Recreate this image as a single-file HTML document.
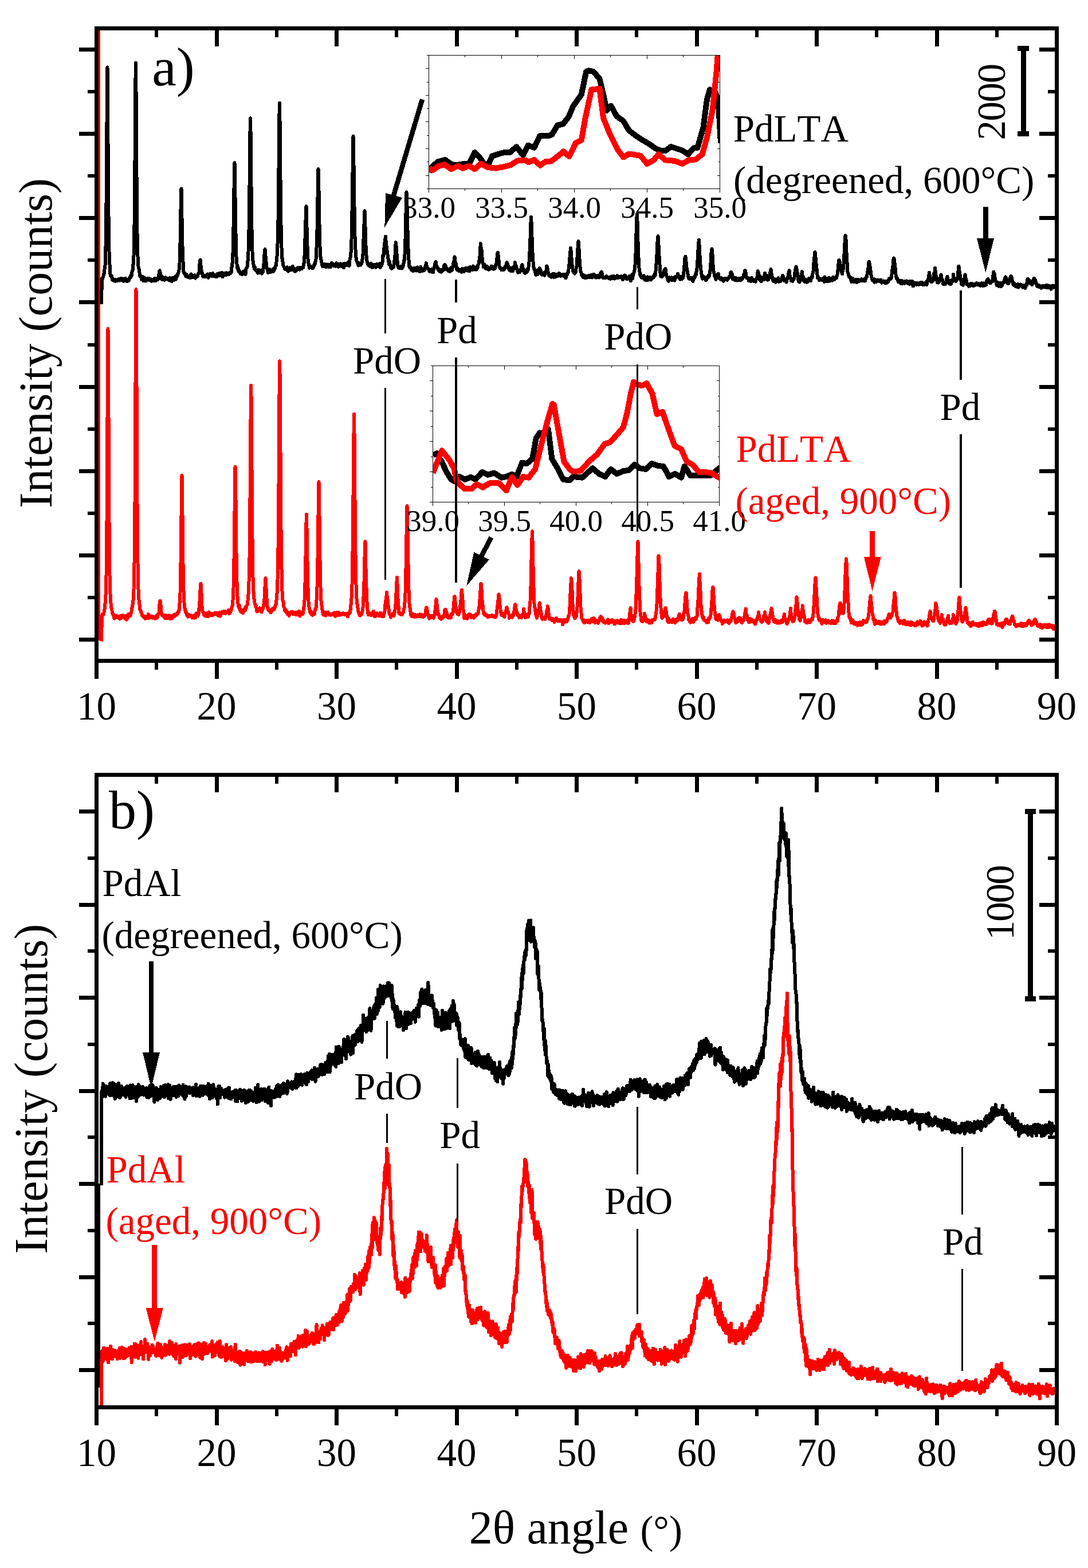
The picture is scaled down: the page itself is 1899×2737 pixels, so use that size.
<!DOCTYPE html>
<html><head><meta charset="utf-8"><title>XRD patterns</title><style>html,body{margin:0;padding:0;background:#fff}svg{display:block}</style></head><body>
<svg width="1899" height="2737" viewBox="0 0 1899 2737" shape-rendering="crispEdges">
<rect width="100%" height="100%" fill="#fff"/>
<defs><clipPath id="ca"><rect x="172" y="53" width="1669" height="1097"/></clipPath><clipPath id="cb"><rect x="172" y="1355" width="1669" height="1098"/></clipPath><clipPath id="ci1"><rect x="749" y="97" width="507" height="232"/></clipPath><clipPath id="ci2"><rect x="756" y="639" width="499" height="237"/></clipPath></defs>
<g clip-path="url(#ca)">
<rect x="172" y="53" width="3" height="1065" fill="#f00"/>
<polyline points="177,527.9 178,486.3 178.5,487.1 179,486.9 179.5,484.1 180,483.8 180.5,481.8 181,478.4 181.5,477.8 182,477 182.5,470.1 183,467.4 183.5,463.7 184,448.7 184.5,430.7 185,402 185.5,356.1 186,294.3 186.5,215.4 187,145.4 187.5,117.5 188,174 188.5,249.1 189,321.8 189.5,376 190,412.7 190.5,439.3 191,452.7 191.5,461.5 192,471.5 192.5,479.2 193,481.5 193.5,482 194,482 194.5,481.2 195,482.1 195.5,485.4 196,488.9 196.5,488.3 197,486.6 197.5,487.7 198,489.6 198.5,489.2 199,490.3 199.5,490.4 200,488.8 200.5,487.6 201,487.8 201.5,490.8 202,490.7 202.5,489.2 203,489.6 203.5,489.9 204,490 204.5,490.3 205,490.4 205.5,488.8 206,488.4 206.5,487.4 207,487.4 207.5,487.8 208,487.4 208.5,489.5 209,489.1 209.5,488.6 210,487.1 210.5,486 211,488.8 211.5,488.4 212,488.4 212.5,488.1 213,486.2 213.5,486.6 214,487.7 214.5,489.7 215,488.4 215.5,487.5 216,490.7 216.5,490.6 217,487.6 217.5,488.5 218,489.2 218.5,487.9 219,486 219.5,487.8 220,489.3 220.5,488.3 221,487.7 221.5,489.3 222,491.3 222.5,490.7 223,489.5 223.5,488.6 224,489.6 224.5,489.9 225,488.9 225.5,487.2 226,486 226.5,484.7 227,483.4 227.5,484 228,484.1 228.5,480.4 229,479.4 229.5,481.7 230,480 230.5,474.5 231,472.3 231.5,472.3 232,468.7 232.5,461.7 233,455.8 233.5,446.4 234,424.7 234.5,392.7 235,346.7 235.5,282.1 236,205.7 236.5,136.9 237,109.6 237.5,157.5 238,232.9 238.5,307.5 239,367.3 239.5,407.4 240,431.7 240.5,447.7 241,457.8 241.5,464.9 242,468.3 242.5,468.9 243,472.5 243.5,475.8 244,480 244.5,482.7 245,481.6 245.5,481 246,482.5 246.5,484.3 247,485.9 247.5,488.2 248,486.4 248.5,486.3 249,484.3 249.5,483.3 250,488.4 250.5,490.4 251,489.3 251.5,488.6 252,486.6 252.5,485 253,487 253.5,490.7 254,487.8 254.5,486.4 255,489.8 255.5,490.1 256,488.4 256.5,486.6 257,487.6 257.5,487 258,485.5 258.5,485.6 259,487 259.5,488.5 260,488.6 260.5,488.2 261,487.4 261.5,486.4 262,488.6 262.5,489.4 263,487.9 263.5,489.1 264,490.6 264.5,491 265,490 265.5,488.4 266,488.3 266.5,488.5 267,489.8 267.5,490 268,489 268.5,488.6 269,489.5 269.5,487 270,485.8 270.5,489.2 271,487.3 271.5,488.9 272,490 272.5,487.2 273,486 273.5,487.1 274,488.5 274.5,486.5 275,486.2 275.5,487.2 276,487.7 276.5,486 277,481.6 277.5,478.2 278,473.6 278.5,473 279,472.5 279.5,475.6 280,477.5 280.5,479.5 281,483.9 281.5,486.4 282,486.7 282.5,487.6 283,486.1 283.5,487.8 284,487.3 284.5,484.1 285,485.2 285.5,485.9 286,485.8 286.5,486 287,487.8 287.5,488.6 288,487.8 288.5,485.8 289,484.4 289.5,487.6 290,487.1 290.5,487.2 291,487.4 291.5,486.4 292,486.6 292.5,486.4 293,486.4 293.5,485.8 294,488.9 294.5,488.7 295,489.1 295.5,489 296,485.1 296.5,485.8 297,486.7 297.5,488.7 298,490.2 298.5,489.5 299,489.2 299.5,490.7 300,490.9 300.5,488.5 301,486.6 301.5,484.8 302,485.9 302.5,488 303,489 303.5,486.5 304,485.6 304.5,486.8 305,484.6 305.5,484.7 306,483.1 306.5,482.5 307,487.8 307.5,485.9 308,482.5 308.5,480.9 309,479.3 309.5,481.8 310,480.5 310.5,478.5 311,477.9 311.5,475.6 312,473.8 312.5,471.2 313,467 313.5,458.8 314,443.3 314.5,424.3 315,400.1 315.5,365.5 316,338 316.5,329.5 317,350.4 317.5,380.1 318,407 318.5,429.7 319,445.7 319.5,457 320,469 320.5,474.5 321,476.1 321.5,476.8 322,476.1 322.5,476.6 323,478.9 323.5,480 324,479.7 324.5,482.5 325,481.7 325.5,479.1 326,480.7 326.5,482.4 327,483.1 327.5,481.7 328,482.2 328.5,483.8 329,484.1 329.5,483.1 330,483 330.5,484.6 331,483.6 331.5,483.1 332,483.2 332.5,485 333,481.9 333.5,478.5 334,480.1 334.5,481.4 335,482.6 335.5,482.5 336,484.1 336.5,482.6 337,480.7 337.5,482.3 338,481.9 338.5,482.5 339,484.3 339.5,482.9 340,480.3 340.5,483 341,485.6 341.5,484.1 342,483.5 342.5,482.8 343,483.5 343.5,483.3 344,481.2 344.5,481.7 345,482.1 345.5,479.6 346,477.5 346.5,478.2 347,477.7 347.5,475.2 348,469.1 348.5,460.2 349,456 349.5,453.4 350,458.7 350.5,462.8 351,469.9 351.5,473.1 352,472.8 352.5,475.1 353,477.6 353.5,479.9 354,482.1 354.5,482.6 355,483.4 355.5,482.2 356,482.8 356.5,482.9 357,482.1 357.5,482 358,481.1 358.5,482.2 359,482.4 359.5,483.2 360,482.2 360.5,481.2 361,481.7 361.5,480.2 362,479 362.5,478.5 363,479.4 363.5,484 364,484.8 364.5,481 365,479.3 365.5,481.4 366,481.7 366.5,478.5 367,477.8 367.5,478.4 368,478.4 368.5,480.4 369,481.7 369.5,479 370,478.3 370.5,478.6 371,477.8 371.5,477.3 372,480.8 372.5,482.2 373,480.8 373.5,482.1 374,480.9 374.5,480.5 375,481.5 375.5,481.1 376,483 376.5,483.1 377,480.1 377.5,480.5 378,482.9 378.5,483.3 379,480.5 379.5,478.2 380,477.6 380.5,477.8 381,479.4 381.5,481.1 382,477.9 382.5,476.8 383,478.2 383.5,479 384,481.4 384.5,479.6 385,477.9 385.5,477.6 386,478.6 386.5,477.7 387,475.9 387.5,476.9 388,479.7 388.5,483.4 389,481.9 389.5,477.5 390,477.5 390.5,477.9 391,478.3 391.5,478 392,476.9 392.5,478.2 393,479.2 393.5,479.1 394,480 394.5,480.2 395,476.4 395.5,477.3 396,479.1 396.5,477.2 397,479.3 397.5,478.8 398,477.1 398.5,477.4 399,478.9 399.5,479.2 400,477.8 400.5,476.3 401,477.2 401.5,476.9 402,475.4 402.5,477 403,476.2 403.5,475.6 404,470.8 404.5,466.6 405,464.8 405.5,459.9 406,453.5 406.5,441.6 407,421.9 407.5,396.9 408,367.3 408.5,329.1 409,296.3 409.5,284 410,308.3 410.5,342.6 411,376.6 411.5,407.8 412,429.9 412.5,447.6 413,458.9 413.5,461 414,465.9 414.5,468.5 415,465.7 415.5,466.9 416,470.7 416.5,474.1 417,472 417.5,472.5 418,475.3 418.5,476 419,476.2 419.5,476.7 420,478 420.5,475.6 421,476.8 421.5,478.5 422,477.7 422.5,478.9 423,476.8 423.5,475.1 424,475.1 424.5,473.9 425,475 425.5,476.3 426,477.2 426.5,478.1 427,476 427.5,472.8 428,476.1 428.5,478.9 429,474 429.5,469.3 430,467.6 430.5,467.5 431,467.4 431.5,465.7 432,461.6 432.5,455.7 433,448.8 433.5,439 434,423.9 434.5,401.5 435,369.6 435.5,324.4 436,273.1 436.5,229.3 437,206.4 437.5,228.4 438,274.2 438.5,323.8 439,367.7 439.5,400.6 440,422.8 440.5,439.4 441,450.1 441.5,455.6 442,460.1 442.5,462.1 443,463.2 443.5,467 444,469.2 444.5,467.3 445,466.1 445.5,469.3 446,471.8 446.5,472 447,472.8 447.5,472.8 448,473.6 448.5,472.9 449,473.2 449.5,475.9 450,476.7 450.5,473.4 451,470.9 451.5,471.4 452,472.6 452.5,475.2 453,475.9 453.5,472.7 454,472.4 454.5,475.4 455,474.8 455.5,476 456,475.5 456.5,474.4 457,477.7 457.5,474.2 458,470.4 458.5,471.6 459,474.4 459.5,469.4 460,462.9 460.5,460.6 461,453.3 461.5,444.7 462,438.1 462.5,435 463,437.7 463.5,446.5 464,453.8 464.5,457.6 465,462.7 465.5,466 466,469.1 466.5,470 467,470.5 467.5,474.1 468,476.1 468.5,473.9 469,473.9 469.5,473.5 470,472.8 470.5,472 471,470.4 471.5,471 472,473.8 472.5,475 473,474.1 473.5,473.9 474,473.5 474.5,473.6 475,473.8 475.5,473.2 476,470.9 476.5,469.4 477,471.5 477.5,473.7 478,472.3 478.5,468 479,468.5 479.5,469.9 480,466.9 480.5,465.3 481,463.4 481.5,463.6 482,463.7 482.5,457.3 483,451.1 483.5,447.2 484,440.9 484.5,425.5 485,406.7 485.5,384.4 486,345.1 486.5,294.5 487,242.5 487.5,198.6 488,180 488.5,208.7 489,259.8 489.5,312.4 490,358 490.5,392.5 491,415.9 491.5,432.9 492,445.3 492.5,451.5 493,451.9 493.5,456.8 494,461.6 494.5,463.4 495,464.7 495.5,465.1 496,466.6 496.5,467.1 497,469.6 497.5,469.6 498,468.8 498.5,470.4 499,470.1 499.5,467.6 500,468.8 500.5,468.3 501,466.3 501.5,469.3 502,471.7 502.5,473.2 503,473.6 503.5,473.3 504,471.8 504.5,472.5 505,472.5 505.5,472.3 506,469.9 506.5,467.3 507,469.2 507.5,470.2 508,467.6 508.5,468.1 509,471.5 509.5,470.5 510,467.7 510.5,467.5 511,465 511.5,466.8 512,468.2 512.5,468.1 513,468.9 513.5,469.5 514,471.5 514.5,473.3 515,473.7 515.5,473 516,472 516.5,471.4 517,472.6 517.5,471.5 518,468.6 518.5,469.1 519,467.8 519.5,467.4 520,469.3 520.5,468.3 521,467.6 521.5,469.6 522,470 522.5,469.2 523,470.6 523.5,469.7 524,467 524.5,467.7 525,469.5 525.5,467.3 526,467.5 526.5,469.3 527,467.9 527.5,466.9 528,466.4 528.5,467.6 529,467.2 529.5,465.3 530,461.9 530.5,459.4 531,456.2 531.5,446.6 532,430.9 532.5,416.1 533,404.1 533.5,384.6 534,365.8 534.5,360 535,378.9 535.5,396.2 536,416.6 536.5,429.8 537,440.6 537.5,451.9 538,456.7 538.5,459.6 539,462.3 539.5,464.3 540,467.7 540.5,466 541,464 541.5,466.3 542,466.2 542.5,464.9 543,465.4 543.5,466.1 544,465.7 544.5,466.4 545,468 545.5,468.3 546,467.9 546.5,468 547,465.1 547.5,463 548,464.2 548.5,464.1 549,460.9 549.5,461.2 550,460.4 550.5,456.3 551,455.3 551.5,452 552,443.9 552.5,432.3 553,419.5 553.5,401.1 554,375.9 554.5,345 555,314.6 555.5,295 556,307.6 556.5,332.2 557,361.4 557.5,391.2 558,413.4 558.5,430.5 559,442.3 559.5,448.6 560,452.4 560.5,453.5 561,455.5 561.5,458.6 562,459.8 562.5,463.5 563,464.7 563.5,465.3 564,465.5 564.5,464.9 565,464.6 565.5,461 566,460.6 566.5,463.3 567,464.4 567.5,464.6 568,464.3 568.5,465.4 569,466.2 569.5,464.6 570,464.8 570.5,462.9 571,461.5 571.5,463.6 572,465.5 572.5,465 573,461.6 573.5,462.5 574,466.2 574.5,465.7 575,463.4 575.5,463.2 576,463.1 576.5,464.4 577,466.1 577.5,464.3 578,461 578.5,461.8 579,458.6 579.5,459.9 580,460.1 580.5,460.5 581,462 581.5,462.6 582,463.3 582.5,464 583,464.1 583.5,463.5 584,462.5 584.5,463.3 585,463.5 585.5,463.3 586,464.6 586.5,463.2 587,459.4 587.5,461.5 588,463.5 588.5,464.2 589,464.4 589.5,461.3 590,464 590.5,465.9 591,462.7 591.5,461.2 592,462.4 592.5,462.5 593,462.2 593.5,464.4 594,462.2 594.5,460.3 595,462.6 595.5,464.9 596,465.4 596.5,462.9 597,463.5 597.5,463.5 598,461.6 598.5,462.4 599,461.2 599.5,464.4 600,467.2 600.5,463.7 601,461.6 601.5,459.9 602,461.1 602.5,463.3 603,462.4 603.5,461.3 604,462.5 604.5,462.6 605,459.7 605.5,460.6 606,463.1 606.5,463.2 607,462 607.5,458.6 608,457.9 608.5,460 609,463 609.5,464.2 610,460.6 610.5,454.2 611,451.1 611.5,450.4 612,447.1 612.5,440.7 613,432.9 613.5,418.6 614,395.3 614.5,369.1 615,336.5 615.5,301.5 616,266.6 616.5,237.8 617,252.6 617.5,286.6 618,324.9 618.5,360.2 619,390.6 619.5,412.7 620,425.9 620.5,436.3 621,445.2 621.5,449.6 622,452.9 622.5,455.7 623,456.2 623.5,456.8 624,459 624.5,459.5 625,460.9 625.5,463.6 626,460.3 626.5,459.1 627,460.8 627.5,460.3 628,461.4 628.5,461.9 629,462.2 629.5,462.5 630,461.8 630.5,459.9 631,458.1 631.5,459.5 632,455 632.5,452.5 633,450.5 633.5,443.5 634,431.9 634.5,417.8 635,406.9 635.5,391.4 636,378.8 636.5,368 637,380.1 637.5,395.4 638,412.8 638.5,428.3 639,438.7 639.5,445.8 640,451.3 640.5,455.5 641,457.4 641.5,459.1 642,461.4 642.5,461.4 643,461 643.5,463.4 644,463.4 644.5,462.2 645,464.6 645.5,465.1 646,463.5 646.5,463.9 647,462.2 647.5,459.6 648,460.8 648.5,462.1 649,462.5 649.5,465.1 650,467.3 650.5,465 651,463.4 651.5,462.4 652,462.5 652.5,462 653,463.4 653.5,464.4 654,463.4 654.5,462.6 655,463.6 655.5,466 656,466.7 656.5,466.1 657,461.8 657.5,460.9 658,461.3 658.5,464.2 659,465 659.5,462.3 660,463.8 660.5,465.1 661,465 661.5,464.1 662,461.2 662.5,460.2 663,460 663.5,463.3 664,467 664.5,464.9 665,463.9 665.5,464.3 666,463.2 666.5,461.8 667,460.4 667.5,457.9 668,451.7 668.5,445.4 669,446.1 669.5,446.3 670,437.3 670.5,432.1 671,429.2 671.5,423.7 672,417.7 672.5,416.7 673,412.6 673.5,419.8 674,423.9 674.5,428.5 675,433.9 675.5,437.6 676,440.6 676.5,443.9 677,448.3 677.5,452.2 678,453.1 678.5,457.3 679,461.7 679.5,458.7 680,456.9 680.5,460.9 681,462.4 681.5,464.8 682,467.2 682.5,466.8 683,468 683.5,469.1 684,467.7 684.5,466.8 685,467.4 685.5,467.3 686,467.2 686.5,467.2 687,466 687.5,461.9 688,458.6 688.5,453.8 689,448.7 689.5,445.2 690,436.7 690.5,426.6 691,423 691.5,428.8 692,435.3 692.5,442.7 693,449.7 693.5,454.7 694,460.6 694.5,464.5 695,465.2 695.5,467.7 696,467.8 696.5,468.1 697,468 697.5,467 698,467 698.5,468.2 699,467 699.5,465.3 700,465.7 700.5,466 701,468.1 701.5,468.4 702,466.1 702.5,465.7 703,466.6 703.5,464.6 704,463.2 704.5,459.6 705,454.8 705.5,455.9 706,453.7 706.5,444.5 707,431.3 707.5,417.2 708,398.2 708.5,377.1 709,357.8 709.5,335.5 710,343 710.5,358.8 711,381.4 711.5,401.7 712,419.9 712.5,434.2 713,445.6 713.5,453.9 714,459.3 714.5,465.8 715,466.8 715.5,465.9 716,466.9 716.5,466.3 717,466.7 717.5,469.1 718,471.4 718.5,470.1 719,469.7 719.5,470.7 720,470.3 720.5,469.7 721,473.4 721.5,472.8 722,469 722.5,468 723,469.8 723.5,471.1 724,469.3 724.5,468.2 725,469.2 725.5,469.1 726,471.6 726.5,472.6 727,469.9 727.5,470.1 728,468.1 728.5,466.5 729,468.3 729.5,470.1 730,469.1 730.5,471.2 731,473.3 731.5,472.8 732,473.7 732.5,471.9 733,473.5 733.5,474 734,468.8 734.5,465.9 735,468.2 735.5,472.1 736,472.2 736.5,473.3 737,472.9 737.5,471.4 738,472.6 738.5,470.6 739,469.9 739.5,471.3 740,471.8 740.5,472.2 741,471.1 741.5,467.5 742,465.5 742.5,465.7 743,462.9 743.5,461.1 744,459 744.5,463.7 745,464.8 745.5,466.1 746,468 746.5,469 747,469.1 747.5,469.4 748,469.3 748.5,469.8 749,472.3 749.5,473.4 750,473.7 750.5,472.9 751,473.7 751.5,473.3 752,472.5 752.5,473.5 753,471.7 753.5,470.2 754,471.9 754.5,472.7 755,471.9 755.5,475.3 756,475.3 756.5,471.2 757,470.6 757.5,468.6 758,465.9 758.5,465.1 759,462 759.5,459 760,458.1 760.5,457 761,457.6 761.5,461.9 762,466.3 762.5,467 763,467.5 763.5,466.5 764,468.6 764.5,470.4 765,471.5 765.5,471.1 766,469.3 766.5,470.9 767,473.1 767.5,473.8 768,472.9 768.5,472.1 769,471.2 769.5,472.4 770,474.7 770.5,474.5 771,471.1 771.5,470.7 772,471.6 772.5,470.8 773,471.8 773.5,472.1 774,470.6 774.5,467.6 775,465.2 775.5,462.6 776,463 776.5,461.8 777,462.7 777.5,464.3 778,464.4 778.5,467.5 779,470.5 779.5,469.2 780,468.7 780.5,470.4 781,471.7 781.5,471.1 782,469.9 782.5,470.7 783,472.1 783.5,473.4 784,471.9 784.5,472.9 785,474 785.5,470.9 786,468.4 786.5,468.6 787,467.5 787.5,468.1 788,471.4 788.5,472.3 789,471.8 789.5,467.5 790,465.5 790.5,467 791,462.7 791.5,458.2 792,458.2 792.5,455.6 793,449.2 793.5,448.6 794,450 794.5,455.9 795,458.9 795.5,458.8 796,462.6 796.5,466.4 797,468.4 797.5,470.9 798,471 798.5,468.2 799,468.7 799.5,470.7 800,472 800.5,473.1 801,471.2 801.5,471 802,473.1 802.5,471.9 803,471.8 803.5,472.2 804,471.2 804.5,470.8 805,471.5 805.5,475.1 806,474.4 806.5,469.5 807,468.9 807.5,469.6 808,470.2 808.5,470.7 809,473.3 809.5,474.3 810,473.5 810.5,471.7 811,469.2 811.5,472.4 812,470.6 812.5,468.3 813,468.4 813.5,470 814,470.2 814.5,467.9 815,469.4 815.5,467.6 816,470.8 816.5,472.6 817,471.5 817.5,470.9 818,467.1 818.5,468.1 819,470.1 819.5,473.3 820,471.8 820.5,466.3 821,466.7 821.5,468.9 822,470.4 822.5,469.1 823,468 823.5,469.5 824,471.2 824.5,469.7 825,468.5 825.5,465.9 826,464.5 826.5,468.3 827,469.4 827.5,468.7 828,470.5 828.5,470.2 829,466.8 829.5,467.3 830,468.7 830.5,466.9 831,467.6 831.5,470.8 832,468.5 832.5,465.1 833,465.3 833.5,467.3 834,466 834.5,462.7 835,461.3 835.5,460.5 836,458.8 836.5,454.6 837,450.8 837.5,447.7 838,438.7 838.5,430.8 839,425 839.5,430.7 840,433.8 840.5,436.3 841,444.2 841.5,448.7 842,452.9 842.5,458.9 843,459.9 843.5,460.9 844,465.9 844.5,465.8 845,463.2 845.5,461.3 846,462.6 846.5,463.9 847,464.9 847.5,469 848,469.1 848.5,466.3 849,466.5 849.5,466.9 850,464.8 850.5,464.9 851,466.7 851.5,466.9 852,467.4 852.5,470.5 853,470.7 853.5,469.1 854,467.6 854.5,468.3 855,469.6 855.5,469.3 856,468 856.5,467.1 857,465.2 857.5,464.6 858,466.4 858.5,465.7 859,468.8 859.5,468.3 860,466 860.5,467.8 861,468.6 861.5,470.1 862,467.5 862.5,465.4 863,466.2 863.5,467.4 864,468.8 864.5,466.7 865,463.8 865.5,461.5 866,460.4 866.5,460.6 867,456.9 867.5,449.8 868,444.1 868.5,441.5 869,441 869.5,445.5 870,451.6 870.5,453.6 871,460.1 871.5,464 872,465.6 872.5,467.4 873,468.2 873.5,468.9 874,467.7 874.5,468.6 875,470.3 875.5,471.3 876,470.9 876.5,469.5 877,468.9 877.5,469.7 878,469.6 878.5,468.8 879,470 879.5,471.1 880,470.8 880.5,468.9 881,466.1 881.5,466.6 882,467.5 882.5,465.3 883,463.8 883.5,463.4 884,461.1 884.5,458 885,458.8 885.5,459.4 886,461.5 886.5,462 887,465.2 887.5,464.9 888,465.4 888.5,470.5 889,471.6 889.5,469.1 890,469.2 890.5,469.1 891,467.8 891.5,471.8 892,473.1 892.5,472.9 893,471.4 893.5,467.5 894,468 894.5,471.7 895,473.2 895.5,472.2 896,469.8 896.5,467 897,465.1 897.5,466.6 898,464.9 898.5,462.1 899,458 899.5,462.5 900,463.4 900.5,463.4 901,467.1 901.5,468.6 902,468.9 902.5,470.3 903,470.8 903.5,473.3 904,475.6 904.5,472.3 905,473.1 905.5,474.8 906,472.8 906.5,472.7 907,473.8 907.5,475 908,473.2 908.5,471.6 909,469.5 909.5,470.2 910,469.1 910.5,464.1 911,462.9 911.5,462 912,466.4 912.5,467.4 913,468.3 913.5,469.9 914,472.8 914.5,474.5 915,471.6 915.5,473.6 916,476.3 916.5,477 917,475.9 917.5,472.9 918,473.3 918.5,471.9 919,471.4 919.5,474.2 920,474.9 920.5,469.8 921,469.6 921.5,471.6 922,469.3 922.5,466.5 923,462.2 923.5,457.2 924,450 924.5,439.2 925,428.4 925.5,415.7 926,400.2 926.5,388.3 927,379 927.5,387.1 928,398 928.5,413.3 929,429.6 929.5,441.1 930,448.3 930.5,457.3 931,464.4 931.5,466.4 932,468.9 932.5,470 933,471.3 933.5,471.7 934,472.4 934.5,476.9 935,479.5 935.5,479.9 936,478.1 936.5,473.6 937,472.8 937.5,471.9 938,474.7 938.5,479 939,477.2 939.5,475.3 940,474.5 940.5,472.6 941,471.8 941.5,468 942,468.9 942.5,471 943,471 943.5,471.5 944,475.5 944.5,478.2 945,475.5 945.5,476.3 946,479.7 946.5,479.6 947,479.2 947.5,479.1 948,477.6 948.5,476.7 949,476.9 949.5,476.3 950,478.7 950.5,480.8 951,478.6 951.5,475 952,474.4 952.5,473.7 953,472.9 953.5,471.1 954,465.1 954.5,464.6 955,467.6 955.5,468.7 956,471.6 956.5,474.8 957,475.9 957.5,479.1 958,481 958.5,480.4 959,480.6 959.5,481.7 960,480.2 960.5,480.2 961,481.3 961.5,481.6 962,483.6 962.5,482.5 963,480.2 963.5,480 964,481 964.5,478.9 965,478.1 965.5,479 966,481 966.5,483.9 967,481.4 967.5,478.8 968,478.1 968.5,479 969,481.6 969.5,483.5 970,480.9 970.5,479.9 971,481.3 971.5,479.3 972,479.1 972.5,479.1 973,480 973.5,481 974,481.9 974.5,481.2 975,477.6 975.5,477 976,479.7 976.5,479.1 977,477.8 977.5,480.3 978,479.5 978.5,479.9 979,482 979.5,480.3 980,479.8 980.5,479.9 981,479.5 981.5,479.7 982,480.2 982.5,480.5 983,479.6 983.5,478.6 984,482 984.5,481.8 985,479.2 985.5,481.9 986,483.3 986.5,481 987,482.3 987.5,485.3 988,482.5 988.5,478.6 989,479.4 989.5,480.2 990,478.5 990.5,477.1 991,475.7 991.5,475.5 992,475.4 992.5,470 993,462.4 993.5,461.2 994,457 994.5,449.6 995,443.5 995.5,438.3 996,432.6 996.5,437.3 997,441.7 997.5,449.5 998,457.5 998.5,462.3 999,464.3 999.5,468.7 1000,472.9 1000.5,474.3 1001,474.3 1001.5,475.9 1002,475.4 1002.5,474.2 1003,477.7 1003.5,476.6 1004,474.9 1004.5,475.8 1005,474.2 1005.5,469.3 1006,466.6 1006.5,464 1007,457.2 1007.5,449.7 1008,440.3 1008.5,432.7 1009,427.9 1009.5,421 1010,423.9 1010.5,433.8 1011,441.3 1011.5,452 1012,461 1012.5,465.8 1013,471.4 1013.5,473.6 1014,474.5 1014.5,476 1015,478.5 1015.5,480.8 1016,481.2 1016.5,480.3 1017,480.8 1017.5,483.2 1018,484.2 1018.5,482 1019,480.2 1019.5,480.5 1020,481 1020.5,481 1021,483.8 1021.5,485.2 1022,483.8 1022.5,483.5 1023,485.4 1023.5,483.5 1024,482.1 1024.5,483.2 1025,482.9 1025.5,483.3 1026,482.7 1026.5,483.3 1027,481.2 1027.5,480.9 1028,484.3 1028.5,482.9 1029,480.9 1029.5,484.4 1030,484.5 1030.5,481.8 1031,481.9 1031.5,481.6 1032,481.6 1032.5,479.7 1033,483.1 1033.5,484.5 1034,481.6 1034.5,481.8 1035,482.3 1035.5,482.5 1036,481.7 1036.5,478.7 1037,481.8 1037.5,481 1038,481.8 1038.5,480.7 1039,481.3 1039.5,484.6 1040,484.3 1040.5,482.2 1041,483.6 1041.5,484.5 1042,483.7 1042.5,482.3 1043,481.3 1043.5,482.7 1044,481.8 1044.5,481.6 1045,484.3 1045.5,484.5 1046,482.1 1046.5,483.8 1047,480.7 1047.5,478.7 1048,478.9 1048.5,476.4 1049,475.9 1049.5,476.4 1050,474.5 1050.5,476.5 1051,478.8 1051.5,482 1052,484.8 1052.5,484 1053,483.6 1053.5,484.9 1054,484.4 1054.5,484.3 1055,483.9 1055.5,484.3 1056,484.8 1056.5,484.2 1057,484.7 1057.5,484.9 1058,483.7 1058.5,482 1059,482.7 1059.5,483.7 1060,483.1 1060.5,483.7 1061,483.5 1061.5,484.2 1062,485.5 1062.5,483.9 1063,483.9 1063.5,483.8 1064,484.2 1064.5,486.1 1065,485.3 1065.5,485.6 1066,486.9 1066.5,486.3 1067,482.9 1067.5,482.6 1068,485 1068.5,485.8 1069,484.4 1069.5,484.3 1070,485.9 1070.5,485.5 1071,483.6 1071.5,481.9 1072,484.7 1072.5,486.5 1073,484.9 1073.5,484.9 1074,485.1 1074.5,483.5 1075,483 1075.5,483.5 1076,484.6 1076.5,483.9 1077,482.1 1077.5,481.4 1078,484.1 1078.5,484.6 1079,483.5 1079.5,482.5 1080,483.7 1080.5,484.6 1081,484 1081.5,484.1 1082,483.7 1082.5,483.7 1083,483.7 1083.5,484.2 1084,483.3 1084.5,481.9 1085,483.6 1085.5,484.7 1086,484.9 1086.5,487.5 1087,488.2 1087.5,487.2 1088,486.8 1088.5,485.3 1089,483.9 1089.5,481.8 1090,481.1 1090.5,480.5 1091,480.9 1091.5,481.8 1092,482 1092.5,483.9 1093,484.6 1093.5,485.7 1094,487.2 1094.5,487.4 1095,487.4 1095.5,486.5 1096,484.9 1096.5,485.1 1097,485.5 1097.5,484.7 1098,485.5 1098.5,484.4 1099,481.9 1099.5,483.5 1100,487.4 1100.5,488.1 1101,490.3 1101.5,487 1102,481.5 1102.5,480.1 1103,479.5 1103.5,484.1 1104,486.5 1104.5,482.4 1105,479.3 1105.5,478.6 1106,476.2 1106.5,475.3 1107,474.4 1107.5,471.7 1108,468 1108.5,462.3 1109,454.7 1109.5,441.8 1110,424.6 1110.5,407.1 1111,390.4 1111.5,378.2 1112,374 1112.5,385.1 1113,404 1113.5,421.3 1114,437.3 1114.5,449.5 1115,458.8 1115.5,468 1116,471.8 1116.5,474.4 1117,476.7 1117.5,480.5 1118,481.5 1118.5,479.7 1119,481.4 1119.5,484.3 1120,484.8 1120.5,483.8 1121,485 1121.5,484.6 1122,482.8 1122.5,482.4 1123,485 1123.5,484.1 1124,481.3 1124.5,484.3 1125,486.5 1125.5,488.4 1126,488.5 1126.5,485.9 1127,487.2 1127.5,489.1 1128,488.9 1128.5,488.9 1129,488.2 1129.5,485.2 1130,483.4 1130.5,487.4 1131,488.8 1131.5,484.2 1132,484.3 1132.5,487.6 1133,488 1133.5,486.9 1134,483.7 1134.5,483.8 1135,486.4 1135.5,488.3 1136,488.5 1136.5,486.5 1137,485.9 1137.5,485.7 1138,486.3 1138.5,485.7 1139,484 1139.5,482.9 1140,483.7 1140.5,484.4 1141,483.4 1141.5,481.4 1142,480 1142.5,478.6 1143,479.3 1143.5,481.2 1144,478 1144.5,473 1145,468.4 1145.5,460.5 1146,450.4 1146.5,444 1147,433.8 1147.5,422 1148,415 1148.5,412 1149,414.6 1149.5,427.4 1150,440.4 1150.5,446.6 1151,452.1 1151.5,461.6 1152,470.2 1152.5,476.4 1153,480 1153.5,482.6 1154,481.7 1154.5,479.5 1155,481.7 1155.5,482.9 1156,481.9 1156.5,481.6 1157,480.5 1157.5,481.1 1158,479 1158.5,474.1 1159,472.4 1159.5,472.4 1160,471 1160.5,470 1161,470.5 1161.5,469.3 1162,475.3 1162.5,478.6 1163,478.7 1163.5,482.1 1164,483.7 1164.5,484.4 1165,486.1 1165.5,486.3 1166,487.7 1166.5,490.3 1167,490.8 1167.5,487.1 1168,484.2 1168.5,484.8 1169,485.9 1169.5,487.1 1170,487.4 1170.5,486.8 1171,484.7 1171.5,484.4 1172,487 1172.5,489.1 1173,489.4 1173.5,487.5 1174,485.1 1174.5,485 1175,486.4 1175.5,486.2 1176,486.4 1176.5,487.2 1177,487.5 1177.5,489.5 1178,487.8 1178.5,483.3 1179,484.9 1179.5,484.9 1180,483.4 1180.5,483.9 1181,482.1 1181.5,481.9 1182,482.4 1182.5,480.6 1183,477.7 1183.5,481.3 1184,481.1 1184.5,481.9 1185,483.5 1185.5,483.7 1186,483.8 1186.5,486.4 1187,487.7 1187.5,484.2 1188,484.4 1188.5,483 1189,482.6 1189.5,486.4 1190,487.4 1190.5,486.3 1191,483 1191.5,484.2 1192,485 1192.5,482.4 1193,478.4 1193.5,474.4 1194,468.5 1194.5,463.4 1195,457.7 1195.5,450.7 1196,448.2 1196.5,447.7 1197,454.4 1197.5,456.7 1198,462.4 1198.5,468.4 1199,469.1 1199.5,472.3 1200,475.5 1200.5,478.2 1201,482.3 1201.5,482.4 1202,483.8 1202.5,486.6 1203,485 1203.5,484.7 1204,485.9 1204.5,485.1 1205,487.4 1205.5,487 1206,484.7 1206.5,485.5 1207,486.6 1207.5,487.6 1208,485.8 1208.5,486.6 1209,489.9 1209.5,490.7 1210,488.7 1210.5,485.5 1211,483.8 1211.5,484.5 1212,485.3 1212.5,484.4 1213,483.1 1213.5,479.8 1214,479.2 1214.5,480.3 1215,478.4 1215.5,474.4 1216,471 1216.5,467.9 1217,460.9 1217.5,454.3 1218,446.8 1218.5,436.8 1219,428.6 1219.5,422.5 1220,418.5 1220.5,427.1 1221,436.4 1221.5,446.3 1222,454.2 1222.5,461.8 1223,469.7 1223.5,472 1224,473.9 1224.5,478.2 1225,480.7 1225.5,484.3 1226,486.8 1226.5,485.2 1227,484.3 1227.5,483.3 1228,482.6 1228.5,486.2 1229,485.6 1229.5,484.9 1230,486.3 1230.5,485.3 1231,486.1 1231.5,488.7 1232,489.2 1232.5,487.6 1233,488.4 1233.5,485 1234,485.8 1234.5,486.3 1235,482.8 1235.5,485.3 1236,484.2 1236.5,480.5 1237,482.5 1237.5,482.9 1238,480.8 1238.5,479.2 1239,474.5 1239.5,471.5 1240,465.9 1240.5,459.7 1241,451.7 1241.5,441.2 1242,436.5 1242.5,434.5 1243,439.1 1243.5,443.9 1244,454.2 1244.5,462.4 1245,468.2 1245.5,473.6 1246,475.5 1246.5,477.1 1247,480.2 1247.5,482.8 1248,483 1248.5,483 1249,485.8 1249.5,487.9 1250,486.4 1250.5,484.4 1251,483 1251.5,485 1252,483.7 1252.5,483 1253,482 1253.5,477.7 1254,480.3 1254.5,482.9 1255,483.6 1255.5,485.7 1256,484.9 1256.5,486.6 1257,487.5 1257.5,487.5 1258,487.7 1258.5,485.1 1259,485.7 1259.5,487.2 1260,486.6 1260.5,487.7 1261,486.2 1261.5,486.4 1262,488.8 1262.5,490.4 1263,490.7 1263.5,488.9 1264,487.1 1264.5,486.7 1265,485.8 1265.5,486.3 1266,487.8 1266.5,486.8 1267,487.1 1267.5,488 1268,488.3 1268.5,486.3 1269,487.5 1269.5,488.8 1270,487.5 1270.5,487.3 1271,485.5 1271.5,485.4 1272,485.6 1272.5,483.6 1273,483.3 1273.5,484 1274,483.1 1274.5,480.8 1275,477.6 1275.5,475.5 1276,475 1276.5,475.5 1277,476.2 1277.5,479.6 1278,478.9 1278.5,482.2 1279,487.5 1279.5,485.3 1280,483.7 1280.5,484.9 1281,486.5 1281.5,486.3 1282,486.2 1282.5,488.5 1283,489.4 1283.5,486.8 1284,484.7 1284.5,486.7 1285,488.8 1285.5,489.1 1286,488.9 1286.5,489.4 1287,487.4 1287.5,486.7 1288,487.3 1288.5,487.1 1289,486.5 1289.5,487.8 1290,489.3 1290.5,486.1 1291,486.6 1291.5,488.2 1292,485.6 1292.5,487.7 1293,489.3 1293.5,488.2 1294,487.9 1294.5,487.2 1295,485 1295.5,485.6 1296,486.3 1296.5,484.8 1297,484.7 1297.5,482.3 1298,479.4 1298.5,478.5 1299,479.4 1299.5,476.6 1300,472.5 1300.5,472 1301,472.5 1301.5,475.2 1302,478.4 1302.5,482.1 1303,483.9 1303.5,485.4 1304,485.9 1304.5,484.7 1305,485 1305.5,484.9 1306,486.3 1306.5,487.8 1307,490.1 1307.5,489.2 1308,486 1308.5,486.5 1309,488.1 1309.5,487.6 1310,488.9 1310.5,490.9 1311,489.1 1311.5,486.9 1312,484.7 1312.5,484.8 1313,488.9 1313.5,488.5 1314,488.6 1314.5,490.6 1315,490.2 1315.5,490.2 1316,489.4 1316.5,489.9 1317,491.3 1317.5,490.5 1318,489.2 1318.5,490.3 1319,491.7 1319.5,488.5 1320,486.5 1320.5,485.9 1321,485.9 1321.5,483.4 1322,477.7 1322.5,475.1 1323,473 1323.5,475.8 1324,476.7 1324.5,479.3 1325,482.2 1325.5,486.7 1326,488.2 1326.5,485.3 1327,483.3 1327.5,483.1 1328,488.5 1328.5,491.4 1329,487.9 1329.5,488.7 1330,489.7 1330.5,489 1331,487.9 1331.5,487.6 1332,485 1332.5,486 1333,488.2 1333.5,484.4 1334,480.6 1334.5,481.6 1335,476.8 1335.5,482.4 1336,481.4 1336.5,482.4 1337,483.6 1337.5,482.5 1338,480.5 1338.5,484.9 1339,488 1339.5,488.2 1340,488.6 1340.5,488.6 1341,488.4 1341.5,486.6 1342,485.7 1342.5,483.6 1343,482.8 1343.5,480.1 1344,475.4 1344.5,475.3 1345,473.6 1345.5,469.8 1346,476.6 1346.5,478.5 1347,478.8 1347.5,482.7 1348,486.1 1348.5,484.6 1349,488 1349.5,490.6 1350,489.8 1350.5,491.3 1351,490 1351.5,490 1352,489.1 1352.5,486.9 1353,487.9 1353.5,491.7 1354,492.9 1354.5,491.7 1355,490.5 1355.5,489.7 1356,487.7 1356.5,486.8 1357,489.9 1357.5,489.5 1358,486.6 1358.5,485.3 1359,488.5 1359.5,492.1 1360,490.9 1360.5,491.2 1361,490.1 1361.5,488.9 1362,490.8 1362.5,491.3 1363,488.4 1363.5,487.5 1364,488.3 1364.5,484.9 1365,483 1365.5,482.9 1366,480.6 1366.5,482.9 1367,482.3 1367.5,484.5 1368,486.6 1368.5,488.1 1369,490.1 1369.5,487.8 1370,487 1370.5,489.8 1371,490.1 1371.5,488.5 1372,489.3 1372.5,492.6 1373,491.4 1373.5,487.4 1374,487.3 1374.5,486.7 1375,484 1375.5,482 1376,479 1376.5,476.6 1377,474.9 1377.5,472 1378,475.6 1378.5,480.3 1379,481.2 1379.5,484.7 1380,486.5 1380.5,487.8 1381,490.2 1381.5,489.4 1382,487.5 1382.5,488.7 1383,490.6 1383.5,491.2 1384,488.8 1384.5,487 1385,488.4 1385.5,487.9 1386,486.2 1386.5,484.2 1387,478.9 1387.5,475.2 1388,474 1388.5,469.5 1389,468.1 1389.5,465.5 1390,467.9 1390.5,469 1391,473.9 1391.5,475.6 1392,478 1392.5,482.1 1393,484.2 1393.5,489.3 1394,491.4 1394.5,489.6 1395,490.4 1395.5,492.6 1396,491.6 1396.5,490.8 1397,488.8 1397.5,485.9 1398,483.8 1398.5,480.6 1399,478.8 1399.5,476.9 1400,474 1400.5,480.5 1401,483 1401.5,482.2 1402,485.5 1402.5,489.4 1403,487.7 1403.5,486.4 1404,490.8 1404.5,492.1 1405,490.2 1405.5,489.4 1406,487.8 1406.5,489.9 1407,490.2 1407.5,489.4 1408,492.7 1408.5,492.6 1409,490.1 1409.5,490.2 1410,491.1 1410.5,489.7 1411,489.3 1411.5,488.2 1412,485.7 1412.5,486.3 1413,486.1 1413.5,485.8 1414,487.5 1414.5,488.2 1415,490.2 1415.5,488.3 1416,484.9 1416.5,484.6 1417,482.9 1417.5,484.4 1418,482.8 1418.5,477.4 1419,474.7 1419.5,473.7 1420,468.3 1420.5,458.3 1421,453.8 1421.5,448 1422,440.5 1422.5,440 1423,446.9 1423.5,448.8 1424,452.4 1424.5,460.5 1425,466.5 1425.5,469.5 1426,473.1 1426.5,480.2 1427,485.3 1427.5,483.5 1428,483.2 1428.5,485.6 1429,486.1 1429.5,486.5 1430,489.4 1430.5,489.1 1431,486.2 1431.5,487.2 1432,487.5 1432.5,487.2 1433,487.5 1433.5,486.8 1434,488.8 1434.5,489.2 1435,489.3 1435.5,489 1436,486.3 1436.5,487.6 1437,488.4 1437.5,489.1 1438,490.2 1438.5,492 1439,487.5 1439.5,483.4 1440,486.9 1440.5,487.9 1441,487.9 1441.5,491.3 1442,488.6 1442.5,486.2 1443,488.7 1443.5,487.8 1444,489.4 1444.5,489.3 1445,489 1445.5,490.6 1446,491.1 1446.5,487.2 1447,484.9 1447.5,485.5 1448,485.3 1448.5,486.7 1449,490.2 1449.5,489.6 1450,486.7 1450.5,487.3 1451,489.5 1451.5,489 1452,487.7 1452.5,489.5 1453,489.6 1453.5,486.1 1454,483.8 1454.5,487.1 1455,486.5 1455.5,485.4 1456,485.7 1456.5,486.5 1457,488 1457.5,485.2 1458,484.5 1458.5,484.6 1459,483.5 1459.5,485.4 1460,485.2 1460.5,482.5 1461,481.9 1461.5,478.9 1462,475.2 1462.5,471.6 1463,465.8 1463.5,460.3 1464,455.1 1464.5,454 1465,454.5 1465.5,456 1466,461.3 1466.5,463.7 1467,468.5 1467.5,472 1468,472.6 1468.5,473.4 1469,473.9 1469.5,477 1470,478.1 1470.5,474.9 1471,473.7 1471.5,471.2 1472,465.2 1472.5,460.7 1473,453.8 1473.5,443.3 1474,431.7 1474.5,424.2 1475,414.9 1475.5,411 1476,411.5 1476.5,418 1477,430.5 1477.5,440.9 1478,448.8 1478.5,457.4 1479,467.2 1479.5,474.4 1480,476.5 1480.5,477.3 1481,478.9 1481.5,481.9 1482,483.5 1482.5,484 1483,483.9 1483.5,483.1 1484,483.6 1484.5,486 1485,486.6 1485.5,489.8 1486,491.9 1486.5,489.9 1487,490.5 1487.5,488.5 1488,485.9 1488.5,486.9 1489,489 1489.5,490 1490,491.3 1490.5,492.4 1491,491.7 1491.5,491.4 1492,490.5 1492.5,490.2 1493,489.5 1493.5,488 1494,489.5 1494.5,488.1 1495,488.6 1495.5,492.9 1496,490.7 1496.5,489.3 1497,490.2 1497.5,488.1 1498,488.4 1498.5,490.2 1499,491 1499.5,490 1500,488.9 1500.5,488.6 1501,489.7 1501.5,490.3 1502,490.2 1502.5,489.5 1503,488.6 1503.5,488.3 1504,487.2 1504.5,489.6 1505,490.3 1505.5,488.8 1506,489.8 1506.5,488.9 1507,490.3 1507.5,490.2 1508,487.2 1508.5,490.7 1509,488.9 1509.5,488.1 1510,490.4 1510.5,488.5 1511,486.2 1511.5,485.1 1512,483.9 1512.5,483.6 1513,483.2 1513.5,479 1514,475.9 1514.5,473.2 1515,471.1 1515.5,467.6 1516,461.6 1516.5,457.5 1517,457 1517.5,458.9 1518,463.7 1518.5,465.4 1519,467 1519.5,472.2 1520,476.8 1520.5,480.3 1521,483.1 1521.5,484.7 1522,487.1 1522.5,488.9 1523,488.4 1523.5,488.6 1524,488.6 1524.5,486.7 1525,487.9 1525.5,491.1 1526,492.7 1526.5,491.4 1527,487.7 1527.5,488.4 1528,490.3 1528.5,490.8 1529,492.4 1529.5,491.3 1530,489.1 1530.5,489.2 1531,489.3 1531.5,488.6 1532,489.7 1532.5,490 1533,489.4 1533.5,489.9 1534,489.5 1534.5,490.7 1535,490.9 1535.5,490.1 1536,491.6 1536.5,491.6 1537,488.9 1537.5,488.5 1538,489.7 1538.5,491.1 1539,493.7 1539.5,493.2 1540,491 1540.5,492.6 1541,491.9 1541.5,490.5 1542,492 1542.5,491.6 1543,490.8 1543.5,491.1 1544,493.2 1544.5,493.7 1545,491.1 1545.5,490.8 1546,492.6 1546.5,494.3 1547,494.1 1547.5,492.2 1548,492.8 1548.5,493.5 1549,492 1549.5,490 1550,489.8 1550.5,491.6 1551,490.1 1551.5,486.8 1552,488.4 1552.5,488.2 1553,485.7 1553.5,486.8 1554,487.4 1554.5,486.9 1555,486.3 1555.5,485.4 1556,483.1 1556.5,479 1557,472.5 1557.5,471 1558,470.7 1558.5,464.9 1559,458.8 1559.5,452.7 1560,450.5 1560.5,452.3 1561,452.9 1561.5,458.8 1562,464 1562.5,467.3 1563,475.7 1563.5,479.1 1564,480.3 1564.5,485 1565,486.7 1565.5,485.2 1566,485.7 1566.5,488.2 1567,487.6 1567.5,489.9 1568,492.5 1568.5,492 1569,492.2 1569.5,492.1 1570,491.6 1570.5,489.6 1571,491 1571.5,492.9 1572,494.2 1572.5,492.9 1573,491.3 1573.5,495.4 1574,493.7 1574.5,489.8 1575,491.7 1575.5,495.2 1576,493.6 1576.5,491.6 1577,492.9 1577.5,492.2 1578,492.1 1578.5,494.3 1579,494.8 1579.5,491.8 1580,490.9 1580.5,492.6 1581,491.7 1581.5,490.8 1582,492.1 1582.5,490.4 1583,493.1 1583.5,493.8 1584,491.6 1584.5,493.4 1585,492.6 1585.5,494.3 1586,495.2 1586.5,492.8 1587,494.1 1587.5,495.8 1588,493.2 1588.5,490.8 1589,493.1 1589.5,494.8 1590,492 1590.5,492.9 1591,493 1591.5,491.5 1592,492.3 1592.5,490.8 1593,492.6 1593.5,499.2 1594,499.2 1594.5,495.6 1595,494.5 1595.5,494 1596,494.7 1596.5,495.5 1597,494.6 1597.5,494 1598,494.4 1598.5,495 1599,496.5 1599.5,497.2 1600,495.6 1600.5,493.7 1601,495.1 1601.5,495.4 1602,494.3 1602.5,495.2 1603,495.9 1603.5,497 1604,495.1 1604.5,494.8 1605,495.8 1605.5,495.2 1606,494.3 1606.5,493.3 1607,494.1 1607.5,496.4 1608,496.1 1608.5,495.3 1609,495.5 1609.5,492.8 1610,494.1 1610.5,496.8 1611,496.3 1611.5,495.8 1612,496.2 1612.5,495.4 1613,496.8 1613.5,496.9 1614,496.3 1614.5,494.9 1615,493.6 1615.5,496.2 1616,495.9 1616.5,492.2 1617,493.6 1617.5,496.9 1618,494.7 1618.5,492.6 1619,490.8 1619.5,488.9 1620,488.2 1620.5,485.6 1621,481.9 1621.5,479.3 1622,475.5 1622.5,479.5 1623,482.5 1623.5,484 1624,484.4 1624.5,488.1 1625,490.9 1625.5,492 1626,491.9 1626.5,492.1 1627,490.8 1627.5,488.2 1628,487.2 1628.5,487.9 1629,489 1629.5,485.3 1630,479.9 1630.5,476.7 1631,476.5 1631.5,474.8 1632,467.7 1632.5,471.8 1633,474.6 1633.5,480.1 1634,483.1 1634.5,483.7 1635,487.8 1635.5,490.9 1636,493.2 1636.5,493.2 1637,491.6 1637.5,493.5 1638,491.5 1638.5,490.8 1639,492.8 1639.5,491.3 1640,489.6 1640.5,488.2 1641,484.8 1641.5,483.9 1642,483 1642.5,479.5 1643,482.7 1643.5,485.5 1644,487.8 1644.5,488.4 1645,488.2 1645.5,489.9 1646,494.9 1646.5,493.6 1647,493.5 1647.5,496.3 1648,493.9 1648.5,493.4 1649,496.5 1649.5,496.4 1650,494.9 1650.5,495.1 1651,492.9 1651.5,491.1 1652,488.4 1652.5,485 1653,487.3 1653.5,482.6 1654,490 1654.5,487.9 1655,488.1 1655.5,490.4 1656,494.3 1656.5,494.9 1657,492 1657.5,493.5 1658,495.8 1658.5,495.9 1659,495.1 1659.5,495.7 1660,495.4 1660.5,491.9 1661,489 1661.5,491.6 1662,491.3 1662.5,489.4 1663,488.9 1663.5,486.3 1664,478.7 1664.5,484.1 1665,484.5 1665.5,487 1666,490.1 1666.5,490 1667,490.3 1667.5,490 1668,490.8 1668.5,491 1669,489.8 1669.5,488.1 1670,487.8 1670.5,488.2 1671,487.4 1671.5,483.6 1672,477.4 1672.5,473.7 1673,473 1673.5,464.6 1674,471 1674.5,473.7 1675,476.1 1675.5,478.8 1676,483.2 1676.5,486.2 1677,486.9 1677.5,490.5 1678,494.5 1678.5,496.4 1679,496.9 1679.5,495.8 1680,494.6 1680.5,495.9 1681,497.8 1681.5,492.2 1682,489.8 1682.5,491.5 1683,488.1 1683.5,485.2 1684,483.1 1684.5,479.5 1685,483.5 1685.5,485.1 1686,486.5 1686.5,488.1 1687,491.8 1687.5,496.3 1688,495 1688.5,496.1 1689,497.1 1689.5,495.5 1690,496.1 1690.5,498.1 1691,499.9 1691.5,499.2 1692,498.8 1692.5,499.3 1693,498.7 1693.5,499.1 1694,496.7 1694.5,495 1695,498.4 1695.5,497.3 1696,494.5 1696.5,498.4 1697,498.2 1697.5,496.1 1698,497.6 1698.5,497.1 1699,497.9 1699.5,499.3 1700,497.4 1700.5,498.4 1701,498.3 1701.5,495.7 1702,496.5 1702.5,497.3 1703,496.1 1703.5,496.2 1704,494.9 1704.5,494 1705,495.5 1705.5,495.3 1706,496.3 1706.5,497.4 1707,496.6 1707.5,496.3 1708,495.4 1708.5,494.9 1709,497.9 1709.5,497.5 1710,496 1710.5,496.8 1711,498.1 1711.5,498.6 1712,497.5 1712.5,495.9 1713,496.3 1713.5,494.1 1714,494.3 1714.5,496.9 1715,497.2 1715.5,498 1716,498.8 1716.5,498.1 1717,494.2 1717.5,495 1718,496.8 1718.5,496.7 1719,498.5 1719.5,497.1 1720,496 1720.5,497.5 1721,497.2 1721.5,492.9 1722,490.7 1722.5,491 1723,489.2 1723.5,487.8 1724,487.5 1724.5,487 1725,491.1 1725.5,491.6 1726,489.1 1726.5,490.9 1727,491.9 1727.5,490.8 1728,494.2 1728.5,494.3 1729,493.9 1729.5,494.1 1730,491.3 1730.5,491 1731,490.4 1731.5,490.6 1732,491.3 1732.5,488.7 1733,482.6 1733.5,480.4 1734,479.9 1734.5,474.8 1735,477.1 1735.5,477.4 1736,479.7 1736.5,484.1 1737,488.5 1737.5,490.6 1738,491 1738.5,491.5 1739,492.6 1739.5,496.2 1740,498.2 1740.5,497.2 1741,495 1741.5,493 1742,496 1742.5,499.1 1743,499.7 1743.5,499.4 1744,497.4 1744.5,495.2 1745,494.9 1745.5,494.2 1746,495.7 1746.5,498.9 1747,500.2 1747.5,497.3 1748,493.9 1748.5,496.6 1749,498.4 1749.5,494.9 1750,493.2 1750.5,495.1 1751,494.6 1751.5,493.9 1752,493.1 1752.5,490.5 1753,489.2 1753.5,487.9 1754,487.2 1754.5,484.3 1755,483.4 1755.5,483.9 1756,484.5 1756.5,487.4 1757,490 1757.5,488.5 1758,490.4 1758.5,494.6 1759,494.5 1759.5,494.2 1760,494.7 1760.5,494.6 1761,490.6 1761.5,488.2 1762,488.5 1762.5,487.2 1763,485.1 1763.5,484.6 1764,482.6 1764.5,481.8 1765,482.3 1765.5,483.6 1766,487.2 1766.5,488.2 1767,490.1 1767.5,492.3 1768,495 1768.5,494.2 1769,493.5 1769.5,498.3 1770,498.5 1770.5,496.3 1771,496 1771.5,498.3 1772,498.7 1772.5,499.3 1773,500 1773.5,498.1 1774,497.5 1774.5,498.8 1775,500.6 1775.5,499 1776,496.4 1776.5,496 1777,498 1777.5,501.6 1778,500.4 1778.5,499.1 1779,499.2 1779.5,499.5 1780,498.3 1780.5,497.9 1781,498.1 1781.5,496.4 1782,498.4 1782.5,499.1 1783,498.7 1783.5,499.6 1784,499.9 1784.5,501.1 1785,501.7 1785.5,498.9 1786,497.8 1786.5,498.1 1787,497.6 1787.5,500.3 1788,499.7 1788.5,499 1789,501.5 1789.5,502.9 1790,500.7 1790.5,497.2 1791,496.8 1791.5,495.2 1792,495.9 1792.5,497.5 1793,491.2 1793.5,487 1794,489.9 1794.5,488 1795,487.3 1795.5,487.8 1796,488.7 1796.5,489.7 1797,490.8 1797.5,494.5 1798,493 1798.5,491 1799,493.1 1799.5,494.4 1800,495.3 1800.5,495.5 1801,495.7 1801.5,497.2 1802,494.7 1802.5,490.1 1803,491.4 1803.5,490 1804,487.6 1804.5,486.2 1805,485.7 1805.5,486.9 1806,487.6 1806.5,488.1 1807,488.4 1807.5,490.2 1808,494.4 1808.5,494.7 1809,494.3 1809.5,497.7 1810,499.4 1810.5,500 1811,497.7 1811.5,498.3 1812,497.8 1812.5,498.6 1813,500.8 1813.5,498.8 1814,498.4 1814.5,500.1 1815,498.7 1815.5,500.1 1816,501.3 1816.5,501.1 1817,502.2 1817.5,502.7 1818,501 1818.5,499.7 1819,501.2 1819.5,499.3 1820,500.4 1820.5,500.9 1821,499 1821.5,499.1 1822,499 1822.5,499 1823,500 1823.5,501.6 1824,501.5 1824.5,499.3 1825,500.3 1825.5,500.8 1826,498.7 1826.5,497.7 1827,501.1 1827.5,502.4 1828,502.3 1828.5,501.2 1829,498 1829.5,501.3 1830,502.3 1830.5,500 1831,500 1831.5,499 1832,500.5 1832.5,500.3 1833,500 1833.5,500.2 1834,502.5 1834.5,504.7 1835,502.9 1835.5,499.9 1836,499 1836.5,500.4 1837,498.9 1837.5,498.6 1838,500.7 1838.5,501.8 1839,500.2 1839.5,499.4 1840,499.3 1840.5,499.4 1841,499.8" fill="none" stroke="#000" stroke-width="6" stroke-linejoin="round" stroke-linecap="square"/>
<polyline points="177,1116.5 178,1075.5 178.5,1073.6 179,1071.5 179.5,1071.5 180,1073.8 180.5,1071.9 181,1071.3 181.5,1069 182,1064.9 182.5,1064.3 183,1060.8 183.5,1053.6 184,1047.3 184.5,1038.5 185,1025.5 185.5,1004.8 186,967.2 186.5,910.9 187,832.4 187.5,730.5 188,628.7 188.5,573.8 189,625.4 189.5,725.4 190,829.9 190.5,910.4 191,965.7 191.5,1004.8 192,1024.6 192.5,1037 193,1046.9 193.5,1052.8 194,1059.4 194.5,1062.1 195,1062.8 195.5,1065.9 196,1069.7 196.5,1071.3 197,1071.2 197.5,1073.7 198,1074.4 198.5,1072.7 199,1074.8 199.5,1079.6 200,1078.9 200.5,1076.2 201,1075.5 201.5,1074.9 202,1074.8 202.5,1075.8 203,1076.4 203.5,1075.1 204,1077 204.5,1076.2 205,1076.2 205.5,1077.8 206,1075.5 206.5,1075.7 207,1076.5 207.5,1076.9 208,1077 208.5,1078.9 209,1080.5 209.5,1079.5 210,1076.8 210.5,1075 211,1077.9 211.5,1079.1 212,1077.6 212.5,1076.8 213,1078.1 213.5,1075.9 214,1073.5 214.5,1074.2 215,1076.6 215.5,1076.6 216,1074.9 216.5,1078.2 217,1078.2 217.5,1076.9 218,1077.3 218.5,1077.8 219,1080.4 219.5,1078.2 220,1075.4 220.5,1078.9 221,1081.8 221.5,1079.6 222,1078.4 222.5,1079.2 223,1078 223.5,1075.2 224,1072.1 224.5,1073.6 225,1075 225.5,1074.2 226,1072.3 226.5,1073.6 227,1074.1 227.5,1074.8 228,1073.7 228.5,1069.7 229,1069.6 229.5,1067.1 230,1063.1 230.5,1060.5 231,1058.9 231.5,1055.5 232,1053.4 232.5,1047.7 233,1038.5 233.5,1029 234,1011.6 234.5,982.7 235,940.8 235.5,878.3 236,785.9 236.5,670 237,556.5 237.5,505.3 238,557.5 238.5,669.8 239,785.7 239.5,877.1 240,941.3 240.5,982.9 241,1010 241.5,1028.9 242,1039 242.5,1047.1 243,1052.6 243.5,1055.3 244,1058.8 244.5,1064.6 245,1065.4 245.5,1065.1 246,1068.2 246.5,1069.5 247,1069.3 247.5,1071 248,1074.5 248.5,1074 249,1073.4 249.5,1074.3 250,1076.5 250.5,1075 251,1076 251.5,1077.8 252,1077.5 252.5,1077 253,1078.4 253.5,1079.7 254,1079.5 254.5,1078.5 255,1075.5 255.5,1077.6 256,1079.3 256.5,1078.3 257,1079 257.5,1079.1 258,1077.2 258.5,1074.4 259,1072 259.5,1075.1 260,1078.6 260.5,1076.7 261,1076.6 261.5,1077.5 262,1076.9 262.5,1078.3 263,1076.3 263.5,1075.6 264,1078.1 264.5,1077.4 265,1077 265.5,1075.8 266,1075.8 266.5,1077.9 267,1078.7 267.5,1077.1 268,1077.1 268.5,1078.3 269,1078.1 269.5,1077.6 270,1077.6 270.5,1077.8 271,1079.9 271.5,1079.2 272,1077.6 272.5,1077.8 273,1074.5 273.5,1074.9 274,1077.9 274.5,1078 275,1077 275.5,1074.5 276,1073 276.5,1070.8 277,1070.3 277.5,1070.4 278,1062.2 278.5,1054.2 279,1049.2 279.5,1048.7 280,1051.3 280.5,1056.3 281,1061.6 281.5,1068 282,1071.2 282.5,1073.2 283,1074.6 283.5,1074.6 284,1073.8 284.5,1075.2 285,1075.6 285.5,1074.2 286,1074.2 286.5,1075.3 287,1075.7 287.5,1075.9 288,1079.5 288.5,1079.2 289,1074.1 289.5,1074.9 290,1077.8 290.5,1077.4 291,1077.7 291.5,1078.3 292,1079 292.5,1077.6 293,1074.8 293.5,1074.8 294,1077.2 294.5,1075 295,1074.3 295.5,1074.3 296,1075.5 296.5,1079.9 297,1079.6 297.5,1076.9 298,1076.7 298.5,1078.9 299,1079.9 299.5,1080 300,1079.3 300.5,1076.4 301,1074.9 301.5,1076.7 302,1076.9 302.5,1073.9 303,1073.5 303.5,1074.9 304,1075.2 304.5,1076.3 305,1074 305.5,1072.5 306,1074.1 306.5,1073.5 307,1072.9 307.5,1072.7 308,1071.4 308.5,1073 309,1073 309.5,1070.5 310,1071.6 310.5,1070.9 311,1067.6 311.5,1066.4 312,1068.1 312.5,1066.1 313,1059.9 313.5,1053.4 314,1045.5 314.5,1035 315,1013.2 315.5,983.6 316,947.5 316.5,901.1 317,854.2 317.5,829.7 318,853.7 318.5,897.3 319,946.8 319.5,983.8 320,1013.1 320.5,1032.1 321,1042.5 321.5,1051.8 322,1056.3 322.5,1061.4 323,1065 323.5,1064.1 324,1066.6 324.5,1069.4 325,1068.8 325.5,1069 326,1072.1 326.5,1074.4 327,1071.9 327.5,1072.5 328,1076 328.5,1076.6 329,1075.1 329.5,1073 330,1073.7 330.5,1074 331,1074 331.5,1074.2 332,1074.3 332.5,1074.5 333,1075 333.5,1075.8 334,1075.4 334.5,1074.6 335,1076.8 335.5,1078.6 336,1077.2 336.5,1075 337,1075.2 337.5,1076 338,1076 338.5,1076.4 339,1078.8 339.5,1078.4 340,1074.1 340.5,1075.3 341,1077.8 341.5,1078 342,1073.3 342.5,1070.4 343,1072.3 343.5,1071.2 344,1072 344.5,1074.4 345,1075 345.5,1074.6 346,1072.4 346.5,1071.7 347,1069.7 347.5,1060.9 348,1054.9 348.5,1049.8 349,1040.7 349.5,1030 350,1020.7 350.5,1018.6 351,1028.7 351.5,1036.1 352,1047.6 352.5,1058.1 353,1063.3 353.5,1066.3 354,1068 354.5,1067.9 355,1068.7 355.5,1069.7 356,1072.6 356.5,1074 357,1074.5 357.5,1074.9 358,1072.2 358.5,1072.7 359,1074.1 359.5,1075.5 360,1072.7 360.5,1070.5 361,1073.4 361.5,1072.9 362,1072.5 362.5,1073 363,1074.5 363.5,1076.3 364,1072 364.5,1068.5 365,1070 365.5,1071.7 366,1072.4 366.5,1071.8 367,1072.7 367.5,1074.3 368,1073.6 368.5,1072.1 369,1072 369.5,1071.3 370,1072.1 370.5,1074.1 371,1071.9 371.5,1072.6 372,1073.6 372.5,1072.8 373,1072.7 373.5,1071.4 374,1072.3 374.5,1071.2 375,1070 375.5,1069.6 376,1070.5 376.5,1071.6 377,1070.5 377.5,1070.1 378,1071.2 378.5,1072.1 379,1071 379.5,1070 380,1072.4 380.5,1074.7 381,1071.1 381.5,1070.7 382,1072.6 382.5,1071.4 383,1071.3 383.5,1069.1 384,1071.6 384.5,1075.7 385,1072.6 385.5,1070.1 386,1070.2 386.5,1069.3 387,1069.7 387.5,1070.4 388,1068.3 388.5,1067.7 389,1068.1 389.5,1067.9 390,1068.2 390.5,1069.6 391,1069.5 391.5,1066.6 392,1068.8 392.5,1070 393,1069.9 393.5,1070.9 394,1069.7 394.5,1068.3 395,1067.7 395.5,1068.2 396,1067.9 396.5,1068.9 397,1068.4 397.5,1068.8 398,1067.5 398.5,1065.1 399,1067.3 399.5,1069.2 400,1069.9 400.5,1071.2 401,1070.4 401.5,1069.3 402,1068.7 402.5,1067.1 403,1065.7 403.5,1064.4 404,1062.4 404.5,1060.3 405,1059.8 405.5,1057.7 406,1054.2 406.5,1047.5 407,1037.4 407.5,1025.8 408,1005.9 408.5,975.9 409,939.2 409.5,893 410,847.3 410.5,814.7 411,832.2 411.5,871.2 412,921.2 412.5,964.7 413,994.4 413.5,1015.2 414,1029.7 414.5,1040.7 415,1050 415.5,1053.7 416,1055.6 416.5,1059.3 417,1056.7 417.5,1056.2 418,1062.4 418.5,1062.3 419,1063.4 419.5,1066.5 420,1063.5 420.5,1066.1 421,1068.3 421.5,1068.1 422,1068.7 422.5,1065.9 423,1067.1 423.5,1070.1 424,1070.2 424.5,1066.5 425,1065.5 425.5,1065.3 426,1063.5 426.5,1066.2 427,1064.8 427.5,1065.7 428,1064.9 428.5,1059.6 429,1061.5 429.5,1061.9 430,1059.6 430.5,1057.3 431,1056.6 431.5,1055.9 432,1052.3 432.5,1047.7 433,1041.7 433.5,1037 434,1028 434.5,1015.1 435,1000.1 435.5,973.5 436,930.9 436.5,870.1 437,800.8 437.5,732.4 438,672.6 438.5,690.4 439,747 439.5,817.2 440,883.9 440.5,939 441,979.7 441.5,1007.5 442,1022.7 442.5,1033.2 443,1041.6 443.5,1045.4 444,1048.1 444.5,1052 445,1054.2 445.5,1055.9 446,1058.3 446.5,1058.5 447,1058 447.5,1061.5 448,1065.5 448.5,1067.6 449,1064.1 449.5,1062.8 450,1064.3 450.5,1063.5 451,1064.2 451.5,1065.4 452,1066.3 452.5,1062.8 453,1061.4 453.5,1065.6 454,1066.5 454.5,1063.2 455,1061.8 455.5,1062.7 456,1065.2 456.5,1068.3 457,1065.6 457.5,1063.7 458,1064.2 458.5,1063.6 459,1062.8 459.5,1059.3 460,1056.7 460.5,1054.2 461,1052 461.5,1045.1 462,1035.1 462.5,1024.6 463,1013.8 463.5,1009 464,1015.3 464.5,1026.9 465,1039.8 465.5,1045 466,1050.9 466.5,1059 467,1060.1 467.5,1059.9 468,1064.6 468.5,1065 469,1064.6 469.5,1066.1 470,1065.9 470.5,1065 471,1064.9 471.5,1065.8 472,1068.1 472.5,1069.4 473,1067.4 473.5,1066.5 474,1067.1 474.5,1065 475,1062.8 475.5,1063.3 476,1063.3 476.5,1062 477,1063.1 477.5,1064 478,1064.3 478.5,1063.9 479,1061 479.5,1060.6 480,1060.3 480.5,1057.8 481,1056 481.5,1055.5 482,1051.3 482.5,1047.6 483,1043 483.5,1035.9 484,1026.6 484.5,1011 485,990 485.5,956.7 486,907.6 486.5,845.6 487,769.8 487.5,689.8 488,630.4 488.5,649.8 489,706 489.5,786.6 490,863.5 490.5,922.6 491,965.4 491.5,993.6 492,1014.1 492.5,1031.8 493,1041.9 493.5,1047.3 494,1049.9 494.5,1051.1 495,1055.9 495.5,1060 496,1060.7 496.5,1061.7 497,1064.6 497.5,1067 498,1066.3 498.5,1066.4 499,1065.7 499.5,1065.2 500,1068.5 500.5,1069.9 501,1068.6 501.5,1069.9 502,1072.5 502.5,1071.2 503,1069.2 503.5,1070 504,1073.3 504.5,1074.9 505,1072.3 505.5,1069.3 506,1069.9 506.5,1072.3 507,1071.2 507.5,1069.6 508,1069.3 508.5,1068.2 509,1068.2 509.5,1069.7 510,1069.1 510.5,1069.2 511,1068.4 511.5,1070.2 512,1071.9 512.5,1069.1 513,1070.3 513.5,1072.4 514,1070.8 514.5,1068.6 515,1069.1 515.5,1071.3 516,1072.1 516.5,1072.7 517,1072.9 517.5,1070 518,1069.1 518.5,1068.7 519,1069.7 519.5,1072.5 520,1072.5 520.5,1072 521,1070.9 521.5,1070.2 522,1066.8 522.5,1067.2 523,1073.7 523.5,1075.5 524,1072.1 524.5,1071 525,1071.8 525.5,1070.7 526,1070.2 526.5,1071.3 527,1070.7 527.5,1070.8 528,1072 528.5,1071.3 529,1068.7 529.5,1065.6 530,1063.7 530.5,1059.8 531,1053.2 531.5,1047.9 532,1036.9 532.5,1017.3 533,996.3 533.5,970.3 534,939.3 534.5,912.8 535,898 535.5,921.4 536,948 536.5,978.7 537,1006.5 537.5,1025.3 538,1038.9 538.5,1050 539,1056 539.5,1060 540,1063.3 540.5,1064.3 541,1066.3 541.5,1069.2 542,1067.3 542.5,1066.5 543,1070.4 543.5,1072.2 544,1069.2 544.5,1069.1 545,1073.2 545.5,1073.9 546,1073.1 546.5,1071.7 547,1070.6 547.5,1068.9 548,1068.3 548.5,1071.8 549,1070.9 549.5,1065.9 550,1065.2 550.5,1062.1 551,1062 551.5,1062.1 552,1054.8 552.5,1047.5 553,1037.4 553.5,1024 554,1004.8 554.5,974.5 555,939.3 555.5,899.6 556,861 556.5,841 557,864.8 557.5,899.2 558,938.8 558.5,977.2 559,1005.9 559.5,1025.3 560,1041.5 560.5,1049.2 561,1052 561.5,1056.8 562,1061.1 562.5,1064.5 563,1068.3 563.5,1069.3 564,1071.4 564.5,1073.2 565,1069.5 565.5,1069.2 566,1072.4 566.5,1073.8 567,1072.1 567.5,1070.6 568,1074.2 568.5,1074.5 569,1070.7 569.5,1068.7 570,1069.3 570.5,1071.6 571,1070.8 571.5,1072 572,1072.4 572.5,1068.5 573,1070.2 573.5,1072.5 574,1071.5 574.5,1073 575,1072.6 575.5,1071.9 576,1072 576.5,1073.1 577,1073.7 577.5,1071.8 578,1072.5 578.5,1072.4 579,1072.2 579.5,1072.1 580,1072.3 580.5,1072.6 581,1071.3 581.5,1071.9 582,1073.1 582.5,1071.1 583,1070.2 583.5,1069.5 584,1070 584.5,1073 585,1075.8 585.5,1075.1 586,1073.5 586.5,1074.9 587,1074.5 587.5,1070.5 588,1069.1 588.5,1071.8 589,1072.7 589.5,1072.4 590,1071 590.5,1068.6 591,1070.2 591.5,1073.8 592,1072.8 592.5,1072.1 593,1072 593.5,1071.2 594,1071.1 594.5,1072.3 595,1071.9 595.5,1071.1 596,1073.3 596.5,1073.1 597,1070.5 597.5,1071 598,1072.3 598.5,1070.3 599,1070.3 599.5,1071.5 600,1072.4 600.5,1072.2 601,1071.6 601.5,1072.9 602,1070.5 602.5,1071 603,1073.3 603.5,1070.9 604,1071 604.5,1073.5 605,1072.5 605.5,1070.6 606,1073.1 606.5,1075.6 607,1076.3 607.5,1074.5 608,1071 608.5,1069.8 609,1070.6 609.5,1070 610,1069.6 610.5,1070.6 611,1066.9 611.5,1064.8 612,1062 612.5,1055.6 613,1050 613.5,1044.7 614,1036.2 614.5,1020.3 615,994.8 615.5,962.3 616,922.7 616.5,865.4 617,806.5 617.5,757.3 618,722.5 618.5,755.5 619,808 619.5,870.8 620,927.4 620.5,967.9 621,999.1 621.5,1021.1 622,1033.7 622.5,1044.6 623,1051.1 623.5,1054.2 624,1057.7 624.5,1061.4 625,1063.7 625.5,1067.3 626,1069 626.5,1069.7 627,1072.2 627.5,1073.5 628,1073 628.5,1074.6 629,1074 629.5,1072.5 630,1073.3 630.5,1072.5 631,1072.6 631.5,1071.3 632,1068.4 632.5,1067.1 633,1064.3 633.5,1060.3 634,1053.8 634.5,1041.7 635,1030.6 635.5,1015.6 636,994.2 636.5,972 637,956.4 637.5,945.3 638,969.1 638.5,991.6 639,1010.9 639.5,1026 640,1038 640.5,1051 641,1060 641.5,1064.6 642,1068 642.5,1072.2 643,1073.1 643.5,1071.5 644,1071.1 644.5,1070.3 645,1071.6 645.5,1072.4 646,1071.5 646.5,1072.4 647,1072.9 647.5,1073.5 648,1074.3 648.5,1071.8 649,1070 649.5,1072.7 650,1073.2 650.5,1072.8 651,1072.2 651.5,1068.6 652,1067 652.5,1069.1 653,1071.2 653.5,1074.9 654,1076.3 654.5,1074.3 655,1074.5 655.5,1071.8 656,1070.8 656.5,1072.6 657,1074.9 657.5,1074.2 658,1070.1 658.5,1071 659,1072.6 659.5,1072.6 660,1073.1 660.5,1073.2 661,1072.2 661.5,1071.5 662,1075 662.5,1074.8 663,1072.6 663.5,1072.2 664,1069.5 664.5,1071.8 665,1074.2 665.5,1074.7 666,1075.7 666.5,1074.5 667,1072.3 667.5,1074.4 668,1075.4 668.5,1075.7 669,1076 669.5,1073.8 670,1072.6 670.5,1070.6 671,1067.6 671.5,1067.3 672,1063.2 672.5,1054.5 673,1051.3 673.5,1047.3 674,1043.2 674.5,1040.1 675,1033.6 675.5,1040.7 676,1041.9 676.5,1046.2 677,1053 677.5,1057.3 678,1059.4 678.5,1063.2 679,1067.1 679.5,1070.7 680,1072.2 680.5,1072.8 681,1072.8 681.5,1074.5 682,1077.7 682.5,1074.9 683,1072.8 683.5,1073.5 684,1073.6 684.5,1073.3 685,1072.1 685.5,1071 686,1071.2 686.5,1072.8 687,1074.6 687.5,1075.3 688,1072.6 688.5,1069.5 689,1065.9 689.5,1064.1 690,1061.1 690.5,1054.1 691,1046 691.5,1035.3 692,1023.5 692.5,1014.8 693,1008 693.5,1018.9 694,1031 694.5,1045.2 695,1053.4 695.5,1058.1 696,1067.6 696.5,1071 697,1069.1 697.5,1070.6 698,1071.7 698.5,1070 699,1071.7 699.5,1072.1 700,1070.5 700.5,1072.1 701,1073.1 701.5,1073.1 702,1071.6 702.5,1070.3 703,1070.4 703.5,1070.1 704,1067.8 704.5,1065.1 705,1062.9 705.5,1062 706,1057.3 706.5,1051.9 707,1045.8 707.5,1035.2 708,1017.6 708.5,992.5 709,964.9 709.5,933.7 710,901.8 710.5,883 711,898.8 711.5,922.5 712,953.2 712.5,983.8 713,1009.5 713.5,1030.1 714,1045 714.5,1054.3 715,1058.6 715.5,1060.3 716,1064.6 716.5,1067.3 717,1071.6 717.5,1074.2 718,1072.3 718.5,1072.6 719,1076.4 719.5,1076.4 720,1074.9 720.5,1073.3 721,1071.9 721.5,1073.8 722,1074.3 722.5,1074.5 723,1075.2 723.5,1076.7 724,1074.2 724.5,1072.9 725,1075.9 725.5,1076.2 726,1076.7 726.5,1076.3 727,1074.5 727.5,1073.7 728,1075.3 728.5,1074.8 729,1073.3 729.5,1074.8 730,1076.1 730.5,1075.8 731,1074 731.5,1075.1 732,1074.9 732.5,1073.3 733,1072.4 733.5,1073.5 734,1076.1 734.5,1073.8 735,1073.4 735.5,1076.2 736,1075.7 736.5,1073.1 737,1073.8 737.5,1076.5 738,1074.5 738.5,1074.7 739,1076.7 739.5,1076.5 740,1075 740.5,1074.5 741,1075.2 741.5,1073.9 742,1071.9 742.5,1070 743,1067.1 743.5,1062.8 744,1061 744.5,1060.5 745,1061.4 745.5,1065.5 746,1067.9 746.5,1070.3 747,1072.7 747.5,1074.5 748,1074.4 748.5,1075.9 749,1079.6 749.5,1077.9 750,1075.1 750.5,1077 751,1076.8 751.5,1077.4 752,1077.6 752.5,1075 753,1074.7 753.5,1077.4 754,1076.1 754.5,1074.9 755,1074.6 755.5,1075.1 756,1077.9 756.5,1077.4 757,1078.8 757.5,1077.1 758,1074.6 758.5,1073.4 759,1070.5 759.5,1065.1 760,1060.6 760.5,1055.8 761,1051.5 761.5,1045.9 762,1050 762.5,1053.6 763,1059.4 763.5,1064 764,1070.7 764.5,1072.7 765,1070.1 765.5,1071.2 766,1073.6 766.5,1075.9 767,1077.5 767.5,1079.1 768,1078.9 768.5,1078.1 769,1076.8 769.5,1077.9 770,1080.7 770.5,1079.4 771,1078.6 771.5,1077.9 772,1077 772.5,1077.8 773,1078.6 773.5,1076.3 774,1074.8 774.5,1076.7 775,1075.9 775.5,1074 776,1068.6 776.5,1064.5 777,1065 777.5,1063.7 778,1064.2 778.5,1066 779,1071.2 779.5,1069.6 780,1070.4 780.5,1074.1 781,1076.8 781.5,1078.1 782,1076.2 782.5,1074.8 783,1076.4 783.5,1078.5 784,1077.7 784.5,1075.7 785,1076.8 785.5,1077.6 786,1078.4 786.5,1078.6 787,1077.9 787.5,1074.7 788,1071.4 788.5,1071.3 789,1071.3 789.5,1072.4 790,1071.3 790.5,1069.1 791,1065.3 791.5,1061.6 792,1058.3 792.5,1049.2 793,1041.7 793.5,1041 794,1043.7 794.5,1049.6 795,1056.4 795.5,1059 796,1061.6 796.5,1066.8 797,1068.6 797.5,1070.1 798,1069 798.5,1070.1 799,1072.4 799.5,1070.6 800,1072.6 800.5,1072.9 801,1070.8 801.5,1069.7 802,1065.9 802.5,1063.6 803,1062.3 803.5,1056.8 804,1050.8 804.5,1046.9 805,1040.7 805.5,1033.3 806,1029.9 806.5,1036.2 807,1042.4 807.5,1047.3 808,1057.6 808.5,1064.6 809,1067 809.5,1069 810,1073.8 810.5,1079.4 811,1076.7 811.5,1074.6 812,1075 812.5,1074.9 813,1077.2 813.5,1078.5 814,1076.8 814.5,1075.7 815,1079.4 815.5,1080.1 816,1078.4 816.5,1077.9 817,1076 817.5,1073.9 818,1072.8 818.5,1072.1 819,1071.9 819.5,1072.9 820,1075.1 820.5,1074.1 821,1073.7 821.5,1073.4 822,1076.1 822.5,1077.8 823,1074.8 823.5,1077.6 824,1077.2 824.5,1075.2 825,1075.6 825.5,1076.2 826,1075.3 826.5,1076.8 827,1078.7 827.5,1076.7 828,1076.7 828.5,1076.3 829,1074.1 829.5,1074 830,1075 830.5,1073.1 831,1071.9 831.5,1074.2 832,1072.9 832.5,1072.4 833,1072 833.5,1071.3 834,1071.9 834.5,1071.1 835,1069 835.5,1064.3 836,1059.4 836.5,1062.6 837,1058.8 837.5,1046.4 838,1037.9 838.5,1031.6 839,1026.6 839.5,1018.6 840,1021.4 840.5,1028.4 841,1037.7 841.5,1046.7 842,1055 842.5,1056.4 843,1060.7 843.5,1065.5 844,1070.8 844.5,1071.7 845,1069.4 845.5,1071.5 846,1071.4 846.5,1071.3 847,1072.6 847.5,1074.3 848,1074.1 848.5,1073.5 849,1074.2 849.5,1073.6 850,1073.4 850.5,1074.7 851,1076.4 851.5,1077.3 852,1076.7 852.5,1077 853,1075.5 853.5,1075.8 854,1076.4 854.5,1074.8 855,1074.8 855.5,1075.8 856,1075.5 856.5,1075.4 857,1075.8 857.5,1074.4 858,1075.4 858.5,1074.9 859,1075.9 859.5,1076.1 860,1074 860.5,1076.4 861,1075.1 861.5,1074.8 862,1076.7 862.5,1075.7 863,1075.8 863.5,1074.6 864,1076.1 864.5,1077.5 865,1075.8 865.5,1075.5 866,1075 866.5,1073.1 867,1068.9 867.5,1064.4 868,1060.3 868.5,1056.8 869,1054.1 869.5,1047 870,1040 870.5,1037.4 871,1040.8 871.5,1044.3 872,1049.3 872.5,1055.6 873,1061.2 873.5,1064 874,1067.2 874.5,1070.5 875,1073.6 875.5,1072.8 876,1072.9 876.5,1073.4 877,1070.8 877.5,1071.6 878,1074.1 878.5,1074.9 879,1075.3 879.5,1072.8 880,1073.8 880.5,1076.9 881,1075.4 881.5,1071.5 882,1069.9 882.5,1069.5 883,1066.2 883.5,1064.4 884,1060.8 884.5,1060 885,1064.1 885.5,1065.4 886,1068.3 886.5,1067.7 887,1067.8 887.5,1071.1 888,1071.3 888.5,1073.6 889,1078.9 889.5,1077 890,1074.9 890.5,1076.4 891,1076 891.5,1076.1 892,1076.8 892.5,1075.9 893,1074.6 893.5,1077.4 894,1077.8 894.5,1075.4 895,1072.7 895.5,1072.5 896,1074.2 896.5,1072.4 897,1071.4 897.5,1066 898,1062.1 898.5,1059.3 899,1055.8 899.5,1055.3 900,1057.1 900.5,1062.2 901,1063.9 901.5,1067.1 902,1067.6 902.5,1068.7 903,1072.9 903.5,1073.9 904,1074.2 904.5,1073.5 905,1074.1 905.5,1075.9 906,1076.1 906.5,1078.4 907,1078.3 907.5,1075.7 908,1076.1 908.5,1075.5 909,1077 909.5,1078.4 910,1076.5 910.5,1077.1 911,1075.4 911.5,1073.3 912,1072.6 912.5,1073.1 913,1072.9 913.5,1070.8 914,1062.8 914.5,1067.4 915,1070.5 915.5,1071.6 916,1071.1 916.5,1075.3 917,1078.2 917.5,1077.6 918,1075.4 918.5,1074.5 919,1075.9 919.5,1075.4 920,1076.1 920.5,1075.3 921,1072.9 921.5,1075.6 922,1076.7 922.5,1071.8 923,1072.2 923.5,1072 924,1066.8 924.5,1058.7 925,1054.1 925.5,1049 926,1037 926.5,1023.2 927,1000.6 927.5,978.1 928,957.9 928.5,938.8 929,927.4 929.5,942.9 930,966.4 930.5,988 931,1007.9 931.5,1025.9 932,1042.1 932.5,1053.6 933,1059.2 933.5,1060 934,1064 934.5,1068 935,1070.9 935.5,1073.3 936,1074.1 936.5,1076.5 937,1078.7 937.5,1077.2 938,1072.9 938.5,1071.9 939,1072 939.5,1069.7 940,1066.7 940.5,1063.2 941,1056.9 941.5,1054.5 942,1052.4 942.5,1058 943,1060.7 943.5,1065.7 944,1067.9 944.5,1070.2 945,1075.7 945.5,1077.3 946,1078.1 946.5,1080.7 947,1080.6 947.5,1078.4 948,1078.1 948.5,1079.6 949,1079 949.5,1078.6 950,1079.4 950.5,1079.3 951,1080.4 951.5,1080.7 952,1079.1 952.5,1077.2 953,1076.3 953.5,1072.7 954,1069 954.5,1065.2 955,1063.3 955.5,1062.7 956,1058 956.5,1060.9 957,1066.6 957.5,1071.1 958,1071.6 958.5,1076.1 959,1080.4 959.5,1080.4 960,1080.9 960.5,1080 961,1078.6 961.5,1079.9 962,1081.7 962.5,1081.3 963,1082.3 963.5,1083 964,1081 964.5,1080.1 965,1082.8 965.5,1081.7 966,1083 966.5,1084 967,1084.6 967.5,1085.9 968,1081 968.5,1081 969,1083.1 969.5,1082.1 970,1082.2 970.5,1082.8 971,1078.9 971.5,1079.8 972,1083.4 972.5,1082.6 973,1083.9 973.5,1083.9 974,1081.6 974.5,1082.7 975,1083.8 975.5,1083.2 976,1082.8 976.5,1082.4 977,1082.1 977.5,1084.3 978,1084.2 978.5,1083.6 979,1082.7 979.5,1081.9 980,1083.9 980.5,1084.7 981,1085.4 981.5,1086.9 982,1090.1 982.5,1086.8 983,1084.1 983.5,1083.7 984,1081.7 984.5,1082.8 985,1085 985.5,1085.9 986,1084.6 986.5,1085.2 987,1084 987.5,1081.6 988,1082.9 988.5,1081.8 989,1083.5 989.5,1085.1 990,1082.6 990.5,1082.6 991,1080.5 991.5,1078.8 992,1076.9 992.5,1074.9 993,1074.3 993.5,1072.4 994,1066.9 994.5,1059.5 995,1050.4 995.5,1036.1 996,1025.7 996.5,1017.9 997,1009.2 997.5,1014.4 998,1021.9 998.5,1031.2 999,1044.3 999.5,1055.3 1000,1061.4 1000.5,1066.5 1001,1071.6 1001.5,1074.8 1002,1076.3 1002.5,1074.3 1003,1074.8 1003.5,1079.5 1004,1078.9 1004.5,1076.5 1005,1077.8 1005.5,1076.6 1006,1072.5 1006.5,1070 1007,1067 1007.5,1060.3 1008,1052.7 1008.5,1042.2 1009,1028.6 1009.5,1015.9 1010,1005.8 1010.5,997 1011,1000.7 1011.5,1010.4 1012,1024.3 1012.5,1036.2 1013,1048.6 1013.5,1060 1014,1067 1014.5,1070.1 1015,1074.3 1015.5,1079.3 1016,1080.9 1016.5,1080.9 1017,1081.9 1017.5,1083.3 1018,1081.5 1018.5,1083.6 1019,1086.4 1019.5,1087.1 1020,1087.2 1020.5,1083.8 1021,1084.8 1021.5,1085.8 1022,1085.9 1022.5,1085.3 1023,1083.7 1023.5,1083.4 1024,1083.1 1024.5,1084.5 1025,1083.8 1025.5,1083.5 1026,1086.3 1026.5,1085 1027,1083.4 1027.5,1083.6 1028,1083.4 1028.5,1084.5 1029,1085.8 1029.5,1086.7 1030,1085.1 1030.5,1084.8 1031,1084.7 1031.5,1082.4 1032,1081.8 1032.5,1080.5 1033,1081.3 1033.5,1080.9 1034,1080.3 1034.5,1084.9 1035,1082.7 1035.5,1079.5 1036,1079 1036.5,1079.5 1037,1079.4 1037.5,1081.5 1038,1082.7 1038.5,1086.2 1039,1086.9 1039.5,1084.9 1040,1084.7 1040.5,1083.8 1041,1083.3 1041.5,1082.9 1042,1084.8 1042.5,1085.8 1043,1085.6 1043.5,1086 1044,1087.8 1044.5,1087 1045,1084.7 1045.5,1083.5 1046,1083.4 1046.5,1083 1047,1080.5 1047.5,1077.8 1048,1077.2 1048.5,1080 1049,1076 1049.5,1078.3 1050,1079 1050.5,1080.8 1051,1079 1051.5,1079.4 1052,1083.7 1052.5,1085.4 1053,1082.9 1053.5,1084 1054,1086 1054.5,1085.2 1055,1085.4 1055.5,1085.3 1056,1086.2 1056.5,1087.6 1057,1086 1057.5,1085.5 1058,1086.7 1058.5,1086.1 1059,1085.7 1059.5,1085.6 1060,1084.6 1060.5,1082.4 1061,1081.3 1061.5,1082.4 1062,1083.9 1062.5,1088.3 1063,1087.1 1063.5,1083.4 1064,1082.9 1064.5,1083 1065,1084.3 1065.5,1085.6 1066,1084.2 1066.5,1083.9 1067,1085.9 1067.5,1084.9 1068,1083.1 1068.5,1082.2 1069,1083.5 1069.5,1085.4 1070,1085.5 1070.5,1083.9 1071,1084.4 1071.5,1084.1 1072,1084.7 1072.5,1089.5 1073,1087.8 1073.5,1085.5 1074,1085.1 1074.5,1083.9 1075,1085.7 1075.5,1087.1 1076,1086.5 1076.5,1086.7 1077,1085.1 1077.5,1083.2 1078,1084.8 1078.5,1085.1 1079,1085 1079.5,1087.1 1080,1086.8 1080.5,1085.8 1081,1086.8 1081.5,1088 1082,1087.3 1082.5,1085.7 1083,1086.6 1083.5,1081.9 1084,1081.7 1084.5,1086.8 1085,1088.2 1085.5,1085.7 1086,1083.6 1086.5,1086.4 1087,1085.3 1087.5,1082.8 1088,1084.9 1088.5,1086.7 1089,1087.6 1089.5,1088.1 1090,1086.8 1090.5,1084.2 1091,1083.1 1091.5,1084.4 1092,1085.6 1092.5,1085.7 1093,1086.2 1093.5,1085.3 1094,1083.8 1094.5,1083.1 1095,1086.1 1095.5,1087.5 1096,1086.2 1096.5,1088 1097,1087.2 1097.5,1084.7 1098,1081.1 1098.5,1077.9 1099,1072.9 1099.5,1068.9 1100,1069.1 1100.5,1061 1101,1069.7 1101.5,1072.7 1102,1075.7 1102.5,1077.9 1103,1079.9 1103.5,1082.8 1104,1083.5 1104.5,1081.6 1105,1083.3 1105.5,1084.9 1106,1084.7 1106.5,1083.1 1107,1078.5 1107.5,1077.4 1108,1076.2 1108.5,1071.9 1109,1069.7 1109.5,1064.6 1110,1052.1 1110.5,1037.7 1111,1023.7 1111.5,1007.9 1112,988.3 1112.5,970.2 1113,957.8 1113.5,945.3 1114,963.5 1114.5,982.4 1115,1004.2 1115.5,1022.7 1116,1037.5 1116.5,1048 1117,1061 1117.5,1067.7 1118,1071.6 1118.5,1076.2 1119,1080.7 1119.5,1083.4 1120,1084.2 1120.5,1084.5 1121,1081.3 1121.5,1083.8 1122,1084.8 1122.5,1081.6 1123,1081 1123.5,1077.5 1124,1076.8 1124.5,1077.1 1125,1071 1125.5,1073.2 1126,1074.3 1126.5,1077.3 1127,1081.9 1127.5,1083.5 1128,1083.7 1128.5,1084.4 1129,1085 1129.5,1085.5 1130,1084.6 1130.5,1083.6 1131,1082.4 1131.5,1082.3 1132,1084.1 1132.5,1084.6 1133,1086 1133.5,1087.5 1134,1084.1 1134.5,1083.6 1135,1086.8 1135.5,1085.4 1136,1085.4 1136.5,1085.3 1137,1085.8 1137.5,1087.3 1138,1084.9 1138.5,1082 1139,1081.9 1139.5,1082.7 1140,1082.9 1140.5,1082.4 1141,1082 1141.5,1081.9 1142,1081.4 1142.5,1082.1 1143,1080.6 1143.5,1078.9 1144,1078.3 1144.5,1074.2 1145,1070.5 1145.5,1067.5 1146,1062.8 1146.5,1054.1 1147,1042.8 1147.5,1027.8 1148,1012.8 1148.5,999 1149,983.5 1149.5,970.3 1150,974.6 1150.5,983.1 1151,999.8 1151.5,1015.9 1152,1030.1 1152.5,1044.2 1153,1054.8 1153.5,1060.8 1154,1066.3 1154.5,1072.1 1155,1077.1 1155.5,1078.7 1156,1078.3 1156.5,1076.1 1157,1075.1 1157.5,1075.4 1158,1074.3 1158.5,1075.7 1159,1074.4 1159.5,1072.2 1160,1070.2 1160.5,1065.4 1161,1062.5 1161.5,1061 1162,1061.5 1162.5,1065.7 1163,1070.3 1163.5,1072.9 1164,1076 1164.5,1078.6 1165,1080.4 1165.5,1084.7 1166,1085.5 1166.5,1081.4 1167,1079.3 1167.5,1081 1168,1083.8 1168.5,1085.9 1169,1085.6 1169.5,1084.5 1170,1085.3 1170.5,1083.9 1171,1083.1 1171.5,1084.7 1172,1084.3 1172.5,1082.9 1173,1084 1173.5,1086.3 1174,1085.8 1174.5,1081.6 1175,1080.5 1175.5,1082.9 1176,1084.3 1176.5,1084.3 1177,1083.2 1177.5,1084.9 1178,1087 1178.5,1085.9 1179,1083 1179.5,1081.4 1180,1083.5 1180.5,1084.1 1181,1083.2 1181.5,1083.9 1182,1083.7 1182.5,1083.6 1183,1081.1 1183.5,1078.7 1184,1078.6 1184.5,1077.6 1185,1074 1185.5,1074.9 1186,1072 1186.5,1073.5 1187,1074.4 1187.5,1075.8 1188,1077.1 1188.5,1078.4 1189,1081.7 1189.5,1082.2 1190,1081.4 1190.5,1080.9 1191,1081.9 1191.5,1081.3 1192,1079.6 1192.5,1079.8 1193,1076.6 1193.5,1070.7 1194,1067.8 1194.5,1067.1 1195,1062.4 1195.5,1053.3 1196,1046.6 1196.5,1040.7 1197,1037.1 1197.5,1034.6 1198,1038.5 1198.5,1045.7 1199,1054.5 1199.5,1062.4 1200,1068.5 1200.5,1071.2 1201,1072.5 1201.5,1075.3 1202,1079.7 1202.5,1083 1203,1083.8 1203.5,1083.4 1204,1084.2 1204.5,1085.7 1205,1086.6 1205.5,1085 1206,1082 1206.5,1084.1 1207,1086 1207.5,1083.1 1208,1081.3 1208.5,1080.1 1209,1082.2 1209.5,1084.2 1210,1084.2 1210.5,1085.7 1211,1084.4 1211.5,1083 1212,1082.8 1212.5,1081 1213,1078.5 1213.5,1078 1214,1081.3 1214.5,1080.7 1215,1078.6 1215.5,1077.7 1216,1077.6 1216.5,1076.2 1217,1068.7 1217.5,1060.8 1218,1055.6 1218.5,1047.4 1219,1035.4 1219.5,1025.1 1220,1015.1 1220.5,1007 1221,1001.7 1221.5,1015.4 1222,1020.2 1222.5,1031.6 1223,1044.5 1223.5,1055.6 1224,1063.3 1224.5,1066.5 1225,1071 1225.5,1073.5 1226,1075 1226.5,1078.7 1227,1079.3 1227.5,1077.4 1228,1077.9 1228.5,1080 1229,1082.4 1229.5,1083.2 1230,1082.7 1230.5,1082.4 1231,1082.8 1231.5,1083.3 1232,1084 1232.5,1085.1 1233,1086.2 1233.5,1086.6 1234,1084.4 1234.5,1082.6 1235,1083.1 1235.5,1084.9 1236,1086.3 1236.5,1084.4 1237,1080.6 1237.5,1078.5 1238,1078.2 1238.5,1079.3 1239,1079 1239.5,1077.3 1240,1075.3 1240.5,1073.1 1241,1067 1241.5,1061.3 1242,1056.6 1242.5,1048.6 1243,1040.1 1243.5,1030.5 1244,1026.7 1244.5,1024.8 1245,1031.3 1245.5,1039.4 1246,1047.8 1246.5,1055.8 1247,1063 1247.5,1066.9 1248,1069.3 1248.5,1074.6 1249,1077.4 1249.5,1080.6 1250,1081.3 1250.5,1079.6 1251,1081.3 1251.5,1081.5 1252,1080.3 1252.5,1079.8 1253,1082.6 1253.5,1080.5 1254,1074.1 1254.5,1074.2 1255,1076.3 1255.5,1073 1256,1074.8 1256.5,1075.7 1257,1079.3 1257.5,1079.9 1258,1080.4 1258.5,1082.9 1259,1084.8 1259.5,1084.7 1260,1084.1 1260.5,1086.8 1261,1089 1261.5,1085.4 1262,1085.5 1262.5,1086.4 1263,1085 1263.5,1084 1264,1082.5 1264.5,1083.2 1265,1084.4 1265.5,1085.4 1266,1085 1266.5,1085.2 1267,1084.9 1267.5,1085.5 1268,1085.4 1268.5,1084.2 1269,1083.3 1269.5,1082.4 1270,1082.5 1270.5,1084 1271,1085.9 1271.5,1085.3 1272,1086.5 1272.5,1088.1 1273,1085.8 1273.5,1084.7 1274,1084.6 1274.5,1082 1275,1082.8 1275.5,1084.6 1276,1080.6 1276.5,1080 1277,1079.7 1277.5,1076.3 1278,1072.6 1278.5,1070.6 1279,1071.2 1279.5,1067.5 1280,1069.7 1280.5,1069.5 1281,1072.3 1281.5,1076.8 1282,1078.2 1282.5,1080.9 1283,1083.6 1283.5,1083.7 1284,1084.3 1284.5,1087.1 1285,1085 1285.5,1083.1 1286,1082.4 1286.5,1082.5 1287,1085.8 1287.5,1084.7 1288,1080.9 1288.5,1079.6 1289,1080.6 1289.5,1078.6 1290,1078.3 1290.5,1077.8 1291,1078.7 1291.5,1079 1292,1080.3 1292.5,1079.1 1293,1082.1 1293.5,1085.9 1294,1084.4 1294.5,1086 1295,1087.2 1295.5,1085 1296,1084.9 1296.5,1082.5 1297,1082.9 1297.5,1083.5 1298,1081.7 1298.5,1080 1299,1076.9 1299.5,1077 1300,1075.1 1300.5,1069.1 1301,1067 1301.5,1062.8 1302,1064.8 1302.5,1071.6 1303,1073.1 1303.5,1073.4 1304,1075.6 1304.5,1077.4 1305,1082.1 1305.5,1082.2 1306,1080.9 1306.5,1084.3 1307,1086.3 1307.5,1085.7 1308,1086 1308.5,1083.6 1309,1080.9 1309.5,1080.2 1310,1082.9 1310.5,1083.4 1311,1080.7 1311.5,1081.7 1312,1083.7 1312.5,1084.7 1313,1082.7 1313.5,1084 1314,1085 1314.5,1083.6 1315,1084.7 1315.5,1083.3 1316,1083.9 1316.5,1085.5 1317,1086.4 1317.5,1088.3 1318,1089.5 1318.5,1088.4 1319,1086.6 1319.5,1085 1320,1082.4 1320.5,1082.3 1321,1082 1321.5,1079.5 1322,1077.6 1322.5,1076.2 1323,1074.1 1323.5,1074.8 1324,1068.4 1324.5,1072.7 1325,1073.7 1325.5,1078.1 1326,1078.4 1326.5,1078.9 1327,1081.3 1327.5,1082.3 1328,1083.2 1328.5,1084 1329,1085.5 1329.5,1086.1 1330,1083.6 1330.5,1083.4 1331,1084.6 1331.5,1082 1332,1080.6 1332.5,1081.7 1333,1079.7 1333.5,1074.5 1334,1073.4 1334.5,1072.6 1335,1068.4 1335.5,1073.1 1336,1075.6 1336.5,1076.6 1337,1076.6 1337.5,1080.6 1338,1084.8 1338.5,1084.9 1339,1085.2 1339.5,1086.1 1340,1085 1340.5,1082.4 1341,1084.8 1341.5,1087.8 1342,1081.7 1342.5,1080.2 1343,1080.7 1343.5,1076.5 1344,1074 1344.5,1073.3 1345,1070.9 1345.5,1067 1346,1065.1 1346.5,1061.8 1347,1067.1 1347.5,1067.8 1348,1068.6 1348.5,1073.9 1349,1076.8 1349.5,1079.4 1350,1082.1 1350.5,1083.7 1351,1085 1351.5,1085.4 1352,1085.6 1352.5,1085.8 1353,1085.4 1353.5,1082.3 1354,1082.8 1354.5,1085 1355,1084.4 1355.5,1085.6 1356,1086.8 1356.5,1087.5 1357,1086.4 1357.5,1084.1 1358,1085.2 1358.5,1087.5 1359,1086 1359.5,1084.8 1360,1085.6 1360.5,1084.7 1361,1085.8 1361.5,1087.3 1362,1087 1362.5,1085.2 1363,1084.3 1363.5,1083.1 1364,1083.7 1364.5,1084.2 1365,1083.2 1365.5,1085.8 1366,1084.9 1366.5,1082.6 1367,1080.5 1367.5,1081.7 1368,1079.3 1368.5,1074.3 1369,1072 1369.5,1079.7 1370,1080.5 1370.5,1078.9 1371,1082.2 1371.5,1080.9 1372,1082.1 1372.5,1086 1373,1087.3 1373.5,1089 1374,1087.8 1374.5,1087.3 1375,1085.9 1375.5,1083 1376,1082.3 1376.5,1082.3 1377,1080.2 1377.5,1077.9 1378,1076.1 1378.5,1074.6 1379,1070.8 1379.5,1066.3 1380,1061.8 1380.5,1069 1381,1071.6 1381.5,1076.3 1382,1077.3 1382.5,1078.5 1383,1083 1383.5,1085 1384,1082.4 1384.5,1080.8 1385,1084 1385.5,1083.8 1386,1081.6 1386.5,1079.6 1387,1078 1387.5,1075.1 1388,1068.8 1388.5,1063.6 1389,1060 1389.5,1055 1390,1047.1 1390.5,1042 1391,1046.8 1391.5,1051.4 1392,1056 1392.5,1062.7 1393,1067.8 1393.5,1071.9 1394,1072.1 1394.5,1077.1 1395,1081.5 1395.5,1080.5 1396,1082.8 1396.5,1083.5 1397,1082.1 1397.5,1079.5 1398,1076.1 1398.5,1074.2 1399,1070 1399.5,1067 1400,1065.2 1400.5,1061.9 1401,1057 1401.5,1064.1 1402,1067.6 1402.5,1070.8 1403,1075 1403.5,1077.5 1404,1075.9 1404.5,1078.7 1405,1085.2 1405.5,1085.3 1406,1083.5 1406.5,1085.3 1407,1084.7 1407.5,1085.1 1408,1087.3 1408.5,1087.4 1409,1086.7 1409.5,1085.2 1410,1085.6 1410.5,1083.6 1411,1082.2 1411.5,1085.3 1412,1085.5 1412.5,1082.9 1413,1083.9 1413.5,1086.5 1414,1085.8 1414.5,1083.5 1415,1083.1 1415.5,1083.5 1416,1081.1 1416.5,1080.2 1417,1081.7 1417.5,1081.3 1418,1080.4 1418.5,1077.7 1419,1075.8 1419.5,1071 1420,1063.2 1420.5,1058.5 1421,1050.6 1421.5,1038.6 1422,1027.8 1422.5,1019.2 1423,1011.7 1423.5,1008.3 1424,1017.1 1424.5,1025.4 1425,1033.6 1425.5,1041.6 1426,1051.1 1426.5,1059.7 1427,1067.1 1427.5,1072.2 1428,1076.2 1428.5,1076.7 1429,1078.3 1429.5,1081.2 1430,1082 1430.5,1083.4 1431,1081.9 1431.5,1081.1 1432,1083.5 1432.5,1083.7 1433,1083 1433.5,1085.3 1434,1087.8 1434.5,1088.7 1435,1086.5 1435.5,1081.7 1436,1083.6 1436.5,1086 1437,1083.9 1437.5,1084.9 1438,1086.1 1438.5,1083.4 1439,1083.6 1439.5,1083.7 1440,1084.3 1440.5,1084.8 1441,1082.3 1441.5,1084.7 1442,1087.6 1442.5,1086.5 1443,1084 1443.5,1085 1444,1086.5 1444.5,1086.1 1445,1085.5 1445.5,1083.5 1446,1083.4 1446.5,1086.9 1447,1086.7 1447.5,1084.8 1448,1085.6 1448.5,1086.9 1449,1087.3 1449.5,1085.7 1450,1087.6 1450.5,1088.3 1451,1086.5 1451.5,1085.5 1452,1083.3 1452.5,1084.7 1453,1086.1 1453.5,1086 1454,1083.7 1454.5,1085.4 1455,1088.1 1455.5,1087.1 1456,1085.8 1456.5,1084.9 1457,1086.4 1457.5,1087.6 1458,1088.4 1458.5,1084.7 1459,1083.7 1459.5,1085.9 1460,1084.8 1460.5,1084.3 1461,1084.6 1461.5,1084.5 1462,1081.1 1462.5,1077.1 1463,1076.3 1463.5,1075.2 1464,1070.4 1464.5,1065.5 1465,1060.5 1465.5,1056 1466,1053.6 1466.5,1052.4 1467,1054.3 1467.5,1055.2 1468,1057.6 1468.5,1060.4 1469,1063.7 1469.5,1070.4 1470,1070.1 1470.5,1068.4 1471,1066.5 1471.5,1066.6 1472,1070.8 1472.5,1065.7 1473,1058.4 1473.5,1054.2 1474,1043.9 1474.5,1031.4 1475,1018.4 1475.5,1003.5 1476,991 1476.5,982.5 1477,975.4 1477.5,981.9 1478,991.8 1478.5,1006.9 1479,1022.1 1479.5,1034.7 1480,1043.4 1480.5,1052.1 1481,1060.5 1481.5,1068.6 1482,1075 1482.5,1077.9 1483,1078.5 1483.5,1076.8 1484,1078.3 1484.5,1082 1485,1083.1 1485.5,1084 1486,1087.1 1486.5,1086.4 1487,1086.5 1487.5,1084.7 1488,1082.4 1488.5,1084.6 1489,1086 1489.5,1085 1490,1085 1490.5,1087.9 1491,1089.4 1491.5,1088.7 1492,1086.6 1492.5,1087.7 1493,1089.6 1493.5,1086.7 1494,1087.1 1494.5,1087.9 1495,1087.4 1495.5,1088.3 1496,1088.4 1496.5,1089.7 1497,1092 1497.5,1090.7 1498,1087.9 1498.5,1087.4 1499,1087.8 1499.5,1088.6 1500,1086.5 1500.5,1085.9 1501,1090.2 1501.5,1091 1502,1089.6 1502.5,1088.6 1503,1089.9 1503.5,1090.7 1504,1087.7 1504.5,1086.1 1505,1087 1505.5,1090 1506,1088.6 1506.5,1085.2 1507,1083.1 1507.5,1085.1 1508,1086.5 1508.5,1084.6 1509,1084.5 1509.5,1084.1 1510,1086.2 1510.5,1086.1 1511,1085.1 1511.5,1084.8 1512,1083.8 1512.5,1085 1513,1085.6 1513.5,1082.7 1514,1081 1514.5,1079.9 1515,1079 1515.5,1077.1 1516,1072.1 1516.5,1070 1517,1065.8 1517.5,1059.5 1518,1055.1 1518.5,1048.5 1519,1042.7 1519.5,1040.2 1520,1045.9 1520.5,1049.7 1521,1053.4 1521.5,1058.7 1522,1063.4 1522.5,1070.2 1523,1073.5 1523.5,1074.2 1524,1079.4 1524.5,1081.3 1525,1079.5 1525.5,1082.1 1526,1085.7 1526.5,1087.8 1527,1089.8 1527.5,1085.4 1528,1082.8 1528.5,1085.4 1529,1086.4 1529.5,1085.9 1530,1085.7 1530.5,1087.2 1531,1087.5 1531.5,1086.3 1532,1086.4 1532.5,1086.5 1533,1085.3 1533.5,1086.1 1534,1088.1 1534.5,1086 1535,1085 1535.5,1089.1 1536,1089.3 1536.5,1087 1537,1087.1 1537.5,1089.7 1538,1089.2 1538.5,1086.4 1539,1087.6 1539.5,1088.1 1540,1086.3 1540.5,1087.6 1541,1087.5 1541.5,1086.1 1542,1088.7 1542.5,1089.3 1543,1089.2 1543.5,1086.9 1544,1083.5 1544.5,1084.7 1545,1086.4 1545.5,1084.8 1546,1084.9 1546.5,1086.1 1547,1084.7 1547.5,1084.7 1548,1084.2 1548.5,1081.5 1549,1080.1 1549.5,1078.4 1550,1078.4 1550.5,1077.1 1551,1073.2 1551.5,1072.5 1552,1072 1552.5,1072.5 1553,1073.2 1553.5,1073.1 1554,1076.1 1554.5,1078.7 1555,1075.9 1555.5,1073.6 1556,1074.4 1556.5,1074.9 1557,1072.7 1557.5,1070.6 1558,1069.8 1558.5,1068.2 1559,1062.9 1559.5,1055.7 1560,1050.3 1560.5,1046.4 1561,1041.9 1561.5,1034.6 1562,1038.5 1562.5,1041.3 1563,1048.3 1563.5,1057.6 1564,1063.7 1564.5,1067 1565,1071.9 1565.5,1076 1566,1077.3 1566.5,1077.1 1567,1080 1567.5,1082.7 1568,1084.2 1568.5,1084.7 1569,1083.6 1569.5,1083.8 1570,1085.8 1570.5,1088 1571,1085.7 1571.5,1085.8 1572,1084 1572.5,1084.5 1573,1085.2 1573.5,1084.8 1574,1085.5 1574.5,1087 1575,1085.8 1575.5,1084.9 1576,1088.8 1576.5,1086.6 1577,1084.7 1577.5,1085.8 1578,1082.8 1578.5,1084.9 1579,1087.6 1579.5,1088.7 1580,1087 1580.5,1085.9 1581,1090.1 1581.5,1087.4 1582,1086.3 1582.5,1089.4 1583,1088.8 1583.5,1089.7 1584,1090.3 1584.5,1087.7 1585,1086 1585.5,1086.7 1586,1089.6 1586.5,1089.6 1587,1088.7 1587.5,1088.7 1588,1088.4 1588.5,1089.3 1589,1090 1589.5,1091.6 1590,1089.5 1590.5,1085.9 1591,1086.4 1591.5,1087.7 1592,1088.2 1592.5,1089.5 1593,1088.6 1593.5,1087.4 1594,1088 1594.5,1089.3 1595,1088.8 1595.5,1088.9 1596,1091.8 1596.5,1090.1 1597,1089.5 1597.5,1090.4 1598,1088.6 1598.5,1090.4 1599,1092 1599.5,1089.2 1600,1088.4 1600.5,1087.9 1601,1085.4 1601.5,1087.4 1602,1089 1602.5,1089.7 1603,1087 1603.5,1088.2 1604,1087.9 1604.5,1087.9 1605,1087.2 1605.5,1086.8 1606,1085.7 1606.5,1083.8 1607,1084.3 1607.5,1085.7 1608,1087.3 1608.5,1087.8 1609,1089.4 1609.5,1092.6 1610,1088.2 1610.5,1087 1611,1091.1 1611.5,1088.6 1612,1087.6 1612.5,1085.9 1613,1085.5 1613.5,1089.8 1614,1088.6 1614.5,1085.9 1615,1087.5 1615.5,1089.1 1616,1089 1616.5,1087.5 1617,1088.3 1617.5,1088.2 1618,1090.4 1618.5,1092.6 1619,1089.8 1619.5,1086.4 1620,1084 1620.5,1082.2 1621,1080.3 1621.5,1079.2 1622,1075.3 1622.5,1072.4 1623,1072.1 1623.5,1066.9 1624,1072 1624.5,1075.4 1625,1076.4 1625.5,1077.5 1626,1078.4 1626.5,1080.9 1627,1081.3 1627.5,1082.6 1628,1083.4 1628.5,1082.8 1629,1084.3 1629.5,1082.7 1630,1079.2 1630.5,1076.1 1631,1073.9 1631.5,1069.6 1632,1065.2 1632.5,1063.6 1633,1057.8 1633.5,1052.8 1634,1056.6 1634.5,1058.6 1635,1060.7 1635.5,1064.8 1636,1071.3 1636.5,1074 1637,1075.9 1637.5,1080.7 1638,1082.7 1638.5,1083.3 1639,1084.1 1639.5,1084.7 1640,1083.4 1640.5,1086.6 1641,1087.9 1641.5,1082.2 1642,1078.5 1642.5,1078.7 1643,1079.8 1643.5,1078 1644,1073.2 1644.5,1078.2 1645,1080.2 1645.5,1081.2 1646,1080.7 1646.5,1083.4 1647,1086.2 1647.5,1087.1 1648,1089.1 1648.5,1090.5 1649,1089.5 1649.5,1087.4 1650,1088.1 1650.5,1090.6 1651,1089 1651.5,1087.6 1652,1085.9 1652.5,1084.7 1653,1084.2 1653.5,1080.2 1654,1079 1654.5,1079.8 1655,1074.8 1655.5,1081.7 1656,1084 1656.5,1085.4 1657,1085.9 1657.5,1087.9 1658,1088.4 1658.5,1088.4 1659,1088 1659.5,1087.4 1660,1087.7 1660.5,1085 1661,1086.1 1661.5,1086.7 1662,1084.8 1662.5,1082.8 1663,1080.6 1663.5,1078.9 1664,1073.2 1664.5,1077.7 1665,1081.5 1665.5,1081.6 1666,1078.7 1666.5,1080.4 1667,1082.7 1667.5,1085.4 1668,1088.1 1668.5,1088.9 1669,1086.8 1669.5,1085.3 1670,1086.2 1670.5,1083.7 1671,1079.9 1671.5,1074 1672,1068.7 1672.5,1065.5 1673,1057.4 1673.5,1051.4 1674,1050.2 1674.5,1042.6 1675,1050.5 1675.5,1057 1676,1061.6 1676.5,1065.8 1677,1070.4 1677.5,1075.4 1678,1080.6 1678.5,1081.3 1679,1082.3 1679.5,1085.5 1680,1085 1680.5,1083.2 1681,1083.6 1681.5,1082.1 1682,1081.1 1682.5,1080.6 1683,1076.3 1683.5,1073.6 1684,1070.7 1684.5,1066.9 1685,1067.4 1685.5,1060.7 1686,1063.9 1686.5,1067.9 1687,1073.2 1687.5,1075.4 1688,1081.9 1688.5,1085.9 1689,1087.5 1689.5,1087.9 1690,1086.8 1690.5,1087.5 1691,1089.6 1691.5,1089.8 1692,1086.6 1692.5,1088.3 1693,1090 1693.5,1089.2 1694,1090.8 1694.5,1093.3 1695,1092.4 1695.5,1091.7 1696,1090.1 1696.5,1088.4 1697,1090.4 1697.5,1087.5 1698,1086 1698.5,1087.8 1699,1089.6 1699.5,1089.9 1700,1088.8 1700.5,1088.6 1701,1089.7 1701.5,1090.4 1702,1089.8 1702.5,1089.6 1703,1090.6 1703.5,1090 1704,1089.2 1704.5,1090.1 1705,1090.6 1705.5,1091.8 1706,1091.8 1706.5,1089 1707,1089.8 1707.5,1092.9 1708,1093.3 1708.5,1092.9 1709,1089.5 1709.5,1088.3 1710,1091.2 1710.5,1092.3 1711,1091.3 1711.5,1090.5 1712,1089.3 1712.5,1089.6 1713,1088.4 1713.5,1087.2 1714,1090.3 1714.5,1088.6 1715,1088.4 1715.5,1091.8 1716,1085.7 1716.5,1087.9 1717,1087 1717.5,1086.6 1718,1088.6 1718.5,1089.1 1719,1088.8 1719.5,1089.1 1720,1089.7 1720.5,1089.3 1721,1088.4 1721.5,1088.9 1722,1089.8 1722.5,1089.6 1723,1087.4 1723.5,1088.3 1724,1086 1724.5,1082 1725,1082.1 1725.5,1081.6 1726,1081 1726.5,1084.9 1727,1083.9 1727.5,1084.2 1728,1081.1 1728.5,1083.9 1729,1088.3 1729.5,1084.8 1730,1083.9 1730.5,1086.2 1731,1088.7 1731.5,1088.4 1732,1086.3 1732.5,1084.8 1733,1081.3 1733.5,1077.8 1734,1076.3 1734.5,1072.7 1735,1070.2 1735.5,1070.8 1736,1067 1736.5,1067.5 1737,1071.4 1737.5,1074.4 1738,1079.8 1738.5,1080.7 1739,1083.4 1739.5,1088 1740,1090.3 1740.5,1090.4 1741,1088.9 1741.5,1090 1742,1090.8 1742.5,1090.3 1743,1089.1 1743.5,1090 1744,1091.8 1744.5,1090.4 1745,1089.2 1745.5,1090.1 1746,1090.8 1746.5,1092.6 1747,1090.4 1747.5,1088.2 1748,1089.6 1748.5,1089.5 1749,1091.6 1749.5,1094.8 1750,1093.8 1750.5,1092.1 1751,1089.5 1751.5,1087.3 1752,1088.5 1752.5,1090.7 1753,1088.9 1753.5,1086.4 1754,1087.5 1754.5,1088 1755,1083.8 1755.5,1081.5 1756,1081 1756.5,1081.5 1757,1080.6 1757.5,1083.9 1758,1085 1758.5,1086.5 1759,1087.6 1759.5,1085.6 1760,1085 1760.5,1084.8 1761,1084.8 1761.5,1087.9 1762,1089.5 1762.5,1088.9 1763,1089.2 1763.5,1086.1 1764,1082.6 1764.5,1082.5 1765,1083.3 1765.5,1081.7 1766,1078 1766.5,1077.1 1767,1075.5 1767.5,1076 1768,1077.4 1768.5,1081.2 1769,1083.1 1769.5,1084 1770,1083.9 1770.5,1087.6 1771,1090 1771.5,1091.1 1772,1090.7 1772.5,1090.2 1773,1092.2 1773.5,1093.5 1774,1092.8 1774.5,1092 1775,1092 1775.5,1091.5 1776,1091.5 1776.5,1092.3 1777,1090.7 1777.5,1090.1 1778,1090.5 1778.5,1090.6 1779,1091.5 1779.5,1091.7 1780,1091.7 1780.5,1091.3 1781,1089.9 1781.5,1091.8 1782,1091.8 1782.5,1087.9 1783,1090 1783.5,1093 1784,1092.4 1784.5,1091.4 1785,1090.1 1785.5,1092.7 1786,1092.1 1786.5,1092.7 1787,1092.8 1787.5,1088.8 1788,1090.4 1788.5,1091.1 1789,1092 1789.5,1091.6 1790,1090.4 1790.5,1089.2 1791,1090.7 1791.5,1091.8 1792,1088.8 1792.5,1088.5 1793,1089.6 1793.5,1089 1794,1085.9 1794.5,1084.5 1795,1084.8 1795.5,1084.5 1796,1082.6 1796.5,1084.4 1797,1084.4 1797.5,1084.8 1798,1086.2 1798.5,1087.2 1799,1088.3 1799.5,1089.8 1800,1090.5 1800.5,1091.5 1801,1091 1801.5,1090.7 1802,1090.6 1802.5,1086 1803,1085.3 1803.5,1088.5 1804,1089 1804.5,1087.3 1805,1085.3 1805.5,1083.8 1806,1082 1806.5,1083 1807,1081 1807.5,1085.2 1808,1083.7 1808.5,1083.8 1809,1086.6 1809.5,1089.2 1810,1088.5 1810.5,1089.9 1811,1092.8 1811.5,1093.2 1812,1093 1812.5,1092.9 1813,1092.6 1813.5,1092 1814,1091.2 1814.5,1093 1815,1091.7 1815.5,1090.1 1816,1092.8 1816.5,1095.3 1817,1090.4 1817.5,1092.9 1818,1095.2 1818.5,1095 1819,1096.1 1819.5,1093.4 1820,1092.7 1820.5,1094.6 1821,1094 1821.5,1094 1822,1092.4 1822.5,1090.4 1823,1091.9 1823.5,1093.9 1824,1091.8 1824.5,1091.9 1825,1092.2 1825.5,1091.3 1826,1092.9 1826.5,1094.9 1827,1092.3 1827.5,1091.3 1828,1094.3 1828.5,1092.9 1829,1091.8 1829.5,1093.7 1830,1095.3 1830.5,1093.5 1831,1090.4 1831.5,1091 1832,1092.4 1832.5,1093.1 1833,1093.8 1833.5,1091.5 1834,1092.3 1834.5,1092.7 1835,1092.2 1835.5,1094.9 1836,1095 1836.5,1094.7 1837,1094.7 1837.5,1093.4 1838,1092 1838.5,1095.5 1839,1098.4 1839.5,1097.5 1840,1096.6 1840.5,1093.1 1841,1094.4" fill="none" stroke="#f00" stroke-width="6" stroke-linejoin="round" stroke-linecap="square"/>
</g>
<g clip-path="url(#cb)">
<rect x="172" y="2066" width="3" height="356" fill="#000"/>
<polyline points="176.9,2066.4 177.5,1904.7 177.9,1905.9 178.3,1910.7 178.8,1902 179.2,1913.9 179.6,1891.4 180,1913.4 180.4,1909.1 180.9,1900.8 181.3,1911.1 181.7,1913 182.1,1910.8 182.5,1911.7 183,1904.5 183.4,1912.3 183.8,1912.4 184.2,1913.7 184.6,1910 185.1,1895.8 185.5,1909.1 185.9,1897.9 186.3,1901.2 186.7,1905 187.2,1906.8 187.6,1903.9 188,1907.7 188.4,1908.8 188.8,1906.7 189.3,1906.1 189.7,1907.7 190.1,1909.7 190.5,1899.9 190.9,1896.4 191.4,1911.9 191.8,1906.2 192.2,1891.3 192.6,1912.1 193,1912.3 193.5,1894.2 193.9,1898.1 194.3,1902.1 194.7,1897.9 195.1,1901.4 195.6,1904.9 196,1911.3 196.4,1890.2 196.8,1905.8 197.2,1911.9 197.7,1890.5 198.1,1907.3 198.5,1904.9 198.9,1901.9 199.3,1910 199.8,1913.5 200.2,1912.1 200.6,1917.9 201,1901.1 201.4,1892.9 201.9,1902.3 202.3,1906.5 202.7,1912.6 203.1,1908.8 203.5,1901.9 204,1913.9 204.4,1908.3 204.8,1907 205.2,1904.4 205.6,1908.1 206.1,1909.1 206.5,1905.8 206.9,1891 207.3,1900.2 207.7,1908.3 208.2,1915.2 208.6,1912.8 209,1912.4 209.4,1916.3 209.8,1909.8 210.3,1913.8 210.7,1912 211.1,1907.3 211.5,1900.3 211.9,1895.8 212.4,1908.5 212.8,1898.3 213.2,1905.2 213.6,1910.3 214,1901.5 214.5,1911.4 214.9,1906.3 215.3,1900.4 215.7,1909.4 216.1,1910.3 216.6,1902.9 217,1909 217.4,1899 217.8,1906.6 218.2,1907.7 218.7,1899.6 219.1,1906.5 219.5,1914.8 219.9,1902 220.3,1899 220.8,1897.1 221.2,1901.2 221.6,1899.1 222,1895.7 222.4,1906.5 222.9,1907.9 223.3,1899.9 223.7,1906.3 224.1,1911.7 224.5,1908.2 225,1907.1 225.4,1910.2 225.8,1901.9 226.2,1911.5 226.6,1917.4 227.1,1902 227.5,1894.4 227.9,1901.5 228.3,1899.8 228.7,1907.3 229.2,1913.4 229.6,1909.5 230,1916.6 230.4,1908.8 230.8,1906.5 231.3,1894.1 231.7,1908.4 232.1,1902.1 232.5,1902.7 232.9,1904.4 233.4,1915.9 233.8,1911.3 234.2,1906.1 234.6,1897.2 235,1903.4 235.5,1904.3 235.9,1911.3 236.3,1909.3 236.7,1909.2 237.1,1900.1 237.6,1911.7 238,1922.4 238.4,1897.3 238.8,1899.5 239.2,1906.2 239.7,1911.8 240.1,1907.3 240.5,1906.4 240.9,1914.8 241.3,1899.1 241.8,1893.1 242.2,1896.3 242.6,1910.5 243,1911.4 243.4,1903.1 243.9,1896.6 244.3,1900.1 244.7,1907.7 245.1,1911.3 245.5,1901.5 246,1900.1 246.4,1899.5 246.8,1901.4 247.2,1909.2 247.6,1906.2 248.1,1907.3 248.5,1905.7 248.9,1906.2 249.3,1897 249.7,1898.5 250.2,1907.1 250.6,1907.4 251,1911.6 251.4,1904.5 251.8,1899.7 252.3,1903.8 252.7,1903.5 253.1,1908.3 253.5,1904 253.9,1908.2 254.4,1908.4 254.8,1908.4 255.2,1908.8 255.6,1899.1 256,1912.3 256.5,1915.5 256.9,1910.5 257.3,1915.4 257.7,1908.2 258.1,1902.4 258.6,1909 259,1905.6 259.4,1905 259.8,1915.7 260.2,1900.4 260.7,1912.8 261.1,1902.5 261.5,1895.3 261.9,1910.5 262.3,1906.7 262.8,1907.4 263.2,1907.6 263.6,1912.8 264,1908.4 264.4,1904.7 264.9,1905.8 265.3,1909.1 265.7,1903 266.1,1908.8 266.5,1894.1 267,1905.7 267.4,1906.3 267.8,1910.8 268.2,1899.9 268.6,1905.2 269.1,1909.2 269.5,1923.6 269.9,1907.6 270.3,1910.2 270.7,1903.3 271.2,1919.5 271.6,1905.2 272,1905.1 272.4,1907.4 272.8,1898.7 273.3,1900.4 273.7,1904.3 274.1,1901.6 274.5,1912.3 274.9,1903.4 275.4,1919.8 275.8,1908 276.2,1902 276.6,1907.3 277,1910.5 277.5,1906.4 277.9,1909 278.3,1905 278.7,1901.6 279.1,1905.7 279.6,1916.7 280,1903.9 280.4,1905.9 280.8,1897.1 281.2,1902.3 281.7,1908.2 282.1,1904.1 282.5,1913.1 282.9,1912 283.3,1903.5 283.8,1905.6 284.2,1910.1 284.6,1908.3 285,1904.4 285.4,1895.3 285.9,1914.4 286.3,1906.4 286.7,1907.3 287.1,1902 287.5,1915.1 288,1905.6 288.4,1907.4 288.8,1894.3 289.2,1903.6 289.6,1905.9 290.1,1908.6 290.5,1910.4 290.9,1905.1 291.3,1912.4 291.7,1905.5 292.2,1905.3 292.6,1906.2 293,1896.3 293.4,1893.1 293.8,1917.1 294.3,1895.9 294.7,1902.6 295.1,1909.6 295.5,1902.2 295.9,1912.8 296.4,1894.5 296.8,1906.9 297.2,1909.8 297.6,1919.1 298,1914.9 298.5,1901.8 298.9,1911.2 299.3,1907.8 299.7,1898.9 300.1,1903 300.6,1912.3 301,1904.3 301.4,1900.3 301.8,1902.3 302.2,1898.5 302.7,1896.6 303.1,1908.1 303.5,1908.6 303.9,1912.1 304.3,1896.7 304.8,1899.1 305.2,1908.3 305.6,1906.6 306,1904.7 306.4,1898.6 306.9,1903.8 307.3,1897.2 307.7,1914.7 308.1,1909.7 308.5,1899.7 309,1912.8 309.4,1899.3 309.8,1908.8 310.2,1906.3 310.6,1903 311.1,1913.3 311.5,1895.5 311.9,1903.3 312.3,1903.2 312.7,1894.5 313.2,1896.1 313.6,1905.8 314,1906.6 314.4,1899.1 314.8,1908.3 315.3,1907.7 315.7,1909.5 316.1,1903.5 316.5,1904.3 316.9,1908.4 317.4,1901.5 317.8,1899.8 318.2,1897.6 318.6,1907.8 319,1912.2 319.5,1893.8 319.9,1903.1 320.3,1909.1 320.7,1913.6 321.1,1906.4 321.6,1900 322,1909.1 322.4,1918.6 322.8,1907.2 323.2,1909.2 323.7,1915.2 324.1,1896.3 324.5,1909.8 324.9,1913.8 325.3,1911 325.8,1906.2 326.2,1903 326.6,1901.8 327,1897.4 327.4,1902.1 327.9,1898 328.3,1904.4 328.7,1903.6 329.1,1901.4 329.5,1902.4 330,1905.1 330.4,1897.4 330.8,1908.3 331.2,1905.7 331.6,1908 332.1,1902.6 332.5,1903.3 332.9,1905.3 333.3,1905.1 333.7,1902.2 334.2,1902.5 334.6,1901.3 335,1902.2 335.4,1900 335.8,1899.6 336.3,1898.5 336.7,1912.2 337.1,1900.3 337.5,1903.6 337.9,1898.4 338.4,1905 338.8,1911.2 339.2,1899.9 339.6,1905 340,1903.6 340.5,1909 340.9,1903.5 341.3,1903.4 341.7,1902.6 342.1,1892.6 342.6,1909.7 343,1913.5 343.4,1899.1 343.8,1908.9 344.2,1904 344.7,1912.4 345.1,1900.9 345.5,1906.6 345.9,1911.7 346.3,1907.2 346.8,1905.3 347.2,1903.8 347.6,1900.6 348,1904.9 348.4,1898.6 348.9,1913.8 349.3,1907.4 349.7,1903.4 350.1,1895.5 350.5,1910.4 351,1912 351.4,1906.9 351.8,1909.5 352.2,1909.5 352.6,1904.3 353.1,1903 353.5,1905.2 353.9,1911.7 354.3,1901.3 354.7,1895.6 355.2,1905.3 355.6,1905.3 356,1904.1 356.4,1905.7 356.8,1898 357.3,1899.8 357.7,1902.5 358.1,1904.3 358.5,1907.7 358.9,1909 359.4,1906 359.8,1904.1 360.2,1899.3 360.6,1902.2 361,1896 361.5,1900.9 361.9,1907.3 362.3,1908.2 362.7,1899.2 363.1,1911.7 363.6,1891.7 364,1908.1 364.4,1905.2 364.8,1904.3 365.2,1907.6 365.7,1903 366.1,1918.2 366.5,1902.8 366.9,1903.6 367.3,1907.3 367.8,1894.5 368.2,1904.9 368.6,1897.7 369,1913.5 369.4,1903 369.9,1905.1 370.3,1895.9 370.7,1916.3 371.1,1896.2 371.5,1897.8 372,1901.9 372.4,1893.3 372.8,1898.7 373.2,1903.9 373.6,1912.3 374.1,1912.7 374.5,1899.9 374.9,1903.3 375.3,1910.4 375.7,1913.3 376.2,1901.9 376.6,1905.3 377,1906.8 377.4,1907.7 377.8,1905.6 378.3,1917.2 378.7,1905.9 379.1,1914 379.5,1910.4 379.9,1927.5 380.4,1916 380.8,1896.8 381.2,1911.4 381.6,1896.2 382,1915.6 382.5,1906.3 382.9,1896.1 383.3,1902.5 383.7,1906.2 384.1,1916.4 384.6,1908.9 385,1911.1 385.4,1904.6 385.8,1905.7 386.2,1900 386.7,1906.2 387.1,1906.9 387.5,1908.1 387.9,1903.8 388.3,1907.3 388.8,1906 389.2,1910 389.6,1905 390,1905.2 390.4,1903.6 390.9,1904.7 391.3,1907.1 391.7,1902.9 392.1,1915.8 392.5,1914.7 393,1911 393.4,1913.3 393.8,1902 394.2,1905.4 394.6,1906.4 395.1,1910.5 395.5,1913.8 395.9,1914.2 396.3,1901.1 396.7,1909.1 397.2,1915.8 397.6,1908 398,1912.2 398.4,1900 398.8,1909.9 399.3,1908.2 399.7,1898.4 400.1,1914.3 400.5,1917.6 400.9,1914.5 401.4,1908 401.8,1909.2 402.2,1906.3 402.6,1913.5 403,1912.8 403.5,1918.3 403.9,1910.2 404.3,1915.6 404.7,1909 405.1,1906.3 405.6,1910.4 406,1905.6 406.4,1905.6 406.8,1914.8 407.2,1914.6 407.7,1906.1 408.1,1905.5 408.5,1909.5 408.9,1906.4 409.3,1914.7 409.8,1908.9 410.2,1903.3 410.6,1906 411,1913.2 411.4,1922.5 411.9,1913.8 412.3,1903.1 412.7,1905.8 413.1,1911.9 413.5,1910.1 414,1911.9 414.4,1922.5 414.8,1905.2 415.2,1905.6 415.6,1910.9 416.1,1911.5 416.5,1912.5 416.9,1916 417.3,1911.3 417.7,1917.4 418.2,1912.5 418.6,1913.7 419,1901.9 419.4,1906.7 419.8,1909.5 420.3,1915.4 420.7,1908.1 421.1,1906.3 421.5,1907.6 421.9,1921.6 422.4,1903.5 422.8,1913.2 423.2,1912.3 423.6,1920.1 424,1916 424.5,1910.3 424.9,1917 425.3,1919.6 425.7,1910.3 426.1,1902.9 426.6,1905.6 427,1912.7 427.4,1906.7 427.8,1913.2 428.2,1918.9 428.7,1913.7 429.1,1924.9 429.5,1911.8 429.9,1905.7 430.3,1913.7 430.8,1918.2 431.2,1904.9 431.6,1915.3 432,1922.1 432.4,1914 432.9,1923.1 433.3,1904.4 433.7,1916 434.1,1903.4 434.5,1903 435,1904.6 435.4,1918.8 435.8,1914.6 436.2,1920.7 436.6,1908 437.1,1903.3 437.5,1917.8 437.9,1908.9 438.3,1904.3 438.7,1917.2 439.2,1918.7 439.6,1908.5 440,1913.7 440.4,1916 440.8,1907.5 441.3,1908.2 441.7,1914.4 442.1,1922.2 442.5,1907.3 442.9,1917.5 443.4,1916.2 443.8,1914 444.2,1911.8 444.6,1908.1 445,1916.7 445.5,1912.2 445.9,1898.6 446.3,1914.7 446.7,1908.3 447.1,1912 447.6,1924.4 448,1914.7 448.4,1900.7 448.8,1910.2 449.2,1906 449.7,1918.3 450.1,1893.4 450.5,1915.7 450.9,1912.7 451.3,1910.3 451.8,1914.8 452.2,1922.7 452.6,1901.5 453,1909.2 453.4,1912 453.9,1912.3 454.3,1910.6 454.7,1914.8 455.1,1912.8 455.5,1909.5 456,1901.1 456.4,1915.9 456.8,1920.4 457.2,1918.8 457.6,1914.3 458.1,1918.8 458.5,1903.1 458.9,1916.5 459.3,1913.8 459.7,1911.3 460.2,1918.3 460.6,1910.6 461,1909.3 461.4,1905.5 461.8,1900.6 462.3,1908.6 462.7,1921.4 463.1,1922 463.5,1907.5 463.9,1911.9 464.4,1919.9 464.8,1904.8 465.2,1908.1 465.6,1902.4 466,1920.1 466.5,1906.7 466.9,1908.2 467.3,1910.1 467.7,1905.1 468.1,1925.3 468.6,1916.9 469,1922.5 469.4,1897.8 469.8,1914.4 470.2,1908.8 470.7,1903.1 471.1,1910.2 471.5,1919.2 471.9,1916.5 472.3,1906.4 472.8,1930.1 473.2,1916.2 473.6,1904.5 474,1904.2 474.4,1905.4 474.9,1908.6 475.3,1905.9 475.7,1905.1 476.1,1914.6 476.5,1904.9 477,1909.6 477.4,1905 477.8,1907.1 478.2,1915.7 478.6,1908.7 479.1,1913.1 479.5,1908 479.9,1915 480.3,1908 480.7,1915 481.2,1900.3 481.6,1914.6 482,1910.5 482.4,1902.1 482.8,1903.5 483.3,1895.3 483.7,1905.6 484.1,1908.1 484.5,1903.7 484.9,1913 485.4,1893.4 485.8,1905 486.2,1898.6 486.6,1902.8 487,1911 487.5,1905.5 487.9,1914.4 488.3,1903.1 488.7,1901.1 489.1,1903.2 489.6,1895.7 490,1899.2 490.4,1903.8 490.8,1909.7 491.2,1897.7 491.7,1898.1 492.1,1893.7 492.5,1894.5 492.9,1902.4 493.3,1902.9 493.8,1904.3 494.2,1900.5 494.6,1908.4 495,1891 495.4,1901.3 495.9,1905.3 496.3,1899.1 496.7,1903.6 497.1,1899.4 497.5,1898.3 498,1901.4 498.4,1896.2 498.8,1899.8 499.2,1903.5 499.6,1892.9 500.1,1903.7 500.5,1906.5 500.9,1909.3 501.3,1897 501.7,1905.8 502.2,1887.2 502.6,1889.9 503,1898.6 503.4,1891.1 503.8,1891.9 504.3,1891.2 504.7,1895.3 505.1,1893 505.5,1891 505.9,1896.4 506.4,1893.2 506.8,1896.2 507.2,1897.9 507.6,1899.2 508,1894.3 508.5,1892.8 508.9,1892.6 509.3,1888.3 509.7,1897.6 510.1,1894.2 510.6,1900.8 511,1896 511.4,1890.8 511.8,1899 512.2,1891.6 512.7,1892.8 513.1,1895.9 513.5,1894.3 513.9,1887.8 514.3,1896.6 514.8,1894.5 515.2,1891.8 515.6,1890.4 516,1892.9 516.4,1881.9 516.9,1899 517.3,1875.4 517.7,1884.2 518.1,1884.2 518.5,1892.4 519,1890 519.4,1891.7 519.8,1881.7 520.2,1896.4 520.6,1894.3 521.1,1875.5 521.5,1889.5 521.9,1876 522.3,1884.3 522.7,1891 523.2,1887.4 523.6,1878.9 524,1882.9 524.4,1893.3 524.8,1887.4 525.3,1890.6 525.7,1875.3 526.1,1888.9 526.5,1886.7 526.9,1879.3 527.4,1893.8 527.8,1884.6 528.2,1890.1 528.6,1881.2 529,1886.7 529.5,1887.3 529.9,1883.1 530.3,1884.3 530.7,1885.4 531.1,1882.6 531.6,1875.2 532,1885 532.4,1881.9 532.8,1884 533.2,1877.2 533.7,1891.6 534.1,1887.6 534.5,1890.4 534.9,1893.3 535.3,1887.6 535.8,1879.3 536.2,1873.1 536.6,1888 537,1882.4 537.4,1885.7 537.9,1888.6 538.3,1879.1 538.7,1874.1 539.1,1882.3 539.5,1876.8 540,1874.1 540.4,1881.6 540.8,1877.4 541.2,1882 541.6,1871.8 542.1,1877.7 542.5,1876.7 542.9,1877.9 543.3,1874.1 543.7,1881.8 544.2,1868.4 544.6,1880.1 545,1884 545.4,1876.8 545.8,1877.2 546.3,1871.7 546.7,1877.9 547.1,1878.9 547.5,1877 547.9,1878.1 548.4,1879 548.8,1876.7 549.2,1863.6 549.6,1867.8 550,1874 550.5,1888 550.9,1881 551.3,1873.9 551.7,1872.6 552.1,1870.8 552.6,1877.1 553,1871.2 553.4,1873.2 553.8,1867.1 554.2,1869.7 554.7,1865.9 555.1,1866.9 555.5,1869.4 555.9,1878.9 556.3,1873.4 556.8,1877.5 557.2,1867.7 557.6,1872.1 558,1866.3 558.4,1868.6 558.9,1868.5 559.3,1858.9 559.7,1869.3 560.1,1861 560.5,1871.5 561,1864 561.4,1857.8 561.8,1859.9 562.2,1861.5 562.6,1876 563.1,1858.5 563.5,1863.7 563.9,1866.9 564.3,1864.4 564.7,1864.8 565.2,1869.3 565.6,1860.1 566,1875.4 566.4,1872.7 566.8,1864.9 567.3,1872 567.7,1863.7 568.1,1859.9 568.5,1854.6 568.9,1857.7 569.4,1865.3 569.8,1863.4 570.2,1871.2 570.6,1870.7 571,1866 571.5,1860.8 571.9,1871.1 572.3,1859 572.7,1843.4 573.1,1856.8 573.6,1861.2 574,1861.6 574.4,1861.3 574.8,1862.2 575.2,1840 575.7,1871.4 576.1,1859.8 576.5,1856.3 576.9,1842.8 577.3,1860.5 577.8,1847.9 578.2,1841.2 578.6,1857.8 579,1857.2 579.4,1852.3 579.9,1846.8 580.3,1855.3 580.7,1852.5 581.1,1854 581.5,1854.1 582,1841 582.4,1853.6 582.8,1841.8 583.2,1852.9 583.6,1846.9 584.1,1845.7 584.5,1859.6 584.9,1849.8 585.3,1849.3 585.7,1852.8 586.2,1861.8 586.6,1827.7 587,1850 587.4,1846.6 587.8,1853.5 588.3,1845.7 588.7,1844.8 589.1,1848.8 589.5,1844.2 589.9,1838.1 590.4,1843.9 590.8,1856 591.2,1847 591.6,1826.8 592,1841.3 592.5,1835.1 592.9,1847.8 593.3,1833.2 593.7,1840 594.1,1843.7 594.6,1845.5 595,1835.1 595.4,1840.9 595.8,1854.3 596.2,1833.6 596.7,1838.1 597.1,1831.4 597.5,1835.8 597.9,1840.1 598.3,1836.7 598.8,1840.5 599.2,1826.6 599.6,1836.2 600,1832.5 600.4,1814.2 600.9,1841.7 601.3,1834.3 601.7,1829 602.1,1840.3 602.5,1836.1 603,1815.3 603.4,1834.9 603.8,1848.3 604.2,1833 604.6,1836.4 605.1,1818 605.5,1818.5 605.9,1818.9 606.3,1836.5 606.7,1835 607.2,1810 607.6,1834 608,1812 608.4,1816.5 608.8,1825.6 609.3,1820.8 609.7,1825.1 610.1,1826.6 610.5,1833.2 610.9,1820.7 611.4,1818.9 611.8,1818.2 612.2,1840.7 612.6,1831.2 613,1831.1 613.5,1826.1 613.9,1823.4 614.3,1831.7 614.7,1820.2 615.1,1809.1 615.6,1808 616,1838.1 616.4,1811.3 616.8,1813.5 617.2,1816.9 617.7,1825.5 618.1,1808.8 618.5,1815.1 618.9,1819.1 619.3,1806.2 619.8,1815.8 620.2,1823.1 620.6,1816.2 621,1814.6 621.4,1817.2 621.9,1812.4 622.3,1809.1 622.7,1807.9 623.1,1817.7 623.5,1798.4 624,1801.2 624.4,1815.8 624.8,1818.4 625.2,1809.5 625.6,1801.7 626.1,1795.4 626.5,1811.7 626.9,1807.9 627.3,1808.6 627.7,1808.6 628.2,1796.8 628.6,1798.4 629,1802.8 629.4,1801.7 629.8,1790 630.3,1792.3 630.7,1799.8 631.1,1811.6 631.5,1818.7 631.9,1801.7 632.4,1796.6 632.8,1800.9 633.2,1798.6 633.6,1790.9 634,1771.7 634.5,1797.9 634.9,1791.1 635.3,1795 635.7,1787.3 636.1,1791.9 636.6,1795.2 637,1783 637.4,1787.5 637.8,1797.5 638.2,1798.3 638.7,1777.8 639.1,1797.7 639.5,1801.2 639.9,1793.8 640.3,1793.7 640.8,1790.7 641.2,1792.2 641.6,1784.8 642,1798.3 642.4,1787.4 642.9,1775.5 643.3,1790.7 643.7,1793 644.1,1788.5 644.5,1776.8 645,1789 645.4,1760.3 645.8,1796.3 646.2,1786.5 646.6,1766.9 647.1,1764 647.5,1799 647.9,1781 648.3,1772.4 648.7,1780 649.2,1774.5 649.6,1773.7 650,1776.7 650.4,1775.4 650.8,1763.2 651.3,1773.1 651.7,1771.1 652.1,1760.1 652.5,1774.7 652.9,1770 653.4,1755.9 653.8,1777.9 654.2,1766.4 654.6,1772 655,1753.2 655.5,1754.2 655.9,1758.2 656.3,1751.3 656.7,1753.2 657.1,1741.9 657.6,1770.2 658,1756.4 658.4,1762.1 658.8,1764.8 659.2,1748.7 659.7,1765 660.1,1727.2 660.5,1742.8 660.9,1740.4 661.3,1743.7 661.8,1733.3 662.2,1749.7 662.6,1758.3 663,1742.5 663.4,1744.8 663.9,1720.2 664.3,1731.7 664.7,1740.9 665.1,1730.9 665.5,1738.8 666,1732.2 666.4,1738.3 666.8,1722.7 667.2,1738.9 667.6,1746.5 668.1,1739.8 668.5,1751.9 668.9,1732.4 669.3,1740.6 669.7,1721.4 670.2,1740.8 670.6,1736.7 671,1729.9 671.4,1741.7 671.8,1721.7 672.3,1729.2 672.7,1733.9 673.1,1722.3 673.5,1722.3 673.9,1739.3 674.4,1727.3 674.8,1721.1 675.2,1725.7 675.6,1724.5 676,1722.7 676.5,1732 676.9,1719.5 677.3,1715.5 677.7,1728.5 678.1,1727.1 678.6,1738.2 679,1715.8 679.4,1722.1 679.8,1735.8 680.2,1729.9 680.7,1721.8 681.1,1719.8 681.5,1733.9 681.9,1729.1 682.3,1724.2 682.8,1729.9 683.2,1732.9 683.6,1747.1 684,1720.3 684.4,1739.9 684.9,1757.8 685.3,1736 685.7,1749.9 686.1,1761.1 686.5,1744.7 687,1752.6 687.4,1751.4 687.8,1761.4 688.2,1756 688.6,1754.1 689.1,1764.9 689.5,1767.3 689.9,1776.1 690.3,1764.9 690.7,1767.9 691.2,1765.7 691.6,1780.9 692,1782.1 692.4,1766.9 692.8,1757 693.3,1790.4 693.7,1760.6 694.1,1762 694.5,1772 694.9,1792 695.4,1786.1 695.8,1775.5 696.2,1783.5 696.6,1776.8 697,1787.4 697.5,1775.4 697.9,1791.9 698.3,1784.1 698.7,1775.3 699.1,1766.4 699.6,1789.5 700,1784.7 700.4,1773.1 700.8,1773.8 701.2,1777.2 701.7,1778.6 702.1,1780.1 702.5,1781.5 702.9,1781.7 703.3,1777.3 703.8,1798.2 704.2,1779.8 704.6,1776.9 705,1786.4 705.4,1775.2 705.9,1785.6 706.3,1783.2 706.7,1790.2 707.1,1774.4 707.5,1766.9 708,1791.1 708.4,1780.3 708.8,1795.3 709.2,1787.2 709.6,1777.7 710.1,1783.9 710.5,1771.6 710.9,1773 711.3,1780.6 711.7,1781.3 712.2,1766.8 712.6,1786 713,1783.8 713.4,1787.7 713.8,1767.6 714.3,1783.5 714.7,1773.7 715.1,1774.6 715.5,1786.4 715.9,1778.3 716.4,1782.1 716.8,1784.4 717.2,1786 717.6,1769.3 718,1768.8 718.5,1778.8 718.9,1779.9 719.3,1769.4 719.7,1777.9 720.1,1767.4 720.6,1771.5 721,1772.4 721.4,1774.5 721.8,1777.5 722.2,1769.1 722.7,1772.4 723.1,1764 723.5,1776 723.9,1774.1 724.3,1764.6 724.8,1783.7 725.2,1767.2 725.6,1765.1 726,1763.2 726.4,1769.1 726.9,1766.6 727.3,1759.6 727.7,1767.8 728.1,1771.7 728.5,1774.2 729,1766.1 729.4,1758.3 729.8,1753.7 730.2,1763.2 730.6,1767.9 731.1,1774.7 731.5,1753 731.9,1745.5 732.3,1745.2 732.7,1754.9 733.2,1756.3 733.6,1743.8 734,1738.9 734.4,1731.7 734.8,1752.5 735.3,1732.7 735.7,1749.2 736.1,1742.2 736.5,1726.6 736.9,1732.8 737.4,1750.1 737.8,1741.5 738.2,1739.2 738.6,1750.9 739,1740 739.5,1740.8 739.9,1740.7 740.3,1740.1 740.7,1748.2 741.1,1734.4 741.6,1747.7 742,1751.1 742.4,1733.8 742.8,1741.8 743.2,1727.9 743.7,1738.1 744.1,1747.6 744.5,1745.1 744.9,1733.7 745.3,1741.8 745.8,1741.1 746.2,1737.8 746.6,1738.1 747,1753.2 747.4,1715.1 747.9,1732.5 748.3,1745.4 748.7,1737.8 749.1,1742.5 749.5,1743.1 750,1739.8 750.4,1742.9 750.8,1737.6 751.2,1744.9 751.6,1752.3 752.1,1755.4 752.5,1752.4 752.9,1747.1 753.3,1747 753.7,1737.4 754.2,1750.9 754.6,1745.8 755,1749.2 755.4,1753.2 755.8,1757.8 756.3,1759.7 756.7,1759.9 757.1,1752 757.5,1758.7 757.9,1769 758.4,1763.9 758.8,1769.1 759.2,1767.5 759.6,1780.1 760,1782.4 760.5,1790.6 760.9,1768.4 761.3,1778.6 761.7,1763.1 762.1,1780 762.6,1779 763,1773.4 763.4,1788.8 763.8,1779.8 764.2,1767.6 764.7,1792.1 765.1,1782.4 765.5,1788.8 765.9,1778.5 766.3,1778.6 766.8,1776 767.2,1777.9 767.6,1792.4 768,1791.8 768.4,1775.7 768.9,1788.8 769.3,1789.5 769.7,1783.9 770.1,1792.3 770.5,1784.3 771,1797.8 771.4,1788.3 771.8,1791.7 772.2,1763.8 772.6,1786.2 773.1,1789.6 773.5,1784.2 773.9,1786.8 774.3,1780.7 774.7,1793.9 775.2,1778.8 775.6,1783.6 776,1796.2 776.4,1793.5 776.8,1783.5 777.3,1773.2 777.7,1767.5 778.1,1784.6 778.5,1782.3 778.9,1777.6 779.4,1776.8 779.8,1794.8 780.2,1784.6 780.6,1777.2 781,1774.8 781.5,1773.2 781.9,1777.9 782.3,1772.9 782.7,1775.3 783.1,1770.7 783.6,1779.6 784,1775.2 784.4,1764 784.8,1795.3 785.2,1774.4 785.7,1768.1 786.1,1761.7 786.5,1771.6 786.9,1765.8 787.3,1783.7 787.8,1774.1 788.2,1765 788.6,1755.5 789,1775.6 789.4,1755.8 789.9,1772.8 790.3,1769.9 790.7,1746.9 791.1,1766.7 791.5,1782 792,1762.1 792.4,1751.8 792.8,1756.7 793.2,1770.3 793.6,1774 794.1,1779.2 794.5,1775.7 794.9,1767.2 795.3,1772.3 795.7,1775 796.2,1776.8 796.6,1769.4 797,1785.4 797.4,1790.1 797.8,1781.7 798.3,1785.2 798.7,1775.7 799.1,1788.7 799.5,1782.5 799.9,1783.7 800.4,1798.5 800.8,1795.3 801.2,1792.5 801.6,1785.5 802,1800 802.5,1814 802.9,1805.7 803.3,1806.6 803.7,1815.4 804.1,1823.6 804.6,1813.6 805,1818.5 805.4,1813.9 805.8,1817.5 806.2,1818.6 806.7,1824.9 807.1,1814.7 807.5,1821.9 807.9,1823.2 808.3,1821.6 808.8,1819.2 809.2,1830.7 809.6,1823.3 810,1816 810.4,1833.4 810.9,1819 811.3,1835.8 811.7,1813.1 812.1,1832.1 812.5,1845.6 813,1832 813.4,1842.4 813.8,1831.9 814.2,1829.8 814.6,1833.8 815.1,1843.1 815.5,1846 815.9,1847.5 816.3,1844.2 816.7,1838.1 817.2,1824.6 817.6,1833.9 818,1850.2 818.4,1828.6 818.8,1843.8 819.3,1843.8 819.7,1829.3 820.1,1843.8 820.5,1839 820.9,1843.5 821.4,1841.7 821.8,1841.2 822.2,1836.5 822.6,1829.3 823,1856 823.5,1837.9 823.9,1842.4 824.3,1841.9 824.7,1842.7 825.1,1839.9 825.6,1849.3 826,1845.6 826.4,1842.6 826.8,1842.1 827.2,1850.1 827.7,1840.5 828.1,1850.9 828.5,1856.8 828.9,1855.3 829.3,1852.1 829.8,1836.9 830.2,1853.9 830.6,1851.1 831,1859.1 831.4,1846 831.9,1847.1 832.3,1860.6 832.7,1845.3 833.1,1859.1 833.5,1853.8 834,1834.6 834.4,1848.7 834.8,1848.9 835.2,1843 835.6,1839.3 836.1,1853.1 836.5,1845.7 836.9,1848.3 837.3,1846.5 837.7,1851.5 838.2,1856.7 838.6,1858.9 839,1857 839.4,1850.9 839.8,1852.3 840.3,1857.4 840.7,1862 841.1,1852.8 841.5,1844.6 841.9,1855.5 842.4,1857.8 842.8,1850.2 843.2,1861.7 843.6,1850.2 844,1853.5 844.5,1856 844.9,1864.5 845.3,1845.3 845.7,1857.2 846.1,1858.8 846.6,1852.6 847,1860.5 847.4,1848.9 847.8,1845.3 848.2,1844.8 848.7,1848.6 849.1,1845.9 849.5,1856.9 849.9,1853.5 850.3,1843.4 850.8,1864.4 851.2,1855.1 851.6,1842 852,1840.7 852.4,1854.1 852.9,1863.3 853.3,1851.9 853.7,1861.1 854.1,1866 854.5,1860.1 855,1853.2 855.4,1846.7 855.8,1851.7 856.2,1865.9 856.6,1857.4 857.1,1850.8 857.5,1855.4 857.9,1857.3 858.3,1867 858.7,1855.8 859.2,1873.2 859.6,1862.5 860,1864 860.4,1854.5 860.8,1865.5 861.3,1865 861.7,1868.7 862.1,1859.5 862.5,1866.3 862.9,1854.9 863.4,1859 863.8,1882.1 864.2,1863.6 864.6,1861.9 865,1873.5 865.5,1866.7 865.9,1885.9 866.3,1869 866.7,1873.6 867.1,1867.4 867.6,1877.2 868,1870.1 868.4,1888.5 868.8,1865.7 869.2,1873.9 869.7,1876.1 870.1,1863.9 870.5,1868.2 870.9,1866.8 871.3,1861.1 871.8,1874.7 872.2,1853.6 872.6,1864.4 873,1865.6 873.4,1875.3 873.9,1872.6 874.3,1880.7 874.7,1881.9 875.1,1875.1 875.5,1867.5 876,1878.8 876.4,1869.1 876.8,1871.9 877.2,1874.2 877.6,1883.9 878.1,1891.7 878.5,1882.2 878.9,1870.8 879.3,1880.1 879.7,1882.3 880.2,1868 880.6,1874.6 881,1869 881.4,1869.3 881.8,1873.9 882.3,1874.1 882.7,1867.8 883.1,1872.9 883.5,1864.3 883.9,1871.3 884.4,1873.1 884.8,1868.5 885.2,1860.8 885.6,1865.2 886,1872.2 886.5,1875.1 886.9,1874.1 887.3,1873.5 887.7,1877.4 888.1,1861.5 888.6,1871.2 889,1856.8 889.4,1873.3 889.8,1867 890.2,1852.3 890.7,1862.9 891.1,1863.9 891.5,1850.1 891.9,1856.7 892.3,1859 892.8,1864.3 893.2,1845.6 893.6,1858.3 894,1837.7 894.4,1836.2 894.9,1848.7 895.3,1841.2 895.7,1826.7 896.1,1840 896.5,1828.7 897,1822.7 897.4,1815.4 897.8,1794.2 898.2,1810.3 898.6,1814.1 899.1,1803.1 899.5,1806.1 899.9,1796.9 900.3,1805.7 900.7,1769.2 901.2,1793.3 901.6,1779.4 902,1785.9 902.4,1787 902.8,1788.5 903.3,1783.3 903.7,1784 904.1,1763.5 904.5,1770.6 904.9,1749.3 905.4,1768.1 905.8,1749.6 906.2,1770.2 906.6,1760.8 907,1754.4 907.5,1748.7 907.9,1752.7 908.3,1742.3 908.7,1730.2 909.1,1740 909.6,1722.5 910,1727.4 910.4,1707.9 910.8,1699 911.2,1724.5 911.7,1704.9 912.1,1706.4 912.5,1688.9 912.9,1687.2 913.3,1683.9 913.8,1699 914.2,1683.6 914.6,1675 915,1670.6 915.4,1668.6 915.9,1675.2 916.3,1662.6 916.7,1659.9 917.1,1669.6 917.5,1663 918,1658.3 918.4,1666.7 918.8,1643.2 919.2,1629.8 919.6,1621.6 920.1,1633.8 920.5,1634 920.9,1638.8 921.3,1612.7 921.7,1611.9 922.2,1621.6 922.6,1619.4 923,1606.7 923.4,1617.9 923.8,1625.8 924.3,1615.7 924.7,1641.6 925.1,1625.6 925.5,1610.6 925.9,1617.5 926.4,1606.4 926.8,1643.8 927.2,1620.6 927.6,1621.5 928,1633.2 928.5,1623.7 928.9,1621.6 929.3,1628.9 929.7,1641.1 930.1,1642.6 930.6,1620.2 931,1619.1 931.4,1641.4 931.8,1635.5 932.2,1635.8 932.7,1652.6 933.1,1648.5 933.5,1641.1 933.9,1654.2 934.3,1643 934.8,1647.6 935.2,1673.2 935.6,1655.3 936,1665.8 936.4,1660.8 936.9,1663.3 937.3,1658.9 937.7,1662 938.1,1688.2 938.5,1700.7 939,1689.9 939.4,1692.8 939.8,1686.2 940.2,1694.7 940.6,1713.2 941.1,1727.5 941.5,1714.9 941.9,1717.3 942.3,1729.1 942.7,1726.1 943.2,1723.9 943.6,1728.7 944,1739.8 944.4,1744.3 944.8,1733 945.3,1743.6 945.7,1771.2 946.1,1778.1 946.5,1782.6 946.9,1779.6 947.4,1781.4 947.8,1791.6 948.2,1799.4 948.6,1797.5 949,1814 949.5,1804.5 949.9,1795.8 950.3,1823 950.7,1828.5 951.1,1824.1 951.6,1836.8 952,1841.4 952.4,1817.2 952.8,1842.2 953.2,1833.6 953.7,1850.2 954.1,1849.9 954.5,1856.7 954.9,1851.4 955.3,1851.6 955.8,1860.2 956.2,1877.5 956.6,1866.1 957,1858.3 957.4,1867.4 957.9,1868.1 958.3,1880.5 958.7,1874.9 959.1,1873.9 959.5,1879.1 960,1875.1 960.4,1884.6 960.8,1876.1 961.2,1881.9 961.6,1887.7 962.1,1879 962.5,1880.6 962.9,1885.5 963.3,1901.1 963.7,1898.3 964.2,1894.5 964.6,1901.6 965,1901.7 965.4,1893.5 965.8,1891.3 966.3,1906.7 966.7,1895.9 967.1,1904.8 967.5,1891.9 967.9,1901.7 968.4,1895.2 968.8,1907.6 969.2,1908.8 969.6,1907.2 970,1910.1 970.5,1902.5 970.9,1908.9 971.3,1910.6 971.7,1902.1 972.1,1911.6 972.6,1910 973,1911.6 973.4,1907.6 973.8,1909.1 974.2,1912.7 974.7,1910.8 975.1,1913.8 975.5,1902.5 975.9,1916.6 976.3,1906.4 976.8,1917.7 977.2,1903 977.6,1908.2 978,1913.7 978.4,1914.8 978.9,1909.9 979.3,1907.4 979.7,1916.8 980.1,1919.5 980.5,1908.2 981,1906.6 981.4,1910.4 981.8,1913.5 982.2,1904 982.6,1908.6 983.1,1918.8 983.5,1910.3 983.9,1910.4 984.3,1924.4 984.7,1922 985.2,1925.7 985.6,1916 986,1915.4 986.4,1913.9 986.8,1907.9 987.3,1904.3 987.7,1916.4 988.1,1912.5 988.5,1921 988.9,1923.1 989.4,1908.6 989.8,1909.6 990.2,1919.1 990.6,1926.2 991,1927.3 991.5,1914.2 991.9,1918.8 992.3,1926.9 992.7,1914.2 993.1,1912.9 993.6,1926.7 994,1914.7 994.4,1912 994.8,1928.4 995.2,1916.7 995.7,1916.9 996.1,1922.8 996.5,1928.2 996.9,1924.1 997.3,1921 997.8,1922.1 998.2,1922.1 998.6,1921.4 999,1909.6 999.4,1921.5 999.9,1911.8 1000.3,1915.4 1000.7,1920.5 1001.1,1919.1 1001.5,1921.9 1002,1919.7 1002.4,1922.7 1002.8,1930.5 1003.2,1913.4 1003.6,1926.3 1004.1,1930.7 1004.5,1917.4 1004.9,1917.9 1005.3,1919.4 1005.7,1922.7 1006.2,1915.9 1006.6,1917.9 1007,1919.8 1007.4,1920.4 1007.8,1928.4 1008.3,1917.2 1008.7,1925 1009.1,1924.8 1009.5,1921.3 1009.9,1921 1010.4,1915.5 1010.8,1916.1 1011.2,1922.4 1011.6,1921.7 1012,1918.8 1012.5,1927.1 1012.9,1921.2 1013.3,1920.7 1013.7,1919.5 1014.1,1926.6 1014.6,1923.6 1015,1922.3 1015.4,1913.1 1015.8,1930.3 1016.2,1912.4 1016.7,1922.8 1017.1,1913.6 1017.5,1911.4 1017.9,1901.9 1018.3,1921 1018.8,1921.8 1019.2,1918 1019.6,1917.3 1020,1912.1 1020.4,1919.7 1020.9,1918.3 1021.3,1911.2 1021.7,1917.1 1022.1,1917.9 1022.5,1913.3 1023,1926.2 1023.4,1912.2 1023.8,1931.1 1024.2,1926.5 1024.6,1917.1 1025.1,1929.3 1025.5,1926.4 1025.9,1927.1 1026.3,1921 1026.7,1914.2 1027.2,1907.7 1027.6,1921.6 1028,1919.3 1028.4,1916.5 1028.8,1931.9 1029.3,1922.9 1029.7,1911.3 1030.1,1919.2 1030.5,1923 1030.9,1912.8 1031.4,1921.3 1031.8,1918 1032.2,1911.5 1032.6,1922.4 1033,1924 1033.5,1905 1033.9,1922.6 1034.3,1916.7 1034.7,1918.1 1035.1,1910.4 1035.6,1914.3 1036,1930.3 1036.4,1924.1 1036.8,1919.1 1037.2,1920.6 1037.7,1915.3 1038.1,1919.3 1038.5,1915.1 1038.9,1921.5 1039.3,1913.5 1039.8,1921.2 1040.2,1924.5 1040.6,1918.1 1041,1921.1 1041.4,1921.6 1041.9,1916.9 1042.3,1911.8 1042.7,1926.2 1043.1,1920.5 1043.5,1918.2 1044,1927.2 1044.4,1915.2 1044.8,1917 1045.2,1915.8 1045.6,1913.9 1046.1,1919.1 1046.5,1916.2 1046.9,1927.9 1047.3,1916 1047.7,1927 1048.2,1914.6 1048.6,1917.9 1049,1920 1049.4,1914.7 1049.8,1923.6 1050.3,1916.3 1050.7,1915.9 1051.1,1923.7 1051.5,1915.4 1051.9,1923.3 1052.4,1925.8 1052.8,1924.2 1053.2,1927.7 1053.6,1917.2 1054,1926.7 1054.5,1916.5 1054.9,1910 1055.3,1918.5 1055.7,1930.6 1056.1,1913.7 1056.6,1929.6 1057,1911.1 1057.4,1924.5 1057.8,1922.1 1058.2,1916.7 1058.7,1906.2 1059.1,1923 1059.5,1922.8 1059.9,1922 1060.3,1924.7 1060.8,1914.4 1061.2,1930.5 1061.6,1924.2 1062,1914.5 1062.4,1931.5 1062.9,1919 1063.3,1921.5 1063.7,1923.6 1064.1,1913.7 1064.5,1913.5 1065,1917.6 1065.4,1911.9 1065.8,1917.3 1066.2,1926.3 1066.6,1911.7 1067.1,1918.7 1067.5,1914.8 1067.9,1922.9 1068.3,1911.2 1068.7,1911.4 1069.2,1916.7 1069.6,1929.2 1070,1911.9 1070.4,1907.3 1070.8,1911.4 1071.3,1921.1 1071.7,1922.2 1072.1,1916.4 1072.5,1918.1 1072.9,1908.4 1073.4,1918.7 1073.8,1915.3 1074.2,1912.5 1074.6,1921.8 1075,1922 1075.5,1912.9 1075.9,1916.9 1076.3,1904.2 1076.7,1909.1 1077.1,1922.7 1077.6,1908.4 1078,1909.4 1078.4,1921.2 1078.8,1901 1079.2,1910.3 1079.7,1918.5 1080.1,1911.4 1080.5,1908.7 1080.9,1907.6 1081.3,1914.7 1081.8,1907.8 1082.2,1915 1082.6,1912.1 1083,1912.9 1083.4,1919.2 1083.9,1909.8 1084.3,1906.8 1084.7,1912.2 1085.1,1913.6 1085.5,1910.8 1086,1901.7 1086.4,1915.5 1086.8,1901 1087.2,1899.3 1087.6,1916.2 1088.1,1919.3 1088.5,1908.3 1088.9,1904.7 1089.3,1917.3 1089.7,1900.8 1090.2,1908 1090.6,1904.2 1091,1910.7 1091.4,1908.5 1091.8,1901.4 1092.3,1912.2 1092.7,1909.4 1093.1,1904.5 1093.5,1902.1 1093.9,1902.8 1094.4,1895.1 1094.8,1900.7 1095.2,1900 1095.6,1904.3 1096,1899.2 1096.5,1897.4 1096.9,1900.9 1097.3,1904.8 1097.7,1901.9 1098.1,1897.2 1098.6,1894.8 1099,1905.5 1099.4,1896.8 1099.8,1888.9 1100.2,1897.4 1100.7,1884.8 1101.1,1892.3 1101.5,1899.3 1101.9,1894.2 1102.3,1893 1102.8,1899.6 1103.2,1902.3 1103.6,1889.1 1104,1888 1104.4,1890.6 1104.9,1888 1105.3,1898 1105.7,1899.6 1106.1,1894.4 1106.5,1888.5 1107,1885.3 1107.4,1894.1 1107.8,1890.2 1108.2,1897.9 1108.6,1887.3 1109.1,1891.7 1109.5,1892.7 1109.9,1901.6 1110.3,1900.1 1110.7,1898.3 1111.2,1896.6 1111.6,1899.6 1112,1884.3 1112.4,1901 1112.8,1894 1113.3,1904.8 1113.7,1901.3 1114.1,1903.2 1114.5,1891.6 1114.9,1913.8 1115.4,1899.6 1115.8,1897.9 1116.2,1892.7 1116.6,1898.4 1117,1883.3 1117.5,1904.7 1117.9,1899.5 1118.3,1896.2 1118.7,1905 1119.1,1900 1119.6,1899.6 1120,1893.7 1120.4,1899 1120.8,1889.8 1121.2,1890.2 1121.7,1898.1 1122.1,1893.4 1122.5,1889 1122.9,1896.2 1123.3,1886.1 1123.8,1907.1 1124.2,1892 1124.6,1892.2 1125,1907.3 1125.4,1888.8 1125.9,1884.4 1126.3,1898.1 1126.7,1896.7 1127.1,1904.7 1127.5,1898.3 1128,1889 1128.4,1899.7 1128.8,1897.7 1129.2,1907.1 1129.6,1901.5 1130.1,1894.3 1130.5,1896 1130.9,1900.5 1131.3,1898.1 1131.7,1902.2 1132.2,1902.8 1132.6,1894.3 1133,1903.1 1133.4,1906.9 1133.8,1895 1134.3,1893.7 1134.7,1907.3 1135.1,1906.4 1135.5,1908.9 1135.9,1914.2 1136.4,1903.1 1136.8,1897.8 1137.2,1905.7 1137.6,1900.6 1138,1907.1 1138.5,1909.5 1138.9,1906 1139.3,1909 1139.7,1905.9 1140.1,1907.7 1140.6,1899.4 1141,1916.6 1141.4,1902.6 1141.8,1904.4 1142.2,1902.7 1142.7,1905.7 1143.1,1904.7 1143.5,1895.6 1143.9,1916.9 1144.3,1910 1144.8,1906.1 1145.2,1907.8 1145.6,1914.1 1146,1913.1 1146.4,1909.9 1146.9,1913.6 1147.3,1892.9 1147.7,1913.3 1148.1,1906.8 1148.5,1903.6 1149,1902 1149.4,1908.6 1149.8,1897.7 1150.2,1910 1150.6,1903.4 1151.1,1912.3 1151.5,1897.4 1151.9,1910.2 1152.3,1905.1 1152.7,1900.7 1153.2,1915 1153.6,1914.2 1154,1901.9 1154.4,1905.7 1154.8,1916.1 1155.3,1907.9 1155.7,1903.5 1156.1,1901.5 1156.5,1902.4 1156.9,1910.4 1157.4,1912.4 1157.8,1904.5 1158.2,1900.4 1158.6,1901.7 1159,1895.6 1159.5,1909 1159.9,1906.1 1160.3,1912.5 1160.7,1919.5 1161.1,1913.9 1161.6,1903.3 1162,1903.6 1162.4,1897.6 1162.8,1892.8 1163.2,1916.5 1163.7,1906.6 1164.1,1895.7 1164.5,1909 1164.9,1892 1165.3,1903.2 1165.8,1905 1166.2,1900.3 1166.6,1900.9 1167,1908.7 1167.4,1900.6 1167.9,1910.6 1168.3,1892.6 1168.7,1900.9 1169.1,1913.6 1169.5,1896.9 1170,1896.9 1170.4,1903 1170.8,1899.9 1171.2,1904 1171.6,1908.5 1172.1,1905.7 1172.5,1903.4 1172.9,1899.6 1173.3,1903.2 1173.7,1907.4 1174.2,1896.2 1174.6,1898.8 1175,1894.3 1175.4,1901 1175.8,1901.9 1176.3,1897.3 1176.7,1893.7 1177.1,1895.6 1177.5,1904.1 1177.9,1896.3 1178.4,1904.7 1178.8,1895.6 1179.2,1894.4 1179.6,1903.7 1180,1893.7 1180.5,1905.3 1180.9,1884.4 1181.3,1897.8 1181.7,1894.1 1182.1,1894.7 1182.6,1898.4 1183,1884.1 1183.4,1909.4 1183.8,1893.1 1184.2,1910.9 1184.7,1900.4 1185.1,1896.2 1185.5,1884.7 1185.9,1905 1186.3,1897.9 1186.8,1900.9 1187.2,1883.2 1187.6,1881.4 1188,1889.7 1188.4,1895.2 1188.9,1896.5 1189.3,1898.8 1189.7,1885 1190.1,1881.6 1190.5,1894.5 1191,1882.9 1191.4,1888.6 1191.8,1901.7 1192.2,1885.4 1192.6,1890.1 1193.1,1889 1193.5,1886.9 1193.9,1888.9 1194.3,1889.2 1194.7,1885.8 1195.2,1894.8 1195.6,1890.5 1196,1877.3 1196.4,1892.7 1196.8,1883.6 1197.3,1881 1197.7,1876.4 1198.1,1885.9 1198.5,1879.9 1198.9,1874.4 1199.4,1873.3 1199.8,1885.7 1200.2,1875.4 1200.6,1874.2 1201,1892.9 1201.5,1877.7 1201.9,1879.1 1202.3,1874.9 1202.7,1873.1 1203.1,1866.1 1203.6,1876.6 1204,1873 1204.4,1864.8 1204.8,1868.9 1205.2,1880.7 1205.7,1870 1206.1,1867.7 1206.5,1862.3 1206.9,1861.9 1207.3,1868.7 1207.8,1870.1 1208.2,1864.9 1208.6,1869 1209,1856.4 1209.4,1858.5 1209.9,1863 1210.3,1867.8 1210.7,1855.9 1211.1,1864.9 1211.5,1850.2 1212,1864.5 1212.4,1864.9 1212.8,1853 1213.2,1856.7 1213.6,1858.6 1214.1,1847.8 1214.5,1848.7 1214.9,1847.5 1215.3,1853.4 1215.7,1855 1216.2,1841.1 1216.6,1841.4 1217,1850.1 1217.4,1840 1217.8,1842.1 1218.3,1848.3 1218.7,1841.9 1219.1,1848 1219.5,1840.3 1219.9,1837.8 1220.4,1832.4 1220.8,1820.8 1221.2,1833.1 1221.6,1821.8 1222,1840 1222.5,1838.9 1222.9,1836 1223.3,1840.2 1223.7,1846.7 1224.1,1818 1224.6,1829.1 1225,1835.6 1225.4,1827.4 1225.8,1827.9 1226.2,1836.4 1226.7,1832 1227.1,1817.8 1227.5,1838.5 1227.9,1821.8 1228.3,1829.4 1228.8,1832 1229.2,1815.6 1229.6,1840.5 1230,1833 1230.4,1831 1230.9,1834.1 1231.3,1826.7 1231.7,1833.7 1232.1,1833.5 1232.5,1812.9 1233,1820.3 1233.4,1836.2 1233.8,1821.9 1234.2,1833.8 1234.6,1828.7 1235.1,1835.6 1235.5,1817.6 1235.9,1831.7 1236.3,1831.2 1236.7,1833.4 1237.2,1833.4 1237.6,1832.6 1238,1835 1238.4,1836.1 1238.8,1828.8 1239.3,1843.7 1239.7,1833.7 1240.1,1829.5 1240.5,1839.1 1240.9,1824.1 1241.4,1842.6 1241.8,1832.7 1242.2,1836 1242.6,1836.1 1243,1839.6 1243.5,1831.8 1243.9,1833.3 1244.3,1839.5 1244.7,1832.8 1245.1,1837.1 1245.6,1836.8 1246,1835.4 1246.4,1833.3 1246.8,1832.6 1247.2,1835.7 1247.7,1830.3 1248.1,1831.1 1248.5,1858.6 1248.9,1840 1249.3,1846.6 1249.8,1842.3 1250.2,1845.7 1250.6,1841.7 1251,1848.1 1251.4,1842.7 1251.9,1843.5 1252.3,1833.1 1252.7,1848.8 1253.1,1840.7 1253.5,1842.2 1254,1845.5 1254.4,1844.5 1254.8,1842.9 1255.2,1852 1255.6,1837.5 1256.1,1829.7 1256.5,1841.8 1256.9,1828.7 1257.3,1843.3 1257.7,1853.6 1258.2,1855.9 1258.6,1838 1259,1848.5 1259.4,1837.8 1259.8,1848.8 1260.3,1856.4 1260.7,1843.1 1261.1,1858.4 1261.5,1850.2 1261.9,1867.1 1262.4,1845.5 1262.8,1844.2 1263.2,1860.1 1263.6,1858 1264,1856.7 1264.5,1848.1 1264.9,1855.2 1265.3,1851.4 1265.7,1866.3 1266.1,1860.9 1266.6,1853 1267,1852.7 1267.4,1849.3 1267.8,1855.9 1268.2,1860.6 1268.7,1864.3 1269.1,1869.4 1269.5,1859.7 1269.9,1872 1270.3,1850.8 1270.8,1864.3 1271.2,1869.8 1271.6,1862.7 1272,1868.1 1272.4,1872.4 1272.9,1863.7 1273.3,1869.2 1273.7,1875.7 1274.1,1860.9 1274.5,1876.7 1275,1869 1275.4,1860.7 1275.8,1873.2 1276.2,1875.6 1276.6,1870.5 1277.1,1874.4 1277.5,1875.8 1277.9,1873.5 1278.3,1874.4 1278.7,1879.4 1279.2,1879.4 1279.6,1874.8 1280,1863.2 1280.4,1867.3 1280.8,1873.5 1281.3,1883.8 1281.7,1880 1282.1,1888.6 1282.5,1880.5 1282.9,1880.6 1283.4,1876.1 1283.8,1886.3 1284.2,1870 1284.6,1881.2 1285,1878.3 1285.5,1876.1 1285.9,1885.8 1286.3,1884.2 1286.7,1882.7 1287.1,1878.2 1287.6,1871.1 1288,1871.9 1288.4,1864.3 1288.8,1872 1289.2,1882.7 1289.7,1889.7 1290.1,1873.6 1290.5,1888.7 1290.9,1892.9 1291.3,1887.8 1291.8,1891.7 1292.2,1880.5 1292.6,1877.5 1293,1882.4 1293.4,1886.8 1293.9,1883.6 1294.3,1881.8 1294.7,1885.7 1295.1,1874.8 1295.5,1885.5 1296,1867.5 1296.4,1889.5 1296.8,1889.2 1297.2,1895.2 1297.6,1874.1 1298.1,1876.1 1298.5,1873 1298.9,1870.1 1299.3,1864.3 1299.7,1884.4 1300.2,1877.7 1300.6,1878.1 1301,1867.2 1301.4,1879.7 1301.8,1891.7 1302.3,1879.4 1302.7,1883.7 1303.1,1870.4 1303.5,1884.9 1303.9,1877.5 1304.4,1878.3 1304.8,1879.8 1305.2,1875.6 1305.6,1881.5 1306,1876.1 1306.5,1873.8 1306.9,1869.4 1307.3,1868.7 1307.7,1881.8 1308.1,1883 1308.6,1875.1 1309,1874.3 1309.4,1871.6 1309.8,1876.4 1310.2,1884.2 1310.7,1876.5 1311.1,1871 1311.5,1881.3 1311.9,1879.1 1312.3,1862 1312.8,1870.4 1313.2,1881.5 1313.6,1875.5 1314,1872.2 1314.4,1875.1 1314.9,1864.1 1315.3,1863.8 1315.7,1870.4 1316.1,1871.6 1316.5,1881.1 1317,1869.2 1317.4,1871.5 1317.8,1879.4 1318.2,1864.5 1318.6,1866.2 1319.1,1867.8 1319.5,1868.8 1319.9,1867.6 1320.3,1870.6 1320.7,1857.1 1321.2,1855.5 1321.6,1863.1 1322,1851.7 1322.4,1872.7 1322.8,1855.5 1323.3,1856 1323.7,1863 1324.1,1860.1 1324.5,1860.7 1324.9,1855.5 1325.4,1845.5 1325.8,1852.5 1326.2,1847.9 1326.6,1839.8 1327,1848.4 1327.5,1856.2 1327.9,1842 1328.3,1842.3 1328.7,1841.1 1329.1,1850.6 1329.6,1829.5 1330,1846 1330.4,1841.9 1330.8,1838.8 1331.2,1830.9 1331.7,1833.3 1332.1,1846.5 1332.5,1830.7 1332.9,1822.6 1333.3,1827.9 1333.8,1808.2 1334.2,1822 1334.6,1808.5 1335,1824.7 1335.4,1818.6 1335.9,1802 1336.3,1796.7 1336.7,1785.9 1337.1,1789.4 1337.5,1786.3 1338,1765.1 1338.4,1759.6 1338.8,1772.4 1339.2,1759.4 1339.6,1761.7 1340.1,1757.6 1340.5,1754.3 1340.9,1746.9 1341.3,1750 1341.7,1752.6 1342.2,1749.3 1342.6,1726.5 1343,1724.9 1343.4,1718.6 1343.8,1698.2 1344.3,1691.4 1344.7,1698.3 1345.1,1697.5 1345.5,1694.2 1345.9,1674.5 1346.4,1680.4 1346.8,1666.8 1347.2,1657.5 1347.6,1665.2 1348,1633.4 1348.5,1621.8 1348.9,1658.3 1349.3,1634 1349.7,1637.4 1350.1,1623.8 1350.6,1612.9 1351,1603 1351.4,1590.8 1351.8,1605.1 1352.2,1585.5 1352.7,1586.7 1353.1,1581.6 1353.5,1568.5 1353.9,1561.2 1354.3,1568.7 1354.8,1550 1355.2,1544.4 1355.6,1535.4 1356,1548.9 1356.4,1543.4 1356.9,1519.1 1357.3,1526.4 1357.7,1517 1358.1,1509.9 1358.5,1500.8 1359,1526.9 1359.4,1508.1 1359.8,1472.4 1360.2,1502 1360.6,1503.2 1361.1,1477.2 1361.5,1468.6 1361.9,1465.5 1362.3,1469.9 1362.7,1447.7 1363.2,1454.3 1363.6,1427.8 1364,1456.8 1364.4,1411 1364.8,1437.1 1365.3,1446.7 1365.7,1454.4 1366.1,1434.5 1366.5,1435.7 1366.9,1462.6 1367.4,1438.2 1367.8,1437.1 1368.2,1441.9 1368.6,1457.5 1369,1459.6 1369.5,1465.5 1369.9,1461.2 1370.3,1454 1370.7,1467 1371.1,1473.4 1371.6,1454 1372,1463.1 1372.4,1472.6 1372.8,1494.5 1373.2,1474.6 1373.7,1481.6 1374.1,1484.2 1374.5,1491 1374.9,1497.5 1375.3,1482.1 1375.8,1465.6 1376.2,1511.3 1376.6,1484.9 1377,1519.1 1377.4,1528.4 1377.9,1540.3 1378.3,1530.1 1378.7,1554 1379.1,1567.4 1379.5,1578.5 1380,1595.3 1380.4,1582 1380.8,1595 1381.2,1603.8 1381.6,1611.4 1382.1,1626.8 1382.5,1628.9 1382.9,1625.4 1383.3,1645.6 1383.7,1638.1 1384.2,1625.1 1384.6,1654.2 1385,1634.6 1385.4,1642.3 1385.8,1660.5 1386.3,1671.6 1386.7,1686.7 1387.1,1698.2 1387.5,1699.5 1387.9,1707.7 1388.4,1727.3 1388.8,1730.9 1389.2,1733.2 1389.6,1735.3 1390,1750 1390.5,1749 1390.9,1754.1 1391.3,1780.6 1391.7,1785.3 1392.1,1784.1 1392.6,1806.2 1393,1799.2 1393.4,1811.1 1393.8,1815.8 1394.2,1818.7 1394.7,1824.5 1395.1,1840.2 1395.5,1840.8 1395.9,1825.8 1396.3,1848 1396.8,1832.6 1397.2,1844.9 1397.6,1859 1398,1852.2 1398.4,1871.7 1398.9,1864.2 1399.3,1873.8 1399.7,1874.7 1400.1,1880.8 1400.5,1886.7 1401,1870.8 1401.4,1882 1401.8,1885.6 1402.2,1892.9 1402.6,1891.5 1403.1,1888 1403.5,1882.8 1403.9,1882.8 1404.3,1888.5 1404.7,1896.7 1405.2,1897.6 1405.6,1906.6 1406,1900.3 1406.4,1904 1406.8,1891.3 1407.3,1902.1 1407.7,1898.1 1408.1,1898.1 1408.5,1909.9 1408.9,1902.7 1409.4,1902.8 1409.8,1903.8 1410.2,1896 1410.6,1894.8 1411,1916.6 1411.5,1905.8 1411.9,1905.8 1412.3,1907.5 1412.7,1903.8 1413.1,1905.2 1413.6,1902 1414,1909.6 1414.4,1907 1414.8,1914.5 1415.2,1917.9 1415.7,1902.5 1416.1,1913.3 1416.5,1907.1 1416.9,1922.8 1417.3,1911.5 1417.8,1916.4 1418.2,1908 1418.6,1918.7 1419,1907.2 1419.4,1904.5 1419.9,1897.7 1420.3,1912.1 1420.7,1910.3 1421.1,1914.1 1421.5,1907.9 1422,1913.4 1422.4,1913.6 1422.8,1907.7 1423.2,1925.7 1423.6,1927.7 1424.1,1916.6 1424.5,1918.5 1424.9,1919.4 1425.3,1920.1 1425.7,1911.5 1426.2,1918.1 1426.6,1927.1 1427,1915.9 1427.4,1915.7 1427.8,1912.1 1428.3,1915.2 1428.7,1905.2 1429.1,1917.9 1429.5,1924.6 1429.9,1920.4 1430.4,1919.7 1430.8,1919.3 1431.2,1919.5 1431.6,1913.2 1432,1908.6 1432.5,1930.4 1432.9,1922.8 1433.3,1907.4 1433.7,1929.5 1434.1,1917.9 1434.6,1926.1 1435,1919.9 1435.4,1917 1435.8,1925.7 1436.2,1919 1436.7,1906.8 1437.1,1924.4 1437.5,1920.8 1437.9,1921 1438.3,1919.7 1438.8,1924.1 1439.2,1930.4 1439.6,1927.6 1440,1923.7 1440.4,1922.6 1440.9,1917.9 1441.3,1932.5 1441.7,1911.1 1442.1,1916.7 1442.5,1921.5 1443,1923.4 1443.4,1924.2 1443.8,1920.4 1444.2,1933.8 1444.6,1930.1 1445.1,1912.2 1445.5,1917.6 1445.9,1915.3 1446.3,1931.4 1446.7,1920.8 1447.2,1914.4 1447.6,1921.8 1448,1916.1 1448.4,1923.9 1448.8,1927.7 1449.3,1917.2 1449.7,1925.2 1450.1,1925.7 1450.5,1919.9 1450.9,1926.9 1451.4,1920.4 1451.8,1928 1452.2,1923.5 1452.6,1921.8 1453,1932.6 1453.5,1930.2 1453.9,1922.9 1454.3,1906.6 1454.7,1926.2 1455.1,1921.9 1455.6,1927.1 1456,1924.9 1456.4,1923.3 1456.8,1922.9 1457.2,1933.1 1457.7,1933.7 1458.1,1932.6 1458.5,1918.7 1458.9,1923.1 1459.3,1926.3 1459.8,1914.3 1460.2,1931.4 1460.6,1919.2 1461,1931.1 1461.4,1922.4 1461.9,1927.9 1462.3,1915.7 1462.7,1911.2 1463.1,1921.3 1463.5,1917.8 1464,1918.1 1464.4,1922.9 1464.8,1927.3 1465.2,1930.4 1465.6,1920.4 1466.1,1917.3 1466.5,1925.2 1466.9,1919.6 1467.3,1918.8 1467.7,1923.2 1468.2,1932.2 1468.6,1927.5 1469,1913.9 1469.4,1937.2 1469.8,1918.4 1470.3,1926.9 1470.7,1921.5 1471.1,1931.7 1471.5,1928.6 1471.9,1933.2 1472.4,1927.8 1472.8,1925.7 1473.2,1933.5 1473.6,1915.7 1474,1919.4 1474.5,1918.5 1474.9,1925.8 1475.3,1924.1 1475.7,1922.1 1476.1,1931.2 1476.6,1930.2 1477,1924.5 1477.4,1919.3 1477.8,1939.7 1478.2,1929.4 1478.7,1924.4 1479.1,1928.7 1479.5,1929.9 1479.9,1924.4 1480.3,1932.5 1480.8,1929.1 1481.2,1925.7 1481.6,1935 1482,1926.3 1482.4,1936.2 1482.9,1929.8 1483.3,1927.8 1483.7,1936 1484.1,1927.4 1484.5,1932.7 1485,1937.3 1485.4,1927.8 1485.8,1926.6 1486.2,1934.5 1486.6,1936 1487.1,1918.2 1487.5,1933.8 1487.9,1937.6 1488.3,1928.4 1488.7,1937.5 1489.2,1930.5 1489.6,1929.1 1490,1931.4 1490.4,1937.7 1490.8,1932 1491.3,1931.4 1491.7,1935.2 1492.1,1939.9 1492.5,1924.7 1492.9,1942.5 1493.4,1944.7 1493.8,1931.6 1494.2,1937.4 1494.6,1940.7 1495,1939.3 1495.5,1949.4 1495.9,1940.3 1496.3,1936.9 1496.7,1938.1 1497.1,1942.5 1497.6,1936.9 1498,1938 1498.4,1938.7 1498.8,1950.9 1499.2,1945.4 1499.7,1935.8 1500.1,1944.9 1500.5,1927.9 1500.9,1942.4 1501.3,1945.8 1501.8,1944.4 1502.2,1945.6 1502.6,1943.9 1503,1939.2 1503.4,1941.8 1503.9,1941.7 1504.3,1935.2 1504.7,1943.5 1505.1,1937.9 1505.5,1946.7 1506,1955.6 1506.4,1954.9 1506.8,1957.7 1507.2,1941.5 1507.6,1941.4 1508.1,1947.3 1508.5,1939 1508.9,1947.3 1509.3,1941 1509.7,1945.8 1510.2,1942 1510.6,1952.6 1511,1950.4 1511.4,1948.6 1511.8,1937.7 1512.3,1950.9 1512.7,1942.2 1513.1,1937.2 1513.5,1946.2 1513.9,1950.2 1514.4,1936.6 1514.8,1948.8 1515.2,1943.5 1515.6,1943.7 1516,1947.4 1516.5,1943 1516.9,1941.3 1517.3,1950.7 1517.7,1931.7 1518.1,1950.3 1518.6,1938.1 1519,1951.5 1519.4,1938.8 1519.8,1952.4 1520.2,1935.9 1520.7,1954.8 1521.1,1946 1521.5,1944.2 1521.9,1943.6 1522.3,1950.8 1522.8,1944.5 1523.2,1948.7 1523.6,1946.3 1524,1939.6 1524.4,1954.5 1524.9,1944.7 1525.3,1947.2 1525.7,1947 1526.1,1945.7 1526.5,1954.7 1527,1947.7 1527.4,1944.3 1527.8,1946.1 1528.2,1944.1 1528.6,1939.8 1529.1,1951.7 1529.5,1940.6 1529.9,1952.3 1530.3,1946.3 1530.7,1950.2 1531.2,1945.8 1531.6,1944.3 1532,1958.2 1532.4,1943.9 1532.8,1941 1533.3,1948.3 1533.7,1953.4 1534.1,1939.2 1534.5,1943.2 1534.9,1950.6 1535.4,1951.1 1535.8,1949.1 1536.2,1943.9 1536.6,1947.3 1537,1942.5 1537.5,1948.6 1537.9,1946.3 1538.3,1947.7 1538.7,1945.1 1539.1,1950 1539.6,1946.6 1540,1942.4 1540.4,1953.8 1540.8,1947.6 1541.2,1944.9 1541.7,1945.5 1542.1,1954.3 1542.5,1946.9 1542.9,1948 1543.3,1942.2 1543.8,1944.6 1544.2,1943.4 1544.6,1942 1545,1940.9 1545.4,1944.6 1545.9,1939.6 1546.3,1949.7 1546.7,1950.4 1547.1,1941.7 1547.5,1948.5 1548,1942.6 1548.4,1948 1548.8,1948.6 1549.2,1937.6 1549.6,1933.4 1550.1,1948.8 1550.5,1948.8 1550.9,1946.1 1551.3,1943.4 1551.7,1942.5 1552.2,1932.8 1552.6,1953.5 1553,1934.5 1553.4,1947.4 1553.8,1945.1 1554.3,1947.8 1554.7,1939.8 1555.1,1941.9 1555.5,1948.5 1555.9,1940.4 1556.4,1946.7 1556.8,1939.4 1557.2,1947.2 1557.6,1948.7 1558,1946.4 1558.5,1949.1 1558.9,1940.3 1559.3,1943.6 1559.7,1944.5 1560.1,1953.7 1560.6,1943.4 1561,1946.4 1561.4,1952.6 1561.8,1947.4 1562.2,1951 1562.7,1941 1563.1,1951.5 1563.5,1946.4 1563.9,1949 1564.3,1950 1564.8,1936.6 1565.2,1952.3 1565.6,1944.3 1566,1952.4 1566.4,1945.1 1566.9,1947.6 1567.3,1938.5 1567.7,1940.6 1568.1,1951.9 1568.5,1942.3 1569,1947.9 1569.4,1946.3 1569.8,1940.8 1570.2,1945.5 1570.6,1945.9 1571.1,1949.8 1571.5,1944.7 1571.9,1943.6 1572.3,1954 1572.7,1954.3 1573.2,1947.3 1573.6,1941.8 1574,1949.2 1574.4,1944.5 1574.8,1954.4 1575.3,1947 1575.7,1943.9 1576.1,1945.6 1576.5,1942.4 1576.9,1946.9 1577.4,1940.7 1577.8,1948.4 1578.2,1951.6 1578.6,1949.9 1579,1942.7 1579.5,1949.4 1579.9,1945.4 1580.3,1940.1 1580.7,1947 1581.1,1951.9 1581.6,1948.6 1582,1945.8 1582.4,1944.2 1582.8,1947.3 1583.2,1949.9 1583.7,1948.5 1584.1,1953.6 1584.5,1951.8 1584.9,1952.8 1585.3,1946.3 1585.8,1950.1 1586.2,1948.1 1586.6,1950 1587,1949.6 1587.4,1960.5 1587.9,1942.4 1588.3,1950.1 1588.7,1945.9 1589.1,1950.4 1589.5,1949.7 1590,1956.2 1590.4,1947.8 1590.8,1945.2 1591.2,1950.3 1591.6,1950.1 1592.1,1938 1592.5,1958.3 1592.9,1944.3 1593.3,1956.7 1593.7,1955.2 1594.2,1956 1594.6,1950.1 1595,1945.1 1595.4,1945.5 1595.8,1955.6 1596.3,1947 1596.7,1951.5 1597.1,1947.7 1597.5,1946.7 1597.9,1954.4 1598.4,1945 1598.8,1948.7 1599.2,1948.3 1599.6,1950.6 1600,1949.4 1600.5,1944.8 1600.9,1947.9 1601.3,1948.4 1601.7,1960 1602.1,1954.1 1602.6,1949.8 1603,1951.2 1603.4,1949 1603.8,1958.8 1604.2,1949.7 1604.7,1945.8 1605.1,1970.8 1605.5,1946.8 1605.9,1948 1606.3,1946.1 1606.8,1953.1 1607.2,1947.7 1607.6,1947.3 1608,1956.2 1608.4,1958.6 1608.9,1953.1 1609.3,1946.4 1609.7,1954.2 1610.1,1948.7 1610.5,1953.4 1611,1953.5 1611.4,1946.3 1611.8,1956.7 1612.2,1952.4 1612.6,1952.2 1613.1,1947.3 1613.5,1957.4 1613.9,1949.4 1614.3,1953.4 1614.7,1948 1615.2,1947 1615.6,1947.1 1616,1945.2 1616.4,1951.5 1616.8,1960.1 1617.3,1959 1617.7,1949.5 1618.1,1950 1618.5,1961.6 1618.9,1958 1619.4,1954.3 1619.8,1952.5 1620.2,1952.6 1620.6,1943.1 1621,1951.6 1621.5,1965.1 1621.9,1962.8 1622.3,1953.8 1622.7,1959.2 1623.1,1958.3 1623.6,1952.7 1624,1951.3 1624.4,1952.9 1624.8,1956.8 1625.2,1962.4 1625.7,1957.3 1626.1,1956.3 1626.5,1955.2 1626.9,1962.7 1627.3,1964.7 1627.8,1958 1628.2,1955.8 1628.6,1958.6 1629,1960.1 1629.4,1963.1 1629.9,1962.2 1630.3,1953.8 1630.7,1957.2 1631.1,1955.9 1631.5,1961.1 1632,1952.8 1632.4,1949.6 1632.8,1958.7 1633.2,1956.1 1633.6,1956.5 1634.1,1958.1 1634.5,1954.5 1634.9,1959.3 1635.3,1953.6 1635.7,1953.5 1636.2,1961.8 1636.6,1957.9 1637,1964.8 1637.4,1961 1637.8,1956.3 1638.3,1957.2 1638.7,1955 1639.1,1960 1639.5,1962.7 1639.9,1960.2 1640.4,1961.4 1640.8,1955.9 1641.2,1966.5 1641.6,1963.5 1642,1965.5 1642.5,1955.6 1642.9,1960.1 1643.3,1957.7 1643.7,1968.7 1644.1,1960.6 1644.6,1972.2 1645,1963.9 1645.4,1959.2 1645.8,1967.9 1646.2,1970.4 1646.7,1961.6 1647.1,1959.8 1647.5,1962.4 1647.9,1957.3 1648.3,1958 1648.8,1953 1649.2,1960.5 1649.6,1957.4 1650,1964.2 1650.4,1965 1650.9,1968.5 1651.3,1965.1 1651.7,1963 1652.1,1970.1 1652.5,1961.1 1653,1954.7 1653.4,1958.4 1653.8,1962.8 1654.2,1967.5 1654.6,1969.7 1655.1,1960.6 1655.5,1970.3 1655.9,1967.3 1656.3,1968.6 1656.7,1961.2 1657.2,1964.9 1657.6,1956.3 1658,1966.6 1658.4,1964.6 1658.8,1969.7 1659.3,1971.7 1659.7,1962.6 1660.1,1971 1660.5,1971.9 1660.9,1965.9 1661.4,1975.8 1661.8,1963.9 1662.2,1961 1662.6,1967.8 1663,1975.6 1663.5,1970.3 1663.9,1960.2 1664.3,1965.8 1664.7,1973.8 1665.1,1965.1 1665.6,1967.7 1666,1963.9 1666.4,1977.5 1666.8,1976.4 1667.2,1963 1667.7,1960.8 1668.1,1971.6 1668.5,1971.1 1668.9,1969.2 1669.3,1969.8 1669.8,1968.1 1670.2,1973.6 1670.6,1973.4 1671,1975.4 1671.4,1973.7 1671.9,1967.2 1672.3,1967.8 1672.7,1968.6 1673.1,1970.4 1673.5,1966.8 1674,1966.2 1674.4,1968.8 1674.8,1967.9 1675.2,1969.3 1675.6,1977.1 1676.1,1975.9 1676.5,1967.7 1676.9,1970.3 1677.3,1968.6 1677.7,1966 1678.2,1972.2 1678.6,1960.9 1679,1970.6 1679.4,1968.2 1679.8,1963.9 1680.3,1971.6 1680.7,1973.7 1681.1,1970.5 1681.5,1971.2 1681.9,1965.2 1682.4,1971.2 1682.8,1975.8 1683.2,1964 1683.6,1979 1684,1961 1684.5,1973 1684.9,1966.2 1685.3,1969.9 1685.7,1968.7 1686.1,1968.8 1686.6,1973.3 1687,1967.4 1687.4,1969.6 1687.8,1973.9 1688.2,1967.9 1688.7,1958.7 1689.1,1965.9 1689.5,1965.7 1689.9,1964.2 1690.3,1971.1 1690.8,1968.5 1691.2,1964.5 1691.6,1965.4 1692,1961.3 1692.4,1965.4 1692.9,1976.4 1693.3,1959.9 1693.7,1976.3 1694.1,1967.3 1694.5,1966.5 1695,1964.7 1695.4,1961.5 1695.8,1970 1696.2,1965.6 1696.6,1963.9 1697.1,1966.5 1697.5,1973.8 1697.9,1964.5 1698.3,1965.8 1698.7,1972.6 1699.2,1961.6 1699.6,1970.2 1700,1977.4 1700.4,1966 1700.8,1958.3 1701.3,1970.2 1701.7,1964.3 1702.1,1971.8 1702.5,1967.9 1702.9,1966.7 1703.4,1961.2 1703.8,1970.7 1704.2,1967.3 1704.6,1967.1 1705,1967.1 1705.5,1967 1705.9,1965.8 1706.3,1964.3 1706.7,1957 1707.1,1961.8 1707.6,1962.7 1708,1969.4 1708.4,1969.1 1708.8,1959.5 1709.2,1961.6 1709.7,1960.9 1710.1,1965.1 1710.5,1964.9 1710.9,1966.3 1711.3,1960.2 1711.8,1961.6 1712.2,1972.8 1712.6,1957.6 1713,1969.7 1713.4,1966.4 1713.9,1967.1 1714.3,1963 1714.7,1962.3 1715.1,1965.8 1715.5,1961.2 1716,1961.4 1716.4,1960.1 1716.8,1963.1 1717.2,1960.5 1717.6,1959.1 1718.1,1963.1 1718.5,1960.9 1718.9,1953.5 1719.3,1959.1 1719.7,1965.6 1720.2,1960.6 1720.6,1965.6 1721,1949.8 1721.4,1959.3 1721.8,1947.7 1722.3,1959.7 1722.7,1953.2 1723.1,1955.1 1723.5,1957.6 1723.9,1951 1724.4,1951.2 1724.8,1952.3 1725.2,1957.4 1725.6,1960 1726,1949.2 1726.5,1948 1726.9,1952.3 1727.3,1945.7 1727.7,1944.5 1728.1,1953.3 1728.6,1947.8 1729,1957.6 1729.4,1945 1729.8,1956.6 1730.2,1954.8 1730.7,1946.8 1731.1,1949.1 1731.5,1934.2 1731.9,1948.6 1732.3,1947.2 1732.8,1942.5 1733.2,1953 1733.6,1933.9 1734,1949.1 1734.4,1945.5 1734.9,1945.9 1735.3,1937 1735.7,1947.5 1736.1,1941.3 1736.5,1944.4 1737,1947.9 1737.4,1938.5 1737.8,1928.1 1738.2,1944 1738.6,1943.1 1739.1,1940.3 1739.5,1937.9 1739.9,1936.2 1740.3,1941.2 1740.7,1943.3 1741.2,1937.7 1741.6,1946.5 1742,1938.3 1742.4,1942.7 1742.8,1938.3 1743.3,1938.9 1743.7,1943.9 1744.1,1942.2 1744.5,1944.9 1744.9,1944.4 1745.4,1938.8 1745.8,1942.5 1746.2,1941.2 1746.6,1941.2 1747,1943 1747.5,1939.5 1747.9,1940 1748.3,1942.1 1748.7,1934.8 1749.1,1944.3 1749.6,1945.4 1750,1930.1 1750.4,1944.8 1750.8,1937.7 1751.2,1937.6 1751.7,1945.5 1752.1,1937.9 1752.5,1944.1 1752.9,1940.1 1753.3,1937.6 1753.8,1953.3 1754.2,1940.7 1754.6,1938.9 1755,1943.6 1755.4,1955 1755.9,1938.2 1756.3,1952.5 1756.7,1943.7 1757.1,1949 1757.5,1948.1 1758,1954.2 1758.4,1945.8 1758.8,1959.5 1759.2,1948.9 1759.6,1944.4 1760.1,1952.9 1760.5,1956.5 1760.9,1956.4 1761.3,1958.3 1761.7,1953.1 1762.2,1961.7 1762.6,1959.3 1763,1951 1763.4,1953.9 1763.8,1952.8 1764.3,1955.3 1764.7,1958.1 1765.1,1955.3 1765.5,1957 1765.9,1961.8 1766.4,1962.7 1766.8,1965.9 1767.2,1944.4 1767.6,1956.7 1768,1956.8 1768.5,1958 1768.9,1956.6 1769.3,1956.9 1769.7,1965.1 1770.1,1968.1 1770.6,1957.3 1771,1966.2 1771.4,1952.8 1771.8,1966 1772.2,1971.7 1772.7,1968.6 1773.1,1960.7 1773.5,1960.8 1773.9,1963.7 1774.3,1971.4 1774.8,1967.5 1775.2,1967.1 1775.6,1968.8 1776,1961.7 1776.4,1957 1776.9,1964.5 1777.3,1965.2 1777.7,1969.1 1778.1,1968.3 1778.5,1983 1779,1966.5 1779.4,1966.2 1779.8,1975.5 1780.2,1969.5 1780.6,1978.4 1781.1,1978.5 1781.5,1973.9 1781.9,1973.7 1782.3,1963.3 1782.7,1976.6 1783.2,1971.7 1783.6,1973.8 1784,1975.5 1784.4,1971.8 1784.8,1967 1785.3,1969.1 1785.7,1967 1786.1,1975.8 1786.5,1971.5 1786.9,1972 1787.4,1969.5 1787.8,1971.1 1788.2,1966.4 1788.6,1972.2 1789,1966.7 1789.5,1972.9 1789.9,1970.5 1790.3,1973.6 1790.7,1976.5 1791.1,1973.7 1791.6,1972.3 1792,1975.5 1792.4,1969.2 1792.8,1971.5 1793.2,1973.5 1793.7,1965.3 1794.1,1968.6 1794.5,1981.1 1794.9,1972.7 1795.3,1972.6 1795.8,1974.4 1796.2,1970.9 1796.6,1969.8 1797,1970.4 1797.4,1976.5 1797.9,1979.1 1798.3,1969.3 1798.7,1971.2 1799.1,1973.8 1799.5,1966.6 1800,1972.1 1800.4,1976.6 1800.8,1976.9 1801.2,1982.8 1801.6,1970.4 1802.1,1971.9 1802.5,1975.9 1802.9,1973.3 1803.3,1977.1 1803.7,1972 1804.2,1964.1 1804.6,1968.2 1805,1964.2 1805.4,1972.6 1805.8,1977.6 1806.3,1974.4 1806.7,1969.6 1807.1,1962.7 1807.5,1971.7 1807.9,1968.6 1808.4,1968.8 1808.8,1971.7 1809.2,1982.3 1809.6,1969.7 1810,1968.2 1810.5,1965 1810.9,1975.7 1811.3,1967.2 1811.7,1962.9 1812.1,1969.2 1812.6,1972.7 1813,1965.7 1813.4,1971 1813.8,1963.7 1814.2,1976.8 1814.7,1965.8 1815.1,1970.9 1815.5,1966.8 1815.9,1968.7 1816.3,1972.6 1816.8,1968.5 1817.2,1970.7 1817.6,1976.6 1818,1982.9 1818.4,1975 1818.9,1971.3 1819.3,1972.2 1819.7,1965.5 1820.1,1966.2 1820.5,1966.1 1821,1973.1 1821.4,1970.6 1821.8,1969.5 1822.2,1981.9 1822.6,1971 1823.1,1974.9 1823.5,1973.2 1823.9,1971.2 1824.3,1973.3 1824.7,1964.1 1825.2,1971.5 1825.6,1975.7 1826,1978.6 1826.4,1970 1826.8,1977.4 1827.3,1974.8 1827.7,1969.3 1828.1,1963.7 1828.5,1972.4 1828.9,1968 1829.4,1976.3 1829.8,1972.7 1830.2,1964.2 1830.6,1968.8 1831,1972.6 1831.5,1976.8 1831.9,1959.2 1832.3,1973.1 1832.7,1964.8 1833.1,1969.7 1833.6,1966.7 1834,1975 1834.4,1972.2 1834.8,1978.8 1835.2,1976.6 1835.7,1967.3 1836.1,1960.5 1836.5,1969.5 1836.9,1968 1837.3,1971 1837.8,1967.1 1838.2,1967.5 1838.6,1973.9 1839,1971.6 1839.4,1967.2 1839.9,1972.3 1840.3,1966.3 1840.7,1970.4" fill="none" stroke="#000" stroke-width="6" stroke-linejoin="round" stroke-linecap="square"/>
<polyline points="176.4,2470 177.5,2372.1 177.9,2363.4 178.3,2358.3 178.8,2367.1 179.2,2363.9 179.6,2376.7 180,2365.4 180.4,2362.2 180.9,2358.9 181.3,2352.5 181.7,2360.8 182.1,2366 182.5,2360.2 183,2368.6 183.4,2371 183.8,2369.7 184.2,2361.6 184.6,2360.8 185.1,2370.4 185.5,2361.5 185.9,2361.6 186.3,2362 186.7,2373.2 187.2,2354 187.6,2371.8 188,2370.5 188.4,2374.6 188.8,2367.8 189.3,2378.4 189.7,2369.6 190.1,2359.7 190.5,2356.4 190.9,2365.1 191.4,2367.6 191.8,2366.6 192.2,2370.7 192.6,2371.5 193,2350 193.5,2364.4 193.9,2364.4 194.3,2368 194.7,2359.6 195.1,2371.3 195.6,2364.7 196,2372.2 196.4,2360.4 196.8,2363.4 197.2,2356.2 197.7,2358.4 198.1,2362.2 198.5,2360.7 198.9,2365.8 199.3,2366.5 199.8,2363.8 200.2,2363.9 200.6,2357 201,2361.1 201.4,2362.2 201.9,2359.2 202.3,2368.1 202.7,2366.8 203.1,2358.5 203.5,2360.6 204,2362.8 204.4,2363.7 204.8,2372 205.2,2361.8 205.6,2359.3 206.1,2365 206.5,2366.6 206.9,2370 207.3,2356.8 207.7,2361 208.2,2363.8 208.6,2363.5 209,2353.2 209.4,2364.7 209.8,2371 210.3,2365.9 210.7,2361.3 211.1,2355.9 211.5,2356.2 211.9,2361.8 212.4,2357.4 212.8,2357.4 213.2,2352 213.6,2364.4 214,2366.8 214.5,2361.2 214.9,2365.2 215.3,2362.3 215.7,2371.3 216.1,2360.9 216.6,2361.3 217,2354.2 217.4,2361 217.8,2358.8 218.2,2358.2 218.7,2370.1 219.1,2365.7 219.5,2367.1 219.9,2362.9 220.3,2355.4 220.8,2361.1 221.2,2367 221.6,2355.7 222,2359.7 222.4,2360.6 222.9,2366.8 223.3,2360.8 223.7,2365 224.1,2364.4 224.5,2358.8 225,2361.6 225.4,2352.8 225.8,2357.4 226.2,2363.6 226.6,2362.7 227.1,2362.4 227.5,2360.5 227.9,2365.2 228.3,2364 228.7,2360.6 229.2,2350.5 229.6,2378.3 230,2373.9 230.4,2355 230.8,2369.1 231.3,2358.4 231.7,2367.1 232.1,2354.7 232.5,2359.6 232.9,2356.9 233.4,2364.1 233.8,2365.1 234.2,2360.2 234.6,2345.6 235,2359.9 235.5,2352.8 235.9,2368.7 236.3,2356.1 236.7,2346.1 237.1,2358.2 237.6,2350.9 238,2361.6 238.4,2351.2 238.8,2361.2 239.2,2348.7 239.7,2365.7 240.1,2358.2 240.5,2362.8 240.9,2356.9 241.3,2370.7 241.8,2356.9 242.2,2362.1 242.6,2357.3 243,2365.4 243.4,2349 243.9,2348.1 244.3,2360.8 244.7,2353 245.1,2351.4 245.5,2360.2 246,2357.2 246.4,2342 246.8,2357.8 247.2,2353.7 247.6,2350.5 248.1,2361.5 248.5,2360.4 248.9,2365.3 249.3,2353.5 249.7,2350.9 250.2,2372.5 250.6,2361.9 251,2360.9 251.4,2351 251.8,2353.6 252.3,2361.2 252.7,2337.8 253.1,2348.2 253.5,2357.9 253.9,2344.3 254.4,2360.3 254.8,2354.5 255.2,2345.2 255.6,2355.6 256,2355.8 256.5,2355.1 256.9,2359.2 257.3,2345.7 257.7,2352.1 258.1,2358.5 258.6,2357 259,2356.8 259.4,2372.9 259.8,2352.7 260.2,2351.6 260.7,2359.2 261.1,2354 261.5,2361 261.9,2354.2 262.3,2366.2 262.8,2351.2 263.2,2353.8 263.6,2360.9 264,2355.8 264.4,2361.1 264.9,2360.3 265.3,2361 265.7,2347.8 266.1,2361.2 266.5,2356.1 267,2357.8 267.4,2350.5 267.8,2359 268.2,2361.1 268.6,2358.3 269.1,2359.2 269.5,2357.1 269.9,2354.9 270.3,2359.2 270.7,2355.1 271.2,2355.4 271.6,2359.1 272,2362.3 272.4,2367 272.8,2363.3 273.3,2356.9 273.7,2351.5 274.1,2358.4 274.5,2350.2 274.9,2350.2 275.4,2344.6 275.8,2364.1 276.2,2363.5 276.6,2349.8 277,2357.2 277.5,2358.7 277.9,2366 278.3,2365.4 278.7,2351.1 279.1,2358.6 279.6,2346.9 280,2355.9 280.4,2356.9 280.8,2354.8 281.2,2349.6 281.7,2354.5 282.1,2369.8 282.5,2352.7 282.9,2356.7 283.3,2362.5 283.8,2361.8 284.2,2354.4 284.6,2365.7 285,2365.6 285.4,2358.1 285.9,2358.7 286.3,2356.2 286.7,2360.3 287.1,2358.7 287.5,2364 288,2346.6 288.4,2362.7 288.8,2356.2 289.2,2365.9 289.6,2364.3 290.1,2356.1 290.5,2356.9 290.9,2354.1 291.3,2350.8 291.7,2355.8 292.2,2361.9 292.6,2355.5 293,2348.9 293.4,2356.8 293.8,2350.3 294.3,2357.2 294.7,2361 295.1,2362.7 295.5,2363.9 295.9,2351.8 296.4,2341 296.8,2356.6 297.2,2355.4 297.6,2361.4 298,2361 298.5,2355.1 298.9,2357.2 299.3,2362.2 299.7,2352.7 300.1,2343.5 300.6,2358.9 301,2357.7 301.4,2353.6 301.8,2364.7 302.2,2356 302.7,2352.3 303.1,2358.3 303.5,2367.6 303.9,2350.1 304.3,2362 304.8,2349 305.2,2361.2 305.6,2353.9 306,2354.3 306.4,2361.1 306.9,2372.3 307.3,2346 307.7,2355.4 308.1,2351.8 308.5,2364.1 309,2357.3 309.4,2351.4 309.8,2362.1 310.2,2360.9 310.6,2356.1 311.1,2361.9 311.5,2359 311.9,2362.7 312.3,2350.2 312.7,2360.8 313.2,2362.6 313.6,2351.5 314,2378.7 314.4,2366.4 314.8,2358.6 315.3,2353.5 315.7,2355.5 316.1,2356.8 316.5,2359.8 316.9,2348.8 317.4,2350 317.8,2365 318.2,2348.7 318.6,2369.3 319,2356 319.5,2347.9 319.9,2351.4 320.3,2367.2 320.7,2358.2 321.1,2350.4 321.6,2364.6 322,2359.9 322.4,2352.8 322.8,2349.8 323.2,2347.1 323.7,2356.9 324.1,2359.8 324.5,2365.9 324.9,2366.2 325.3,2362.8 325.8,2347.5 326.2,2353 326.6,2359.8 327,2355 327.4,2357.2 327.9,2353.8 328.3,2356.5 328.7,2362.7 329.1,2359.6 329.5,2347.5 330,2353.5 330.4,2349.1 330.8,2346.1 331.2,2362.2 331.6,2355.9 332.1,2371.2 332.5,2360.2 332.9,2359.2 333.3,2352.8 333.7,2351.4 334.2,2360.7 334.6,2352.7 335,2365.6 335.4,2361.9 335.8,2361.9 336.3,2357 336.7,2350 337.1,2363.3 337.5,2352.1 337.9,2355.7 338.4,2360.6 338.8,2353.4 339.2,2352.8 339.6,2347.2 340,2362.2 340.5,2366.2 340.9,2350.1 341.3,2362.7 341.7,2367.5 342.1,2366.6 342.6,2362 343,2351.3 343.4,2346.4 343.8,2351.1 344.2,2358.6 344.7,2364.2 345.1,2363.6 345.5,2354.7 345.9,2358.2 346.3,2352.8 346.8,2344.1 347.2,2351.2 347.6,2362 348,2360.2 348.4,2356 348.9,2355.4 349.3,2369.8 349.7,2358.1 350.1,2353.3 350.5,2346.2 351,2351 351.4,2357.5 351.8,2351.6 352.2,2357.9 352.6,2351.7 353.1,2371.9 353.5,2352.1 353.9,2360.4 354.3,2350 354.7,2356.5 355.2,2360.1 355.6,2355.9 356,2343.7 356.4,2363.6 356.8,2358.7 357.3,2348.4 357.7,2351.2 358.1,2358 358.5,2348.8 358.9,2357.8 359.4,2345.7 359.8,2354.4 360.2,2358.7 360.6,2350.9 361,2354.4 361.5,2355.9 361.9,2362.6 362.3,2361.1 362.7,2354.9 363.1,2355.2 363.6,2351 364,2350.9 364.4,2350.4 364.8,2349.7 365.2,2358.6 365.7,2351.5 366.1,2347.7 366.5,2347.8 366.9,2352.3 367.3,2355.9 367.8,2349.4 368.2,2346.6 368.6,2354.3 369,2359.1 369.4,2346.7 369.9,2350.5 370.3,2341.3 370.7,2368.6 371.1,2346.8 371.5,2345.9 372,2355.1 372.4,2351.5 372.8,2358.6 373.2,2348.6 373.6,2354.7 374.1,2355.4 374.5,2357.6 374.9,2366.1 375.3,2354.3 375.7,2349.4 376.2,2357.6 376.6,2350.5 377,2360.9 377.4,2357 377.8,2356.2 378.3,2345.8 378.7,2346.1 379.1,2352.1 379.5,2355.7 379.9,2343.2 380.4,2353.2 380.8,2357.8 381.2,2352.8 381.6,2362.6 382,2358.5 382.5,2366.9 382.9,2353 383.3,2360.3 383.7,2340.7 384.1,2352.8 384.6,2363.9 385,2355.7 385.4,2355.2 385.8,2351 386.2,2369.2 386.7,2366.8 387.1,2358.9 387.5,2361.4 387.9,2359.4 388.3,2351 388.8,2361.9 389.2,2356.6 389.6,2355.3 390,2367 390.4,2360.7 390.9,2354.4 391.3,2364.2 391.7,2360.8 392.1,2363.3 392.5,2360.7 393,2363.5 393.4,2363.5 393.8,2356.4 394.2,2375 394.6,2363.8 395.1,2347.2 395.5,2368.7 395.9,2353.7 396.3,2365.2 396.7,2372.5 397.2,2361.3 397.6,2362.6 398,2370.6 398.4,2367.3 398.8,2367 399.3,2362.8 399.7,2364.2 400.1,2352.5 400.5,2361.6 400.9,2363.4 401.4,2368.1 401.8,2367.4 402.2,2356.5 402.6,2359.8 403,2351 403.5,2363.6 403.9,2373.7 404.3,2365.7 404.7,2360 405.1,2365.5 405.6,2363.7 406,2357.3 406.4,2359.4 406.8,2363.7 407.2,2369.9 407.7,2361.5 408.1,2361 408.5,2356.7 408.9,2364.9 409.3,2358.7 409.8,2376.2 410.2,2365.9 410.6,2346.8 411,2373.9 411.4,2367.3 411.9,2365.3 412.3,2366.7 412.7,2362 413.1,2360.3 413.5,2361.4 414,2365 414.4,2368.4 414.8,2377.8 415.2,2368.5 415.6,2371.3 416.1,2372.3 416.5,2361.8 416.9,2360.7 417.3,2361.5 417.7,2376.1 418.2,2358.6 418.6,2370.4 419,2362.1 419.4,2382.6 419.8,2359.1 420.3,2359.9 420.7,2364.4 421.1,2360.7 421.5,2372.1 421.9,2373.2 422.4,2373.5 422.8,2380.4 423.2,2362.3 423.6,2369 424,2365.8 424.5,2363.8 424.9,2370.3 425.3,2381.4 425.7,2362.9 426.1,2381.7 426.6,2370.5 427,2365.9 427.4,2361.7 427.8,2373.9 428.2,2369.8 428.7,2368 429.1,2365.3 429.5,2368.1 429.9,2366.8 430.3,2369.9 430.8,2358 431.2,2370.6 431.6,2375.1 432,2374.1 432.4,2361.2 432.9,2369.9 433.3,2371.1 433.7,2376.3 434.1,2374.7 434.5,2375.7 435,2368.6 435.4,2373.6 435.8,2368.9 436.2,2367.8 436.6,2360.3 437.1,2371.6 437.5,2368.4 437.9,2360.3 438.3,2377.6 438.7,2367.3 439.2,2372 439.6,2371.7 440,2368.6 440.4,2370.9 440.8,2375.2 441.3,2365 441.7,2361.7 442.1,2375.9 442.5,2372.9 442.9,2365.3 443.4,2376.1 443.8,2362.6 444.2,2370.4 444.6,2371.8 445,2369.9 445.5,2372.5 445.9,2366.8 446.3,2360 446.7,2366.2 447.1,2373.2 447.6,2370 448,2369.5 448.4,2367.8 448.8,2376.2 449.2,2366.6 449.7,2371.3 450.1,2371.3 450.5,2364 450.9,2374.4 451.3,2372.2 451.8,2373 452.2,2361.4 452.6,2376.5 453,2367 453.4,2369.1 453.9,2371.7 454.3,2374.5 454.7,2365.9 455.1,2371 455.5,2369.2 456,2368.8 456.4,2368.8 456.8,2363.2 457.2,2368.5 457.6,2375.9 458.1,2362.8 458.5,2359.1 458.9,2377 459.3,2360.4 459.7,2366.5 460.2,2364.7 460.6,2369.8 461,2366.1 461.4,2371 461.8,2365.4 462.3,2361.6 462.7,2382.4 463.1,2368.7 463.5,2371.1 463.9,2360.6 464.4,2363.7 464.8,2365.1 465.2,2373.8 465.6,2363 466,2370.8 466.5,2366 466.9,2363.8 467.3,2372.1 467.7,2369.5 468.1,2361.6 468.6,2371.6 469,2360 469.4,2370.6 469.8,2367 470.2,2380.9 470.7,2370.6 471.1,2380.2 471.5,2371 471.9,2365.1 472.3,2371.7 472.8,2358.6 473.2,2360.1 473.6,2366.6 474,2376.3 474.4,2372.7 474.9,2359 475.3,2354.8 475.7,2368.8 476.1,2357.6 476.5,2360.2 477,2363 477.4,2360.9 477.8,2361.7 478.2,2365.3 478.6,2372.4 479.1,2362.7 479.5,2366.8 479.9,2369.2 480.3,2369.5 480.7,2366 481.2,2362 481.6,2366 482,2357.7 482.4,2365.9 482.8,2373.9 483.3,2369.9 483.7,2348.5 484.1,2369.7 484.5,2369.7 484.9,2364.3 485.4,2370.4 485.8,2370.3 486.2,2365.4 486.6,2364.8 487,2359.3 487.5,2372.4 487.9,2353 488.3,2368.4 488.7,2364 489.1,2366.5 489.6,2363.6 490,2365.7 490.4,2360.8 490.8,2360.5 491.2,2375.9 491.7,2364 492.1,2374.1 492.5,2370.5 492.9,2367.1 493.3,2367.7 493.8,2365.6 494.2,2371.5 494.6,2365.1 495,2363.4 495.4,2369.6 495.9,2365.5 496.3,2368.5 496.7,2361.4 497.1,2364.7 497.5,2370.4 498,2370.1 498.4,2357.6 498.8,2363.1 499.2,2357 499.6,2367.7 500.1,2356.9 500.5,2351.3 500.9,2354.7 501.3,2354 501.7,2374.9 502.2,2356.6 502.6,2364.1 503,2354.6 503.4,2361 503.8,2365.6 504.3,2363.2 504.7,2365.3 505.1,2362.4 505.5,2354.8 505.9,2358.6 506.4,2356 506.8,2351.6 507.2,2367.3 507.6,2347.8 508,2345.5 508.5,2349.7 508.9,2359.4 509.3,2349.8 509.7,2353.5 510.1,2347.2 510.6,2358.8 511,2353.1 511.4,2351.3 511.8,2359.3 512.2,2345.1 512.7,2359 513.1,2355 513.5,2341.9 513.9,2348.1 514.3,2352 514.8,2342 515.2,2343.1 515.6,2356.9 516,2365 516.4,2357.8 516.9,2351.1 517.3,2347.9 517.7,2340.7 518.1,2351.5 518.5,2343.2 519,2346.5 519.4,2346.8 519.8,2351.1 520.2,2349 520.6,2331.6 521.1,2341.3 521.5,2350.9 521.9,2352.7 522.3,2349.3 522.7,2350.5 523.2,2337 523.6,2343.4 524,2344.1 524.4,2349.2 524.8,2343.8 525.3,2339.6 525.7,2348.7 526.1,2342.8 526.5,2346.1 526.9,2331.7 527.4,2342.6 527.8,2345.1 528.2,2350.6 528.6,2341.8 529,2330.9 529.5,2332.7 529.9,2347.7 530.3,2346.8 530.7,2338.9 531.1,2334.5 531.6,2346.6 532,2336.2 532.4,2338.9 532.8,2329.6 533.2,2322.1 533.7,2340 534.1,2350.1 534.5,2336.2 534.9,2330.1 535.3,2346.3 535.8,2331.2 536.2,2323.8 536.6,2333.9 537,2339 537.4,2331.4 537.9,2336.6 538.3,2336.5 538.7,2336.6 539.1,2345.8 539.5,2337.1 540,2339.4 540.4,2344.2 540.8,2333.4 541.2,2341 541.6,2331.4 542.1,2335.4 542.5,2334.4 542.9,2341.2 543.3,2340.4 543.7,2329.9 544.2,2327.9 544.6,2326.8 545,2327.7 545.4,2329.5 545.8,2333.2 546.3,2327.9 546.7,2345.2 547.1,2341.2 547.5,2346.5 547.9,2336.1 548.4,2337.2 548.8,2331.2 549.2,2340.2 549.6,2335.9 550,2331.5 550.5,2334.6 550.9,2344 551.3,2342.3 551.7,2331.6 552.1,2318.5 552.6,2312.2 553,2330.3 553.4,2330 553.8,2329.9 554.2,2332.5 554.7,2333.2 555.1,2324.3 555.5,2325.3 555.9,2339.5 556.3,2343.4 556.8,2329.7 557.2,2329.4 557.6,2333.8 558,2330.3 558.4,2328.2 558.9,2327.4 559.3,2336.9 559.7,2322.3 560.1,2330.2 560.5,2318.8 561,2329.8 561.4,2328 561.8,2324.9 562.2,2327.6 562.6,2313.5 563.1,2319.4 563.5,2321.4 563.9,2324.7 564.3,2323.5 564.7,2318.7 565.2,2323.6 565.6,2325.2 566,2339.2 566.4,2323.4 566.8,2324.2 567.3,2323.7 567.7,2319.3 568.1,2318.1 568.5,2325.8 568.9,2318.6 569.4,2316.8 569.8,2319.6 570.2,2330.1 570.6,2311.3 571,2316.2 571.5,2320.4 571.9,2322.1 572.3,2329 572.7,2330.9 573.1,2313 573.6,2322 574,2329.6 574.4,2324.1 574.8,2310.2 575.2,2311.5 575.7,2315.8 576.1,2320.6 576.5,2307.6 576.9,2319.9 577.3,2309.4 577.8,2317.7 578.2,2318 578.6,2315.9 579,2319.3 579.4,2311.9 579.9,2312.9 580.3,2320.1 580.7,2306.9 581.1,2306.2 581.5,2300.4 582,2321.3 582.4,2304 582.8,2315.2 583.2,2309 583.6,2311.1 584.1,2304.9 584.5,2306.2 584.9,2313.5 585.3,2307 585.7,2298.8 586.2,2304.2 586.6,2295.3 587,2307.9 587.4,2309.9 587.8,2304.8 588.3,2313.3 588.7,2313.1 589.1,2300.6 589.5,2308.7 589.9,2298.9 590.4,2301.3 590.8,2298 591.2,2299.7 591.6,2290.1 592,2296.7 592.5,2288.4 592.9,2307.7 593.3,2292.5 593.7,2295 594.1,2283.9 594.6,2289.3 595,2297.3 595.4,2278.2 595.8,2294.6 596.2,2288.2 596.7,2306.2 597.1,2295.2 597.5,2296.1 597.9,2291.3 598.3,2295.8 598.8,2279.3 599.2,2299.1 599.6,2291.9 600,2274 600.4,2287.5 600.9,2284.2 601.3,2294.1 601.7,2280.6 602.1,2282.2 602.5,2284.3 603,2278.9 603.4,2291.9 603.8,2282.1 604.2,2273 604.6,2278.6 605.1,2274.6 605.5,2287.7 605.9,2266.2 606.3,2259.9 606.7,2288.1 607.2,2271.3 607.6,2279 608,2269.4 608.4,2264.6 608.8,2271.2 609.3,2266.6 609.7,2260 610.1,2249.2 610.5,2264.8 610.9,2271.8 611.4,2269 611.8,2248.4 612.2,2268.6 612.6,2246.1 613,2251.8 613.5,2255.1 613.9,2254 614.3,2246.1 614.7,2249 615.1,2251.5 615.6,2250.5 616,2254.2 616.4,2255.1 616.8,2248.2 617.2,2240.8 617.7,2251.6 618.1,2245 618.5,2238.3 618.9,2225.1 619.3,2244.9 619.8,2248.3 620.2,2250.9 620.6,2234.4 621,2241.1 621.4,2227.5 621.9,2242.2 622.3,2242.5 622.7,2233.5 623.1,2243.9 623.5,2247.4 624,2247.5 624.4,2231.8 624.8,2239 625.2,2246.8 625.6,2236.8 626.1,2235 626.5,2235.7 626.9,2244.6 627.3,2235.5 627.7,2222.1 628.2,2242.2 628.6,2259.4 629,2240.3 629.4,2247.5 629.8,2238.9 630.3,2234.4 630.7,2227.8 631.1,2239.8 631.5,2235.5 631.9,2242.5 632.4,2236.2 632.8,2239.9 633.2,2217.9 633.6,2236.5 634,2238.3 634.5,2235.3 634.9,2242.9 635.3,2230.7 635.7,2235.8 636.1,2213.7 636.6,2234.8 637,2233.6 637.4,2219.2 637.8,2207.3 638.2,2215.8 638.7,2222.1 639.1,2234.4 639.5,2210 639.9,2221.8 640.3,2221.8 640.8,2219.7 641.2,2207.9 641.6,2217.4 642,2198.8 642.4,2192.3 642.9,2206 643.3,2197.6 643.7,2184 644.1,2212.5 644.5,2206.1 645,2202.7 645.4,2187.5 645.8,2187 646.2,2176.6 646.6,2187.1 647.1,2181.9 647.5,2180.7 647.9,2190.6 648.3,2169.9 648.7,2169.4 649.2,2154.4 649.6,2178.5 650,2172.5 650.4,2137.2 650.8,2133.9 651.3,2165.6 651.7,2164.1 652.1,2149.1 652.5,2152.9 652.9,2125.3 653.4,2137.4 653.8,2144.9 654.2,2136.2 654.6,2130.2 655,2139.5 655.5,2135 655.9,2163.1 656.3,2144.2 656.7,2143.7 657.1,2134.9 657.6,2169 658,2157.6 658.4,2168.5 658.8,2166.6 659.2,2174 659.7,2175.1 660.1,2171.9 660.5,2182.6 660.9,2171 661.3,2179.8 661.8,2179.1 662.2,2180.9 662.6,2163.1 663,2189.7 663.4,2167.4 663.9,2151.7 664.3,2143.8 664.7,2155.7 665.1,2149.1 665.5,2150.3 666,2123.6 666.4,2131.5 666.8,2129.8 667.2,2128.7 667.6,2096.1 668.1,2101.2 668.5,2093.1 668.9,2093.1 669.3,2084.6 669.7,2081.7 670.2,2064.8 670.6,2072.1 671,2046 671.4,2056.1 671.8,2074.4 672.3,2037.6 672.7,2063.3 673.1,2054.7 673.5,2032.1 673.9,2039 674.4,2037.5 674.8,2018.3 675.2,2004.7 675.6,2023.6 676,2012.9 676.5,2035.3 676.9,2014.6 677.3,2059.7 677.7,2068.1 678.1,2040.6 678.6,2033.1 679,2063.6 679.4,2061 679.8,2072.7 680.2,2065.9 680.7,2076 681.1,2104.8 681.5,2094.8 681.9,2095.9 682.3,2127.4 682.8,2134.5 683.2,2131.9 683.6,2131 684,2162.4 684.4,2149.3 684.9,2164.5 685.3,2151.3 685.7,2156.3 686.1,2176 686.5,2192.7 687,2174.3 687.4,2182.8 687.8,2188.7 688.2,2208.7 688.6,2200.3 689.1,2208.1 689.5,2216.7 689.9,2219.1 690.3,2231 690.7,2209.5 691.2,2226.8 691.6,2230.7 692,2220.4 692.4,2234.5 692.8,2237.9 693.3,2234.5 693.7,2233.6 694.1,2250.5 694.5,2243.4 694.9,2241.6 695.4,2245.3 695.8,2240 696.2,2246.8 696.6,2249.7 697,2239.5 697.5,2246.5 697.9,2247.3 698.3,2249.7 698.7,2245.7 699.1,2249.4 699.6,2246.2 700,2243.2 700.4,2246.4 700.8,2238.1 701.2,2256 701.7,2254.1 702.1,2244.3 702.5,2243.8 702.9,2244.3 703.3,2241.6 703.8,2242 704.2,2255.2 704.6,2248.4 705,2257.8 705.4,2254.5 705.9,2253.6 706.3,2239.4 706.7,2263.9 707.1,2247.9 707.5,2230.4 708,2246.5 708.4,2245.2 708.8,2252.3 709.2,2238.9 709.6,2248 710.1,2243.3 710.5,2255.7 710.9,2242.9 711.3,2248.9 711.7,2252.5 712.2,2237.1 712.6,2245.7 713,2242.6 713.4,2254.8 713.8,2245.6 714.3,2233.4 714.7,2253.4 715.1,2232.2 715.5,2234.7 715.9,2234.4 716.4,2236.6 716.8,2224.3 717.2,2226.2 717.6,2223.1 718,2226.1 718.5,2215.7 718.9,2217.2 719.3,2207.2 719.7,2232.2 720.1,2220.2 720.6,2224.7 721,2206 721.4,2195.1 721.8,2194.3 722.2,2195.6 722.7,2209.1 723.1,2199.2 723.5,2195.9 723.9,2187.7 724.3,2211.6 724.8,2182.9 725.2,2191.2 725.6,2188.9 726,2188.5 726.4,2186.7 726.9,2189.9 727.3,2209 727.7,2193.8 728.1,2184.8 728.5,2170.8 729,2192.4 729.4,2191.4 729.8,2170.1 730.2,2178.8 730.6,2150.7 731.1,2161.1 731.5,2179.4 731.9,2151.7 732.3,2172.4 732.7,2175.6 733.2,2150.7 733.6,2162 734,2176.4 734.4,2184.3 734.8,2162.1 735.3,2175.4 735.7,2153.4 736.1,2155 736.5,2165.6 736.9,2168.9 737.4,2164 737.8,2173.5 738.2,2171.3 738.6,2176.6 739,2172.2 739.5,2166.3 739.9,2168.1 740.3,2166.7 740.7,2169.8 741.1,2179.6 741.6,2179.6 742,2183.7 742.4,2180.5 742.8,2181.1 743.2,2166.2 743.7,2171.6 744.1,2171.8 744.5,2170.5 744.9,2156.2 745.3,2186.6 745.8,2171.9 746.2,2176.3 746.6,2178.1 747,2200.4 747.4,2191.5 747.9,2202.5 748.3,2190.1 748.7,2198.5 749.1,2199.7 749.5,2192.2 750,2195.7 750.4,2180 750.8,2186.5 751.2,2197.6 751.6,2176.9 752.1,2200.4 752.5,2200.5 752.9,2193.8 753.3,2207.5 753.7,2205.7 754.2,2212.4 754.6,2205.1 755,2209.8 755.4,2208.3 755.8,2194.9 756.3,2207.9 756.7,2208.6 757.1,2212.6 757.5,2214.1 757.9,2223 758.4,2217.8 758.8,2214.5 759.2,2227.8 759.6,2207.6 760,2215.4 760.5,2239.5 760.9,2219 761.3,2235.1 761.7,2225.1 762.1,2240.4 762.6,2238.4 763,2244.2 763.4,2240.2 763.8,2245.5 764.2,2228.1 764.7,2248.3 765.1,2232 765.5,2242.5 765.9,2234.3 766.3,2245.1 766.8,2239.3 767.2,2237.6 767.6,2240.9 768,2235.6 768.4,2236 768.9,2247.7 769.3,2240.7 769.7,2236.9 770.1,2232.8 770.5,2245.9 771,2229.5 771.4,2235.4 771.8,2226.4 772.2,2230.5 772.6,2233.5 773.1,2236.7 773.5,2232 773.9,2238.7 774.3,2213.9 774.7,2244.6 775.2,2230.1 775.6,2227.3 776,2214.1 776.4,2227.2 776.8,2210.6 777.3,2214.6 777.7,2214.9 778.1,2216.2 778.5,2214.5 778.9,2201.5 779.4,2197 779.8,2218.3 780.2,2212.7 780.6,2210.1 781,2208.1 781.5,2208 781.9,2186.7 782.3,2202.3 782.7,2209.7 783.1,2201.4 783.6,2206.2 784,2202.7 784.4,2194.4 784.8,2190.5 785.2,2195.1 785.7,2203.9 786.1,2179.9 786.5,2200.4 786.9,2174.3 787.3,2206.7 787.8,2186.3 788.2,2187.3 788.6,2180 789,2190.6 789.4,2173.8 789.9,2190.5 790.3,2195.5 790.7,2174.3 791.1,2164.4 791.5,2176.9 792,2161.1 792.4,2162.3 792.8,2164.1 793.2,2168.7 793.6,2145.6 794.1,2159.2 794.5,2154.9 794.9,2147.3 795.3,2153.9 795.7,2148.6 796.2,2145.2 796.6,2131.8 797,2129.3 797.4,2154.5 797.8,2162.6 798.3,2149.4 798.7,2157.9 799.1,2176.8 799.5,2172 799.9,2150.4 800.4,2173.9 800.8,2167.2 801.2,2176.1 801.6,2174.1 802,2166.8 802.5,2195.4 802.9,2156.5 803.3,2172 803.7,2193.8 804.1,2185 804.6,2191.1 805,2182.4 805.4,2200.6 805.8,2190.1 806.2,2189.2 806.7,2192.3 807.1,2215 807.5,2207.9 807.9,2217.7 808.3,2218.2 808.8,2216.6 809.2,2211.5 809.6,2227.1 810,2233.3 810.4,2222.3 810.9,2230.3 811.3,2231.8 811.7,2225.8 812.1,2248.5 812.5,2254.4 813,2252.7 813.4,2258.8 813.8,2261.7 814.2,2273.2 814.6,2274 815.1,2279 815.5,2270.3 815.9,2283.7 816.3,2283.5 816.7,2278.6 817.2,2292.2 817.6,2277.8 818,2282.4 818.4,2298.9 818.8,2296.4 819.3,2278.4 819.7,2295.1 820.1,2293.7 820.5,2291.2 820.9,2285.2 821.4,2291.6 821.8,2299.4 822.2,2307.5 822.6,2300.9 823,2288.6 823.5,2300.2 823.9,2310.5 824.3,2294.1 824.7,2286.6 825.1,2303.6 825.6,2291.5 826,2296.4 826.4,2298.6 826.8,2294.8 827.2,2296.1 827.7,2300.9 828.1,2301.5 828.5,2298.5 828.9,2301.8 829.3,2298.6 829.8,2291.6 830.2,2309.2 830.6,2298.8 831,2300.1 831.4,2304 831.9,2295.5 832.3,2286.5 832.7,2284 833.1,2293.4 833.5,2303.8 834,2299.1 834.4,2300.5 834.8,2292.8 835.2,2285.9 835.6,2294.3 836.1,2282.8 836.5,2289.7 836.9,2299.6 837.3,2291 837.7,2285.3 838.2,2299.2 838.6,2298.9 839,2296.5 839.4,2282.3 839.8,2300.5 840.3,2293.4 840.7,2299.4 841.1,2303.4 841.5,2299.2 841.9,2305.4 842.4,2301.5 842.8,2293.5 843.2,2292.9 843.6,2311.2 844,2313.6 844.5,2296.3 844.9,2300.9 845.3,2302.5 845.7,2305.4 846.1,2289.2 846.6,2306.5 847,2302.6 847.4,2303.4 847.8,2299.8 848.2,2313 848.7,2301 849.1,2316.8 849.5,2315.7 849.9,2301.3 850.3,2312.3 850.8,2313.1 851.2,2304.5 851.6,2291.8 852,2305.9 852.4,2311.1 852.9,2325.5 853.3,2319.5 853.7,2318 854.1,2314.1 854.5,2319.4 855,2307.9 855.4,2308.9 855.8,2306.3 856.2,2308.2 856.6,2315.8 857.1,2331.4 857.5,2308.6 857.9,2320.8 858.3,2319.6 858.7,2307.3 859.2,2319.4 859.6,2306.5 860,2329.3 860.4,2328 860.8,2317.5 861.3,2320.5 861.7,2320.2 862.1,2319.8 862.5,2329.9 862.9,2317.7 863.4,2323.5 863.8,2318.3 864.2,2334.7 864.6,2328.4 865,2335 865.5,2322.8 865.9,2311.3 866.3,2333.1 866.7,2332 867.1,2335.9 867.6,2330.2 868,2335.3 868.4,2337 868.8,2328 869.2,2317.5 869.7,2336.8 870.1,2334 870.5,2330.4 870.9,2325.5 871.3,2345.5 871.8,2335.6 872.2,2335.9 872.6,2329.4 873,2330.9 873.4,2337.6 873.9,2328 874.3,2344.8 874.7,2334.1 875.1,2345.8 875.5,2338.5 876,2332.6 876.4,2351.1 876.8,2337.7 877.2,2334.8 877.6,2344.3 878.1,2340.8 878.5,2338.2 878.9,2325 879.3,2326.4 879.7,2343.4 880.2,2333.6 880.6,2339.9 881,2330.4 881.4,2337.5 881.8,2323.5 882.3,2333.1 882.7,2343.5 883.1,2334.8 883.5,2330.1 883.9,2331.2 884.4,2331.1 884.8,2342.9 885.2,2330.7 885.6,2331.8 886,2324.7 886.5,2330.9 886.9,2329.3 887.3,2320.4 887.7,2312.6 888.1,2320.9 888.6,2329 889,2315.3 889.4,2315.1 889.8,2323.8 890.2,2312.9 890.7,2298.4 891.1,2321.1 891.5,2307.9 891.9,2301.3 892.3,2300.8 892.8,2303.9 893.2,2293.9 893.6,2307.5 894,2294.5 894.4,2292.3 894.9,2286.1 895.3,2275.7 895.7,2277.2 896.1,2285.1 896.5,2263.9 897,2262.5 897.4,2262.5 897.8,2250.2 898.2,2259.5 898.6,2239.7 899.1,2249.6 899.5,2235.4 899.9,2238 900.3,2235 900.7,2255.8 901.2,2226.4 901.6,2235.8 902,2227 902.4,2213.2 902.8,2222.2 903.3,2208.1 903.7,2187 904.1,2177 904.5,2184.3 904.9,2175.6 905.4,2151.6 905.8,2159.3 906.2,2149.5 906.6,2150.9 907,2134.2 907.5,2136 907.9,2128.8 908.3,2130.1 908.7,2129.5 909.1,2133.7 909.6,2094.3 910,2106 910.4,2089.4 910.8,2081.8 911.2,2070.5 911.7,2077.4 912.1,2078.6 912.5,2070.9 912.9,2071 913.3,2066 913.8,2064.3 914.2,2056 914.6,2055 915,2050.3 915.4,2040.6 915.9,2028.5 916.3,2024 916.7,2041.3 917.1,2024.6 917.5,2041.7 918,2029.4 918.4,2028 918.8,2036 919.2,2043.4 919.6,2063.3 920.1,2045.2 920.5,2048.2 920.9,2060.7 921.3,2070.4 921.7,2063.1 922.2,2062.8 922.6,2077.2 923,2078.8 923.4,2083.7 923.8,2069 924.3,2091.2 924.7,2087.8 925.1,2099.4 925.5,2088.3 925.9,2096.3 926.4,2091.5 926.8,2116.3 927.2,2083.4 927.6,2090.5 928,2094.7 928.5,2076.6 928.9,2103 929.3,2126.6 929.7,2121.4 930.1,2127.6 930.6,2119.4 931,2117.6 931.4,2125 931.8,2117.8 932.2,2117.3 932.7,2146.9 933.1,2139.9 933.5,2155.7 933.9,2133.1 934.3,2148.4 934.8,2135 935.2,2162.9 935.6,2149 936,2137.6 936.4,2136.4 936.9,2155.6 937.3,2133 937.7,2139.9 938.1,2141.8 938.5,2133 939,2156.8 939.4,2161 939.8,2140.9 940.2,2149.3 940.6,2155.9 941.1,2156.8 941.5,2159.8 941.9,2145.5 942.3,2158.9 942.7,2149.2 943.2,2164.2 943.6,2173.3 944,2180.1 944.4,2158.6 944.8,2183.3 945.3,2173.5 945.7,2194.1 946.1,2198 946.5,2200.7 946.9,2211.7 947.4,2210.4 947.8,2206.1 948.2,2214 948.6,2223.7 949,2211.5 949.5,2226.8 949.9,2235.9 950.3,2229 950.7,2251.5 951.1,2255.1 951.6,2255.2 952,2254.8 952.4,2257.4 952.8,2268.6 953.2,2271.6 953.7,2278.9 954.1,2270 954.5,2282.5 954.9,2288.5 955.3,2275.4 955.8,2284.7 956.2,2285.2 956.6,2284.6 957,2293.8 957.4,2286.6 957.9,2293.7 958.3,2292.3 958.7,2295.4 959.1,2289 959.5,2286.8 960,2296.7 960.4,2293.3 960.8,2299.7 961.2,2291.6 961.6,2292.4 962.1,2302.6 962.5,2300.7 962.9,2301 963.3,2309 963.7,2305.9 964.2,2311.2 964.6,2316.4 965,2308.7 965.4,2325.2 965.8,2321.7 966.3,2322.6 966.7,2326.5 967.1,2325.1 967.5,2319.4 967.9,2332.9 968.4,2330.9 968.8,2344.9 969.2,2344.9 969.6,2333.5 970,2339.4 970.5,2344.8 970.9,2341.1 971.3,2338.5 971.7,2338 972.1,2334.4 972.6,2346.5 973,2345.6 973.4,2343.5 973.8,2343.2 974.2,2354.5 974.7,2347.6 975.1,2354 975.5,2339.6 975.9,2343.1 976.3,2345 976.8,2356.1 977.2,2351.8 977.6,2363.8 978,2358.9 978.4,2366 978.9,2360.3 979.3,2369 979.7,2363.6 980.1,2365.9 980.5,2361.5 981,2357.8 981.4,2362.1 981.8,2370.9 982.2,2371.5 982.6,2361.6 983.1,2364.7 983.5,2364.1 983.9,2375.5 984.3,2368 984.7,2367.7 985.2,2376.3 985.6,2370.8 986,2377.3 986.4,2379 986.8,2372 987.3,2366.1 987.7,2374.2 988.1,2387.8 988.5,2370.2 988.9,2383.6 989.4,2373 989.8,2371.4 990.2,2384.9 990.6,2374.7 991,2365.5 991.5,2370 991.9,2372.9 992.3,2374.5 992.7,2384.7 993.1,2383.2 993.6,2378.2 994,2380.8 994.4,2375.9 994.8,2369.6 995.2,2378.9 995.7,2377.7 996.1,2384.1 996.5,2380.9 996.9,2385.6 997.3,2377.3 997.8,2377.6 998.2,2377.2 998.6,2375.2 999,2385.8 999.4,2380.9 999.9,2373.6 1000.3,2376.9 1000.7,2390.5 1001.1,2393 1001.5,2388 1002,2381.2 1002.4,2389.2 1002.8,2380.4 1003.2,2374.3 1003.6,2381.1 1004.1,2374.9 1004.5,2379.7 1004.9,2393.1 1005.3,2383.8 1005.7,2382.1 1006.2,2385.3 1006.6,2378.5 1007,2382.3 1007.4,2375.6 1007.8,2373.5 1008.3,2378.2 1008.7,2374.2 1009.1,2368.4 1009.5,2377.7 1009.9,2374.7 1010.4,2375.2 1010.8,2387.9 1011.2,2383.3 1011.6,2385 1012,2378.4 1012.5,2373.7 1012.9,2374.2 1013.3,2388.6 1013.7,2363.3 1014.1,2375.6 1014.6,2379.3 1015,2369.7 1015.4,2383.4 1015.8,2372.9 1016.2,2377.1 1016.7,2385.5 1017.1,2381.5 1017.5,2375.2 1017.9,2375.5 1018.3,2384 1018.8,2386.2 1019.2,2378.3 1019.6,2364.9 1020,2372.3 1020.4,2380.5 1020.9,2370.2 1021.3,2372.3 1021.7,2368.1 1022.1,2370.7 1022.5,2378.1 1023,2376 1023.4,2365.5 1023.8,2378.2 1024.2,2362.4 1024.6,2375.4 1025.1,2374.6 1025.5,2361.6 1025.9,2358 1026.3,2373.9 1026.7,2371.5 1027.2,2368.6 1027.6,2362.6 1028,2369 1028.4,2358 1028.8,2370.9 1029.3,2379.5 1029.7,2365.2 1030.1,2372.3 1030.5,2361.5 1030.9,2368.5 1031.4,2365.7 1031.8,2369.7 1032.2,2365.7 1032.6,2358 1033,2374.2 1033.5,2361.9 1033.9,2375.2 1034.3,2362.5 1034.7,2374.3 1035.1,2372.4 1035.6,2367.8 1036,2376.6 1036.4,2373 1036.8,2381 1037.2,2376.2 1037.7,2379.8 1038.1,2361.9 1038.5,2381.7 1038.9,2373.3 1039.3,2374 1039.8,2368.6 1040.2,2372.5 1040.6,2375.6 1041,2378.3 1041.4,2378.8 1041.9,2376.9 1042.3,2380.4 1042.7,2384.8 1043.1,2377.7 1043.5,2377.1 1044,2386.8 1044.4,2383.4 1044.8,2375.9 1045.2,2384.8 1045.6,2383.4 1046.1,2393 1046.5,2385.9 1046.9,2385.4 1047.3,2380.6 1047.7,2375.8 1048.2,2380.4 1048.6,2379.4 1049,2379.2 1049.4,2387 1049.8,2375 1050.3,2390.1 1050.7,2375.1 1051.1,2372.7 1051.5,2385.6 1051.9,2379 1052.4,2376.3 1052.8,2382.4 1053.2,2377.4 1053.6,2380.7 1054,2377.8 1054.5,2380.6 1054.9,2375.1 1055.3,2383.4 1055.7,2377.1 1056.1,2379.9 1056.6,2367.2 1057,2381.8 1057.4,2375.8 1057.8,2377.7 1058.2,2376.8 1058.7,2375.4 1059.1,2373 1059.5,2383.5 1059.9,2375.6 1060.3,2377 1060.8,2376.1 1061.2,2373.8 1061.6,2383.8 1062,2373.9 1062.4,2379.5 1062.9,2373 1063.3,2369.3 1063.7,2369.1 1064.1,2379.9 1064.5,2366.2 1065,2367.5 1065.4,2373.4 1065.8,2380 1066.2,2372.7 1066.6,2382.6 1067.1,2375.6 1067.5,2375.2 1067.9,2385 1068.3,2379.2 1068.7,2374 1069.2,2373.3 1069.6,2380.8 1070,2383.9 1070.4,2374.6 1070.8,2375.3 1071.3,2382.1 1071.7,2372.2 1072.1,2378.4 1072.5,2377.4 1072.9,2375.1 1073.4,2370.8 1073.8,2362.8 1074.2,2374.7 1074.6,2368.8 1075,2377 1075.5,2372.5 1075.9,2373.1 1076.3,2383.4 1076.7,2379.1 1077.1,2369.9 1077.6,2379.9 1078,2373 1078.4,2367.8 1078.8,2375.7 1079.2,2374.9 1079.7,2380.2 1080.1,2380.4 1080.5,2380.7 1080.9,2370.7 1081.3,2374.1 1081.8,2364.5 1082.2,2375.9 1082.6,2372.9 1083,2361.9 1083.4,2377.3 1083.9,2376.2 1084.3,2364.6 1084.7,2360.9 1085.1,2371.1 1085.5,2374.2 1086,2372.1 1086.4,2380.4 1086.8,2385.3 1087.2,2372.6 1087.6,2370.6 1088.1,2369 1088.5,2382.9 1088.9,2371.2 1089.3,2374.7 1089.7,2375.5 1090.2,2376 1090.6,2372.3 1091,2380.2 1091.4,2372.5 1091.8,2370 1092.3,2362.4 1092.7,2366.1 1093.1,2367.4 1093.5,2373.3 1093.9,2363.6 1094.4,2367.8 1094.8,2364.8 1095.2,2349.9 1095.6,2366.4 1096,2374 1096.5,2354.8 1096.9,2368.9 1097.3,2353.8 1097.7,2357.2 1098.1,2357.7 1098.6,2362.5 1099,2355.4 1099.4,2354.2 1099.8,2357.9 1100.2,2356.7 1100.7,2348.3 1101.1,2350.7 1101.5,2354.6 1101.9,2347.7 1102.3,2337.1 1102.8,2342.4 1103.2,2331.2 1103.6,2353.3 1104,2339.5 1104.4,2326.5 1104.9,2332.8 1105.3,2337.1 1105.7,2337.7 1106.1,2331.1 1106.5,2328.2 1107,2323.7 1107.4,2334.6 1107.8,2336 1108.2,2329.2 1108.6,2327.5 1109.1,2326.3 1109.5,2320.8 1109.9,2321.1 1110.3,2326.4 1110.7,2323.6 1111.2,2324.1 1111.6,2315.7 1112,2325.2 1112.4,2312.9 1112.8,2327.8 1113.3,2318.2 1113.7,2321.6 1114.1,2315.4 1114.5,2320 1114.9,2316.3 1115.4,2323.3 1115.8,2311.5 1116.2,2332 1116.6,2326.9 1117,2331.4 1117.5,2327.2 1117.9,2332.4 1118.3,2325.7 1118.7,2325.7 1119.1,2330.1 1119.6,2324.8 1120,2340.8 1120.4,2335 1120.8,2337.4 1121.2,2335 1121.7,2345.2 1122.1,2350 1122.5,2342.6 1122.9,2352.7 1123.3,2349.1 1123.8,2349.4 1124.2,2338.6 1124.6,2344.5 1125,2358.4 1125.4,2358.6 1125.9,2366.5 1126.3,2350.4 1126.7,2360 1127.1,2347.1 1127.5,2352 1128,2351.5 1128.4,2353.9 1128.8,2361.7 1129.2,2369.3 1129.6,2362.7 1130.1,2355 1130.5,2371 1130.9,2365.9 1131.3,2355.2 1131.7,2373.1 1132.2,2365.7 1132.6,2370.4 1133,2362.6 1133.4,2363.5 1133.8,2369.2 1134.3,2357.5 1134.7,2367.4 1135.1,2372.2 1135.5,2369.6 1135.9,2366.6 1136.4,2364.6 1136.8,2364.6 1137.2,2375.8 1137.6,2368.7 1138,2368.1 1138.5,2361.6 1138.9,2369.4 1139.3,2371.5 1139.7,2353.6 1140.1,2376.9 1140.6,2371.9 1141,2365.9 1141.4,2356.3 1141.8,2381.5 1142.2,2371.1 1142.7,2364 1143.1,2358.4 1143.5,2373.1 1143.9,2356.1 1144.3,2366.8 1144.8,2365.1 1145.2,2359.7 1145.6,2362.5 1146,2362.6 1146.4,2372.2 1146.9,2369.3 1147.3,2373.7 1147.7,2360.9 1148.1,2374.6 1148.5,2369 1149,2374.3 1149.4,2365.1 1149.8,2369.8 1150.2,2361.2 1150.6,2373.8 1151.1,2367.6 1151.5,2363.3 1151.9,2366.1 1152.3,2367.3 1152.7,2355.8 1153.2,2367.4 1153.6,2360.3 1154,2366 1154.4,2367.8 1154.8,2380.8 1155.3,2369.3 1155.7,2358.9 1156.1,2370.1 1156.5,2360 1156.9,2360.8 1157.4,2362.5 1157.8,2372.5 1158.2,2377 1158.6,2371.2 1159,2359.3 1159.5,2368 1159.9,2372 1160.3,2352.1 1160.7,2365 1161.1,2382.4 1161.6,2359 1162,2361.2 1162.4,2360.4 1162.8,2375.8 1163.2,2373.2 1163.7,2372.1 1164.1,2374.7 1164.5,2363.8 1164.9,2356.3 1165.3,2371 1165.8,2357.9 1166.2,2371.6 1166.6,2371 1167,2368.9 1167.4,2375.7 1167.9,2370.3 1168.3,2360.6 1168.7,2363.2 1169.1,2371.9 1169.5,2363.9 1170,2371.5 1170.4,2366 1170.8,2369.2 1171.2,2361.7 1171.6,2366.4 1172.1,2357.4 1172.5,2362.8 1172.9,2370.2 1173.3,2362.8 1173.7,2360.8 1174.2,2371.6 1174.6,2370.8 1175,2359 1175.4,2367.2 1175.8,2368.6 1176.3,2360 1176.7,2360.6 1177.1,2363.9 1177.5,2373.7 1177.9,2364.2 1178.4,2363.9 1178.8,2347.9 1179.2,2365.9 1179.6,2369.3 1180,2356.5 1180.5,2367.7 1180.9,2365 1181.3,2367.4 1181.7,2362.2 1182.1,2362.2 1182.6,2377 1183,2372.7 1183.4,2355.7 1183.8,2350.9 1184.2,2363.2 1184.7,2363.3 1185.1,2361.1 1185.5,2359.3 1185.9,2368.7 1186.3,2341.2 1186.8,2353.3 1187.2,2363 1187.6,2361.9 1188,2361.6 1188.4,2353.7 1188.9,2368.6 1189.3,2363.9 1189.7,2362.8 1190.1,2360.1 1190.5,2348.1 1191,2353.1 1191.4,2348.5 1191.8,2355.9 1192.2,2346.3 1192.6,2354.9 1193.1,2350.6 1193.5,2354.1 1193.9,2340.1 1194.3,2346.6 1194.7,2353.7 1195.2,2357 1195.6,2344.3 1196,2355.8 1196.4,2367.2 1196.8,2349.9 1197.3,2345.6 1197.7,2338.3 1198.1,2339.2 1198.5,2345.4 1198.9,2346.5 1199.4,2351.3 1199.8,2358.6 1200.2,2340.9 1200.6,2347.5 1201,2354.6 1201.5,2348 1201.9,2344.9 1202.3,2343.7 1202.7,2333.2 1203.1,2331.5 1203.6,2344.3 1204,2347.1 1204.4,2344.1 1204.8,2342.7 1205.2,2345.4 1205.7,2343.1 1206.1,2329.7 1206.5,2332.5 1206.9,2314.4 1207.3,2335 1207.8,2327.7 1208.2,2325.9 1208.6,2330.4 1209,2313.1 1209.4,2321.2 1209.9,2312.4 1210.3,2327 1210.7,2305.6 1211.1,2308.1 1211.5,2313 1212,2319.5 1212.4,2305.4 1212.8,2293.4 1213.2,2296.1 1213.6,2301.4 1214.1,2300.8 1214.5,2286 1214.9,2301.1 1215.3,2284.6 1215.7,2282.3 1216.2,2285.8 1216.6,2276.7 1217,2274.8 1217.4,2280.2 1217.8,2262.3 1218.3,2275.5 1218.7,2267.5 1219.1,2277.1 1219.5,2266.1 1219.9,2278.3 1220.4,2272.6 1220.8,2272.3 1221.2,2268.7 1221.6,2259.2 1222,2267.3 1222.5,2267.7 1222.9,2262.6 1223.3,2262.8 1223.7,2261.5 1224.1,2255.6 1224.6,2252 1225,2255.7 1225.4,2254.8 1225.8,2257.4 1226.2,2261 1226.7,2248.4 1227.1,2246.7 1227.5,2265.2 1227.9,2249.3 1228.3,2249.4 1228.8,2243.2 1229.2,2252.7 1229.6,2232.6 1230,2243.8 1230.4,2247.7 1230.9,2244.1 1231.3,2251.4 1231.7,2258.5 1232.1,2252.4 1232.5,2246.6 1233,2230.8 1233.4,2243.2 1233.8,2259 1234.2,2261.1 1234.6,2253.9 1235.1,2256 1235.5,2255.6 1235.9,2237.9 1236.3,2246.2 1236.7,2245.4 1237.2,2254.4 1237.6,2258.5 1238,2250.6 1238.4,2265 1238.8,2249.7 1239.3,2247 1239.7,2247.2 1240.1,2236.1 1240.5,2257.8 1240.9,2248.7 1241.4,2258.3 1241.8,2257.1 1242.2,2258.5 1242.6,2242.5 1243,2253.5 1243.5,2255.8 1243.9,2262.1 1244.3,2253.8 1244.7,2255.6 1245.1,2274.4 1245.6,2257.2 1246,2271.8 1246.4,2264 1246.8,2280.1 1247.2,2272.5 1247.7,2275 1248.1,2272.3 1248.5,2266 1248.9,2294.6 1249.3,2282.6 1249.8,2295 1250.2,2290.3 1250.6,2279.6 1251,2284 1251.4,2293 1251.9,2290.6 1252.3,2286.2 1252.7,2294.9 1253.1,2299.3 1253.5,2302.8 1254,2307.1 1254.4,2296.7 1254.8,2294.5 1255.2,2295.4 1255.6,2280.6 1256.1,2309 1256.5,2311.8 1256.9,2274.5 1257.3,2302.7 1257.7,2298.6 1258.2,2301.4 1258.6,2291.3 1259,2303.5 1259.4,2290.5 1259.8,2310.1 1260.3,2313 1260.7,2315.7 1261.1,2296 1261.5,2300 1261.9,2304.6 1262.4,2319.1 1262.8,2308.7 1263.2,2321.7 1263.6,2312.8 1264,2316.6 1264.5,2302.6 1264.9,2301.6 1265.3,2308.3 1265.7,2306 1266.1,2304.6 1266.6,2319.2 1267,2326.7 1267.4,2311.3 1267.8,2316.2 1268.2,2326.7 1268.7,2318.5 1269.1,2323.7 1269.5,2323.9 1269.9,2327.7 1270.3,2327.7 1270.8,2322.4 1271.2,2314.1 1271.6,2328.6 1272,2314.1 1272.4,2323 1272.9,2325.5 1273.3,2342.4 1273.7,2328.1 1274.1,2326.6 1274.5,2321.5 1275,2323.2 1275.4,2314.2 1275.8,2309.7 1276.2,2324 1276.6,2326.5 1277.1,2322.5 1277.5,2324.1 1277.9,2324.4 1278.3,2338.5 1278.7,2322.5 1279.2,2340 1279.6,2322.7 1280,2326.2 1280.4,2327.7 1280.8,2332.3 1281.3,2338.3 1281.7,2335.7 1282.1,2336.7 1282.5,2331.6 1282.9,2329.8 1283.4,2329.3 1283.8,2322.6 1284.2,2345.2 1284.6,2330.2 1285,2326.1 1285.5,2323.2 1285.9,2329.3 1286.3,2324.2 1286.7,2338.4 1287.1,2339.5 1287.6,2327.4 1288,2340.5 1288.4,2337.6 1288.8,2334.6 1289.2,2334.3 1289.7,2330.7 1290.1,2338.8 1290.5,2321.5 1290.9,2337.7 1291.3,2332.4 1291.8,2317.6 1292.2,2330.7 1292.6,2333.9 1293,2337 1293.4,2333.5 1293.9,2326.5 1294.3,2334.3 1294.7,2333.3 1295.1,2310.6 1295.5,2324.6 1296,2329.4 1296.4,2327.2 1296.8,2332.5 1297.2,2344.7 1297.6,2330.8 1298.1,2327.1 1298.5,2329.4 1298.9,2323.2 1299.3,2325.1 1299.7,2323.7 1300.2,2332 1300.6,2324.1 1301,2328 1301.4,2329.2 1301.8,2319.4 1302.3,2329.8 1302.7,2336.3 1303.1,2323.2 1303.5,2326.2 1303.9,2331.5 1304.4,2332.4 1304.8,2324.8 1305.2,2320.9 1305.6,2325.5 1306,2313.9 1306.5,2315.2 1306.9,2316.4 1307.3,2322.7 1307.7,2311.4 1308.1,2320.4 1308.6,2306.7 1309,2310.8 1309.4,2311.1 1309.8,2320.6 1310.2,2328.7 1310.7,2304.9 1311.1,2317.1 1311.5,2314 1311.9,2317.4 1312.3,2310.2 1312.8,2319.6 1313.2,2298.6 1313.6,2319.6 1314,2322.6 1314.4,2306.3 1314.9,2312.8 1315.3,2303.4 1315.7,2308.6 1316.1,2308.5 1316.5,2291 1317,2315.6 1317.4,2313.8 1317.8,2321.7 1318.2,2307.6 1318.6,2308.6 1319.1,2315.6 1319.5,2293.7 1319.9,2310 1320.3,2303.1 1320.7,2318.7 1321.2,2303.3 1321.6,2311.1 1322,2300.1 1322.4,2279.2 1322.8,2312 1323.3,2308.8 1323.7,2307.8 1324.1,2297.4 1324.5,2307.5 1324.9,2290.9 1325.4,2291.2 1325.8,2302.8 1326.2,2300.3 1326.6,2306.5 1327,2285.9 1327.5,2292.8 1327.9,2291.4 1328.3,2293.5 1328.7,2274.9 1329.1,2281.4 1329.6,2275.2 1330,2280 1330.4,2296 1330.8,2276.6 1331.2,2280.8 1331.7,2270.9 1332.1,2260.9 1332.5,2263.5 1332.9,2258.8 1333.3,2255.5 1333.8,2260.9 1334.2,2256.5 1334.6,2243 1335,2230.5 1335.4,2240.8 1335.9,2246.2 1336.3,2251.8 1336.7,2239.5 1337.1,2239.9 1337.5,2241.4 1338,2239.7 1338.4,2221.1 1338.8,2222.5 1339.2,2226.7 1339.6,2213.1 1340.1,2206.6 1340.5,2207.8 1340.9,2205.9 1341.3,2210.2 1341.7,2191.4 1342.2,2182.8 1342.6,2180.9 1343,2185.9 1343.4,2156 1343.8,2168.8 1344.3,2168.8 1344.7,2149.4 1345.1,2141.2 1345.5,2129.3 1345.9,2125.5 1346.4,2126.7 1346.8,2134.1 1347.2,2121.2 1347.6,2105.7 1348,2089 1348.5,2085.1 1348.9,2101.4 1349.3,2069.9 1349.7,2087.7 1350.1,2072.6 1350.6,2074.9 1351,2061.7 1351.4,2045.2 1351.8,2043.9 1352.2,2032.8 1352.7,2016.3 1353.1,2019.2 1353.5,2012.7 1353.9,1993.2 1354.3,1994.4 1354.8,1997.8 1355.2,1982.6 1355.6,1963.6 1356,1987.9 1356.4,1958.2 1356.9,1975.9 1357.3,1963.3 1357.7,1967.8 1358.1,1951.6 1358.5,1921.8 1359,1931.9 1359.4,1894.9 1359.8,1879.1 1360.2,1873.1 1360.6,1891.4 1361.1,1876.3 1361.5,1873.4 1361.9,1857.8 1362.3,1895.7 1362.7,1877.8 1363.2,1878.8 1363.6,1865.8 1364,1875.1 1364.4,1851.7 1364.8,1871.4 1365.3,1850.6 1365.7,1841.6 1366.1,1852.9 1366.5,1844.2 1366.9,1838.8 1367.4,1809.5 1367.8,1812.3 1368.2,1802.7 1368.6,1803.7 1369,1809.5 1369.5,1789.7 1369.9,1796.5 1370.3,1776.2 1370.7,1778.6 1371.1,1783.2 1371.6,1784 1372,1787.2 1372.4,1757.6 1372.8,1752.1 1373.2,1768.3 1373.7,1733.6 1374.1,1749.6 1374.5,1784.4 1374.9,1794.2 1375.3,1813.9 1375.8,1820.6 1376.2,1826.4 1376.6,1823.3 1377,1819.8 1377.4,1840.3 1377.9,1808.3 1378.3,1836 1378.7,1827.2 1379.1,1852.5 1379.5,1832.9 1380,1887.6 1380.4,1896.9 1380.8,1925.6 1381.2,1909.5 1381.6,1940.7 1382.1,1974.1 1382.5,1967.6 1382.9,2008.6 1383.3,2009.7 1383.7,2071.2 1384.2,2059.3 1384.6,2085.8 1385,2104 1385.4,2097.5 1385.8,2122.3 1386.3,2124.1 1386.7,2156 1387.1,2174.8 1387.5,2151.1 1387.9,2180.9 1388.4,2177.9 1388.8,2202.2 1389.2,2211.7 1389.6,2221.9 1390,2226.1 1390.5,2213.6 1390.9,2222.3 1391.3,2238.2 1391.7,2249.7 1392.1,2243.3 1392.6,2251.6 1393,2263.4 1393.4,2265.6 1393.8,2277.5 1394.2,2265.3 1394.7,2281.8 1395.1,2283 1395.5,2287 1395.9,2289 1396.3,2290.1 1396.8,2307.5 1397.2,2297 1397.6,2307.8 1398,2309.2 1398.4,2307.3 1398.9,2317.3 1399.3,2321 1399.7,2332.9 1400.1,2320.1 1400.5,2332.6 1401,2335.3 1401.4,2340.9 1401.8,2333.1 1402.2,2342.2 1402.6,2334.9 1403.1,2347.6 1403.5,2355.1 1403.9,2359.7 1404.3,2338.5 1404.7,2351.8 1405.2,2358.5 1405.6,2346.9 1406,2375.1 1406.4,2363.5 1406.8,2352.9 1407.3,2384.1 1407.7,2369.7 1408.1,2357 1408.5,2365 1408.9,2367.6 1409.4,2372.9 1409.8,2384.8 1410.2,2372.6 1410.6,2374.9 1411,2379.3 1411.5,2383.6 1411.9,2383.1 1412.3,2374.8 1412.7,2388.3 1413.1,2379.1 1413.6,2380 1414,2399 1414.4,2375.3 1414.8,2385.3 1415.2,2379.6 1415.7,2389.5 1416.1,2387.8 1416.5,2380.2 1416.9,2382.9 1417.3,2382.5 1417.8,2388.3 1418.2,2375.6 1418.6,2387.2 1419,2386.9 1419.4,2385.2 1419.9,2382.7 1420.3,2389.1 1420.7,2388.3 1421.1,2386.3 1421.5,2385.3 1422,2388.7 1422.4,2388.5 1422.8,2378.3 1423.2,2377.5 1423.6,2382.1 1424.1,2380.1 1424.5,2380.9 1424.9,2382.9 1425.3,2391.8 1425.7,2384.3 1426.2,2384.8 1426.6,2388.4 1427,2379.8 1427.4,2381.5 1427.8,2372.5 1428.3,2378 1428.7,2386.4 1429.1,2380.4 1429.5,2380.6 1429.9,2391.3 1430.4,2392 1430.8,2383.1 1431.2,2377.1 1431.6,2374.5 1432,2381.5 1432.5,2375 1432.9,2380.9 1433.3,2378 1433.7,2379.9 1434.1,2378.5 1434.6,2387.4 1435,2379.3 1435.4,2389.6 1435.8,2377.6 1436.2,2389.1 1436.7,2373.9 1437.1,2380.9 1437.5,2377 1437.9,2372.6 1438.3,2390.4 1438.8,2379 1439.2,2372.2 1439.6,2368.5 1440,2380.3 1440.4,2380.7 1440.9,2377.1 1441.3,2372.2 1441.7,2372.7 1442.1,2367.7 1442.5,2371.4 1443,2372.1 1443.4,2377.8 1443.8,2378.2 1444.2,2366.7 1444.6,2361 1445.1,2383.2 1445.5,2372.7 1445.9,2367.2 1446.3,2372.8 1446.7,2366.3 1447.2,2367.9 1447.6,2355.8 1448,2367.7 1448.4,2379.4 1448.8,2374.5 1449.3,2368 1449.7,2369.9 1450.1,2373.4 1450.5,2375.4 1450.9,2364.3 1451.4,2367.5 1451.8,2370 1452.2,2374.1 1452.6,2366.7 1453,2371.5 1453.5,2373.3 1453.9,2368.9 1454.3,2371.6 1454.7,2375.7 1455.1,2361.3 1455.6,2369.5 1456,2370.3 1456.4,2381.1 1456.8,2356.9 1457.2,2363.7 1457.7,2359.4 1458.1,2362 1458.5,2369.8 1458.9,2362 1459.3,2367.1 1459.8,2367.8 1460.2,2366.4 1460.6,2372.8 1461,2369.9 1461.4,2362.9 1461.9,2365.1 1462.3,2369.5 1462.7,2364.2 1463.1,2370.5 1463.5,2367.5 1464,2364.6 1464.4,2365.8 1464.8,2361.2 1465.2,2369.5 1465.6,2364.4 1466.1,2363.6 1466.5,2366.3 1466.9,2381.1 1467.3,2375.3 1467.7,2365 1468.2,2363.1 1468.6,2373.6 1469,2364 1469.4,2377.1 1469.8,2366.8 1470.3,2377.7 1470.7,2383.9 1471.1,2370.6 1471.5,2377 1471.9,2378.2 1472.4,2388.3 1472.8,2389.3 1473.2,2370.9 1473.6,2384 1474,2383.4 1474.5,2379.7 1474.9,2381.7 1475.3,2373.3 1475.7,2375.2 1476.1,2380.4 1476.6,2374.1 1477,2384.5 1477.4,2384.2 1477.8,2392.5 1478.2,2378.5 1478.7,2393 1479.1,2388.3 1479.5,2388.5 1479.9,2387.5 1480.3,2388.3 1480.8,2385 1481.2,2384.3 1481.6,2397.1 1482,2378.1 1482.4,2396.7 1482.9,2393.9 1483.3,2393.7 1483.7,2398.6 1484.1,2393.4 1484.5,2395.1 1485,2397.7 1485.4,2393.8 1485.8,2400 1486.2,2399.7 1486.6,2394.5 1487.1,2397.5 1487.5,2390.3 1487.9,2396.9 1488.3,2396.2 1488.7,2387.7 1489.2,2395.7 1489.6,2398.7 1490,2390.6 1490.4,2388.9 1490.8,2395.8 1491.3,2392.9 1491.7,2390.9 1492.1,2396.6 1492.5,2391.2 1492.9,2397.1 1493.4,2402.3 1493.8,2398.3 1494.2,2397.7 1494.6,2391.3 1495,2403.9 1495.5,2395.5 1495.9,2406.3 1496.3,2394.2 1496.7,2397.4 1497.1,2390.3 1497.6,2399 1498,2389.9 1498.4,2397.7 1498.8,2406.5 1499.2,2401.4 1499.7,2390.6 1500.1,2402.5 1500.5,2391.2 1500.9,2396 1501.3,2394.7 1501.8,2395.6 1502.2,2397.5 1502.6,2384.9 1503,2403.4 1503.4,2397.2 1503.9,2392.2 1504.3,2399.5 1504.7,2405.7 1505.1,2392.4 1505.5,2401.5 1506,2397.6 1506.4,2398.6 1506.8,2395.2 1507.2,2398.5 1507.6,2401.5 1508.1,2390 1508.5,2394.1 1508.9,2395.5 1509.3,2395.2 1509.7,2389.2 1510.2,2395.2 1510.6,2392.1 1511,2400.3 1511.4,2398.3 1511.8,2399.2 1512.3,2400.4 1512.7,2395.9 1513.1,2393.1 1513.5,2402.3 1513.9,2396.4 1514.4,2395.4 1514.8,2407.4 1515.2,2390.9 1515.6,2403.3 1516,2406.1 1516.5,2397.1 1516.9,2395.8 1517.3,2401 1517.7,2394.8 1518.1,2388.6 1518.6,2405.1 1519,2407.8 1519.4,2392.2 1519.8,2403.2 1520.2,2400.5 1520.7,2399.4 1521.1,2403.5 1521.5,2397.4 1521.9,2398.2 1522.3,2400.6 1522.8,2401.6 1523.2,2387 1523.6,2406.4 1524,2403.3 1524.4,2406 1524.9,2399.4 1525.3,2394.8 1525.7,2403.4 1526.1,2403.3 1526.5,2405.8 1527,2404.3 1527.4,2396.1 1527.8,2394.9 1528.2,2399.7 1528.6,2403 1529.1,2400.5 1529.5,2398.2 1529.9,2401.9 1530.3,2391.3 1530.7,2400.6 1531.2,2389.5 1531.6,2410.2 1532,2391.7 1532.4,2411.1 1532.8,2406.2 1533.3,2407.2 1533.7,2406.1 1534.1,2399.7 1534.5,2402.2 1534.9,2410.4 1535.4,2396.3 1535.8,2400.8 1536.2,2407.1 1536.6,2398.6 1537,2411.4 1537.5,2396 1537.9,2398.4 1538.3,2402.8 1538.7,2398.4 1539.1,2401.1 1539.6,2402.5 1540,2401.6 1540.4,2404.4 1540.8,2404.7 1541.2,2404.5 1541.7,2404 1542.1,2403.3 1542.5,2404.8 1542.9,2405.1 1543.3,2407.4 1543.8,2412 1544.2,2400.1 1544.6,2412.9 1545,2408.2 1545.4,2409 1545.9,2401 1546.3,2405.3 1546.7,2405.6 1547.1,2402.6 1547.5,2407.8 1548,2397.9 1548.4,2399.6 1548.8,2408.5 1549.2,2406.3 1549.6,2395.7 1550.1,2406.5 1550.5,2405 1550.9,2408.7 1551.3,2403.9 1551.7,2404.2 1552.2,2399 1552.6,2403.6 1553,2402.1 1553.4,2407 1553.8,2393.7 1554.3,2404.2 1554.7,2410.1 1555.1,2390 1555.5,2407.9 1555.9,2406.7 1556.4,2405.2 1556.8,2406.3 1557.2,2401 1557.6,2409.1 1558,2406.1 1558.5,2395.4 1558.9,2408.2 1559.3,2398.8 1559.7,2399.7 1560.1,2406.9 1560.6,2402.8 1561,2405.9 1561.4,2406.4 1561.8,2404.5 1562.2,2407.3 1562.7,2397.2 1563.1,2414.1 1563.5,2409.9 1563.9,2402.1 1564.3,2404.5 1564.8,2413.3 1565.2,2401.1 1565.6,2397.2 1566,2416.7 1566.4,2412.9 1566.9,2408.1 1567.3,2415 1567.7,2408.8 1568.1,2410.2 1568.5,2409.6 1569,2410.6 1569.4,2401.8 1569.8,2407.2 1570.2,2408.8 1570.6,2401.6 1571.1,2400.5 1571.5,2406.8 1571.9,2415.5 1572.3,2406.7 1572.7,2413 1573.2,2414 1573.6,2414.6 1574,2411.1 1574.4,2398.9 1574.8,2396.9 1575.3,2402.3 1575.7,2406.6 1576.1,2407.6 1576.5,2405.8 1576.9,2406.6 1577.4,2411.5 1577.8,2402.4 1578.2,2411.7 1578.6,2411.6 1579,2399.8 1579.5,2409.7 1579.9,2408.9 1580.3,2411.8 1580.7,2411.6 1581.1,2398.1 1581.6,2419.2 1582,2410.1 1582.4,2414.6 1582.8,2414.4 1583.2,2404.8 1583.7,2409.7 1584.1,2409.1 1584.5,2421.4 1584.9,2403.5 1585.3,2418.3 1585.8,2415.1 1586.2,2410.2 1586.6,2405.5 1587,2409.9 1587.4,2414.5 1587.9,2406.4 1588.3,2412.4 1588.7,2414.6 1589.1,2415.1 1589.5,2409.9 1590,2415.1 1590.4,2415.7 1590.8,2401.8 1591.2,2406.1 1591.6,2405 1592.1,2408.5 1592.5,2416.3 1592.9,2415.1 1593.3,2414.7 1593.7,2410.2 1594.2,2418.1 1594.6,2405 1595,2406.1 1595.4,2416.8 1595.8,2412 1596.3,2419 1596.7,2418 1597.1,2418.6 1597.5,2409.9 1597.9,2411.3 1598.4,2405.8 1598.8,2414.4 1599.2,2414.4 1599.6,2411.7 1600,2413.4 1600.5,2415.8 1600.9,2419.6 1601.3,2412.2 1601.7,2412.1 1602.1,2414.9 1602.6,2418.3 1603,2425 1603.4,2420.5 1603.8,2403.8 1604.2,2407.5 1604.7,2412.1 1605.1,2403.4 1605.5,2419.8 1605.9,2411.9 1606.3,2410 1606.8,2415.7 1607.2,2418.3 1607.6,2415.1 1608,2416.9 1608.4,2421.8 1608.9,2412 1609.3,2417.3 1609.7,2408.1 1610.1,2411.5 1610.5,2422.8 1611,2414.1 1611.4,2413 1611.8,2422.1 1612.2,2415.9 1612.6,2422.9 1613.1,2428 1613.5,2429.6 1613.9,2417.6 1614.3,2420.5 1614.7,2416.1 1615.2,2427.6 1615.6,2422 1616,2433.2 1616.4,2417.1 1616.8,2419.3 1617.3,2405.5 1617.7,2416.3 1618.1,2416.7 1618.5,2422.3 1618.9,2424.9 1619.4,2416.3 1619.8,2419.7 1620.2,2423.3 1620.6,2420.2 1621,2423.9 1621.5,2428.4 1621.9,2417.8 1622.3,2422.5 1622.7,2426.7 1623.1,2421.6 1623.6,2428.9 1624,2419.9 1624.4,2427 1624.8,2422.9 1625.2,2424.7 1625.7,2418.6 1626.1,2427.3 1626.5,2416.6 1626.9,2427.4 1627.3,2422.4 1627.8,2423.7 1628.2,2428.9 1628.6,2416 1629,2426.6 1629.4,2424.7 1629.9,2420.6 1630.3,2427.1 1630.7,2423.3 1631.1,2432.5 1631.5,2421.2 1632,2431.3 1632.4,2430.6 1632.8,2425.7 1633.2,2420.9 1633.6,2424.1 1634.1,2418.1 1634.5,2421.1 1634.9,2421.6 1635.3,2426.3 1635.7,2418 1636.2,2427 1636.6,2422.8 1637,2429.6 1637.4,2428 1637.8,2422.4 1638.3,2426.5 1638.7,2426.5 1639.1,2423 1639.5,2424.4 1639.9,2425 1640.4,2421 1640.8,2420 1641.2,2426.9 1641.6,2417.6 1642,2428.3 1642.5,2430.1 1642.9,2424.2 1643.3,2428.4 1643.7,2422.8 1644.1,2429.5 1644.6,2441.1 1645,2428.9 1645.4,2426.3 1645.8,2426.5 1646.2,2420.1 1646.7,2423.3 1647.1,2425.4 1647.5,2423.9 1647.9,2427.2 1648.3,2432.7 1648.8,2420.2 1649.2,2423.7 1649.6,2427.4 1650,2421.2 1650.4,2422.4 1650.9,2429 1651.3,2429.4 1651.7,2428.1 1652.1,2421.9 1652.5,2429.1 1653,2430.4 1653.4,2424.3 1653.8,2426.7 1654.2,2425 1654.6,2425.1 1655.1,2423.8 1655.5,2428.1 1655.9,2422.3 1656.3,2434.1 1656.7,2429 1657.2,2424.7 1657.6,2436.2 1658,2426.4 1658.4,2415 1658.8,2430.7 1659.3,2428.7 1659.7,2425.2 1660.1,2425.6 1660.5,2422.3 1660.9,2419.4 1661.4,2419.8 1661.8,2436.5 1662.2,2421.7 1662.6,2425.2 1663,2432.9 1663.5,2420.9 1663.9,2423.7 1664.3,2421.8 1664.7,2416.8 1665.1,2426.1 1665.6,2426.4 1666,2422.3 1666.4,2422.3 1666.8,2426.1 1667.2,2426.3 1667.7,2432.1 1668.1,2426.1 1668.5,2426.4 1668.9,2419.4 1669.3,2415.8 1669.8,2428.3 1670.2,2418 1670.6,2425.1 1671,2422.1 1671.4,2417.6 1671.9,2422.6 1672.3,2429.5 1672.7,2427.7 1673.1,2418.7 1673.5,2419.6 1674,2410.9 1674.4,2414.7 1674.8,2417.7 1675.2,2420.2 1675.6,2422.2 1676.1,2417.8 1676.5,2425.7 1676.9,2415.3 1677.3,2422.8 1677.7,2414.4 1678.2,2417.3 1678.6,2419.7 1679,2422.3 1679.4,2414.9 1679.8,2416.1 1680.3,2416.7 1680.7,2418.9 1681.1,2424.4 1681.5,2420.5 1681.9,2415.3 1682.4,2415.2 1682.8,2422.5 1683.2,2422.9 1683.6,2421.1 1684,2415.8 1684.5,2411.3 1684.9,2411.8 1685.3,2416 1685.7,2410.1 1686.1,2414.4 1686.6,2425.7 1687,2416.9 1687.4,2419.3 1687.8,2410.4 1688.2,2422.2 1688.7,2413.7 1689.1,2416 1689.5,2416.8 1689.9,2416.3 1690.3,2413.6 1690.8,2419.4 1691.2,2426.7 1691.6,2415.2 1692,2421.2 1692.4,2412.2 1692.9,2419.3 1693.3,2415 1693.7,2425.1 1694.1,2416.5 1694.5,2421.9 1695,2419.6 1695.4,2413.7 1695.8,2419.9 1696.2,2419.9 1696.6,2424 1697.1,2419.5 1697.5,2412.1 1697.9,2416 1698.3,2418.5 1698.7,2424.3 1699.2,2419.5 1699.6,2425.6 1700,2420 1700.4,2423.2 1700.8,2426.2 1701.3,2422.3 1701.7,2413.5 1702.1,2427 1702.5,2420.6 1702.9,2425.5 1703.4,2408.6 1703.8,2421.6 1704.2,2421.5 1704.6,2419.6 1705,2421.2 1705.5,2417 1705.9,2417.5 1706.3,2424.1 1706.7,2420.8 1707.1,2425.4 1707.6,2423.8 1708,2418.6 1708.4,2422.1 1708.8,2420.5 1709.2,2424.5 1709.7,2430 1710.1,2422.3 1710.5,2419.8 1710.9,2432.3 1711.3,2420.9 1711.8,2418.7 1712.2,2420.4 1712.6,2412 1713,2429.4 1713.4,2427.4 1713.9,2427.2 1714.3,2424.6 1714.7,2421 1715.1,2419.2 1715.5,2417.8 1716,2424.7 1716.4,2425.3 1716.8,2424.4 1717.2,2415.4 1717.6,2429.2 1718.1,2415.9 1718.5,2419.2 1718.9,2418.6 1719.3,2416 1719.7,2406.9 1720.2,2411.4 1720.6,2414.1 1721,2421.2 1721.4,2413.7 1721.8,2416.9 1722.3,2408.8 1722.7,2412.3 1723.1,2419.6 1723.5,2422.1 1723.9,2414.3 1724.4,2414.8 1724.8,2412.1 1725.2,2410.1 1725.6,2410.7 1726,2414.7 1726.5,2405.7 1726.9,2403 1727.3,2411 1727.7,2404.5 1728.1,2409 1728.6,2401.1 1729,2407.3 1729.4,2403.4 1729.8,2402.3 1730.2,2408.2 1730.7,2401 1731.1,2391.4 1731.5,2396.9 1731.9,2401.5 1732.3,2410.7 1732.8,2399.8 1733.2,2395 1733.6,2397.7 1734,2405.6 1734.4,2401.5 1734.9,2401.6 1735.3,2401.4 1735.7,2405.9 1736.1,2390.7 1736.5,2403.9 1737,2399.6 1737.4,2390.8 1737.8,2399.2 1738.2,2402.2 1738.6,2393.1 1739.1,2399.3 1739.5,2382.1 1739.9,2385 1740.3,2395.2 1740.7,2392.5 1741.2,2395.3 1741.6,2394.1 1742,2395.7 1742.4,2382.9 1742.8,2382.6 1743.3,2396.4 1743.7,2391.9 1744.1,2390.1 1744.5,2388.8 1744.9,2398.5 1745.4,2385.7 1745.8,2391.7 1746.2,2397.5 1746.6,2386.6 1747,2386.7 1747.5,2388.3 1747.9,2379.5 1748.3,2396.7 1748.7,2396.4 1749.1,2401.4 1749.6,2392 1750,2395 1750.4,2397 1750.8,2402.8 1751.2,2396.4 1751.7,2397.9 1752.1,2392.5 1752.5,2398.6 1752.9,2397.5 1753.3,2403.7 1753.8,2402.8 1754.2,2393.7 1754.6,2394.8 1755,2403 1755.4,2399.7 1755.9,2404.1 1756.3,2409.1 1756.7,2397.5 1757.1,2406.6 1757.5,2400.2 1758,2405.6 1758.4,2405.7 1758.8,2401.5 1759.2,2395.9 1759.6,2406.3 1760.1,2402.9 1760.5,2410.5 1760.9,2410.9 1761.3,2415.8 1761.7,2414.6 1762.2,2403.2 1762.6,2404.9 1763,2409.8 1763.4,2414.3 1763.8,2416.9 1764.3,2413.1 1764.7,2418.6 1765.1,2413.2 1765.5,2423.5 1765.9,2416.6 1766.4,2416.8 1766.8,2417.4 1767.2,2420.1 1767.6,2427.3 1768,2421.5 1768.5,2425.3 1768.9,2417.3 1769.3,2424.1 1769.7,2424.8 1770.1,2426.1 1770.6,2416.9 1771,2417.3 1771.4,2421.9 1771.8,2424.6 1772.2,2417.9 1772.7,2422.9 1773.1,2429.5 1773.5,2412.9 1773.9,2416.3 1774.3,2421.4 1774.8,2424.7 1775.2,2422.4 1775.6,2425.1 1776,2429.4 1776.4,2420.6 1776.9,2419 1777.3,2429.6 1777.7,2415.2 1778.1,2427.3 1778.5,2429.5 1779,2424.8 1779.4,2420.9 1779.8,2424.4 1780.2,2421.1 1780.6,2433.1 1781.1,2426.7 1781.5,2424.2 1781.9,2425.9 1782.3,2426.4 1782.7,2428.9 1783.2,2425.6 1783.6,2420.5 1784,2422.9 1784.4,2419.2 1784.8,2417.8 1785.3,2425.5 1785.7,2421.8 1786.1,2423.6 1786.5,2427.5 1786.9,2428.8 1787.4,2425.1 1787.8,2422.1 1788.2,2427.8 1788.6,2421 1789,2431.9 1789.5,2422.7 1789.9,2430.2 1790.3,2420.1 1790.7,2428.7 1791.1,2427 1791.6,2424.3 1792,2430 1792.4,2427.5 1792.8,2425.6 1793.2,2424.7 1793.7,2427.5 1794.1,2425.9 1794.5,2421.6 1794.9,2422 1795.3,2424.6 1795.8,2419.9 1796.2,2416.3 1796.6,2429.3 1797,2422.8 1797.4,2436 1797.9,2426.5 1798.3,2429.3 1798.7,2429.1 1799.1,2425.8 1799.5,2424 1800,2418.3 1800.4,2420.6 1800.8,2419.4 1801.2,2419 1801.6,2418.7 1802.1,2426.7 1802.5,2416.6 1802.9,2433.3 1803.3,2422.1 1803.7,2427.8 1804.2,2427.3 1804.6,2428 1805,2425.6 1805.4,2425.2 1805.8,2426.7 1806.3,2430.2 1806.7,2429.4 1807.1,2427.1 1807.5,2419.5 1807.9,2422.2 1808.4,2426.7 1808.8,2431.8 1809.2,2433.1 1809.6,2423.7 1810,2428 1810.5,2423.9 1810.9,2422.2 1811.3,2426.9 1811.7,2429.3 1812.1,2427.7 1812.6,2415.8 1813,2432 1813.4,2417 1813.8,2431.7 1814.2,2433.4 1814.7,2441.4 1815.1,2420.1 1815.5,2424.5 1815.9,2427.5 1816.3,2429 1816.8,2424.8 1817.2,2432.2 1817.6,2425.1 1818,2427.3 1818.4,2427 1818.9,2430.7 1819.3,2429.5 1819.7,2420 1820.1,2431.1 1820.5,2422.7 1821,2423.1 1821.4,2424.1 1821.8,2426.4 1822.2,2430.3 1822.6,2430.3 1823.1,2420.7 1823.5,2427.2 1823.9,2432.6 1824.3,2432 1824.7,2428.6 1825.2,2424.4 1825.6,2430.6 1826,2426.7 1826.4,2421.5 1826.8,2416.3 1827.3,2430.2 1827.7,2433.4 1828.1,2437.1 1828.5,2434.1 1828.9,2430.1 1829.4,2427.5 1829.8,2429 1830.2,2431.2 1830.6,2422.7 1831,2428.7 1831.5,2426.4 1831.9,2431.3 1832.3,2431 1832.7,2418.2 1833.1,2420.8 1833.6,2428 1834,2430.6 1834.4,2424.2 1834.8,2428.6 1835.2,2428 1835.7,2425.6 1836.1,2425.2 1836.5,2429.7 1836.9,2433.5 1837.3,2425.4 1837.8,2430.7 1838.2,2429.2 1838.6,2425.7 1839,2425.6 1839.4,2423.8 1839.9,2428.9 1840.3,2430.9 1840.7,2426.9" fill="none" stroke="#f00" stroke-width="6" stroke-linejoin="round" stroke-linecap="square"/>
</g>
<rect x="168.5" y="49.5" width="1676" height="1104" fill="none" stroke="#000" stroke-width="7"/>
<rect x="168.5" y="1352" width="1676" height="1104" fill="none" stroke="#000" stroke-width="7"/>
<rect x="165" y="1156" width="7" height="29" fill="#000"/>
<rect x="270.2" y="1156" width="6" height="13" fill="#000"/>
<rect x="270.2" y="52" width="6" height="13" fill="#000"/>
<rect x="374.5" y="1156" width="7" height="29" fill="#000"/>
<rect x="374.5" y="52" width="7" height="28.5" fill="#000"/>
<rect x="479.8" y="1156" width="6" height="13" fill="#000"/>
<rect x="479.8" y="52" width="6" height="13" fill="#000"/>
<rect x="584" y="1156" width="7" height="29" fill="#000"/>
<rect x="584" y="52" width="7" height="28.5" fill="#000"/>
<rect x="689.2" y="1156" width="6" height="13" fill="#000"/>
<rect x="689.2" y="52" width="6" height="13" fill="#000"/>
<rect x="793.5" y="1156" width="7" height="29" fill="#000"/>
<rect x="793.5" y="52" width="7" height="28.5" fill="#000"/>
<rect x="898.8" y="1156" width="6" height="13" fill="#000"/>
<rect x="898.8" y="52" width="6" height="13" fill="#000"/>
<rect x="1003" y="1156" width="7" height="29" fill="#000"/>
<rect x="1003" y="52" width="7" height="28.5" fill="#000"/>
<rect x="1108.2" y="1156" width="6" height="13" fill="#000"/>
<rect x="1108.2" y="52" width="6" height="13" fill="#000"/>
<rect x="1212.5" y="1156" width="7" height="29" fill="#000"/>
<rect x="1212.5" y="52" width="7" height="28.5" fill="#000"/>
<rect x="1317.8" y="1156" width="6" height="13" fill="#000"/>
<rect x="1317.8" y="52" width="6" height="13" fill="#000"/>
<rect x="1422" y="1156" width="7" height="29" fill="#000"/>
<rect x="1422" y="52" width="7" height="28.5" fill="#000"/>
<rect x="1527.2" y="1156" width="6" height="13" fill="#000"/>
<rect x="1527.2" y="52" width="6" height="13" fill="#000"/>
<rect x="1631.5" y="1156" width="7" height="29" fill="#000"/>
<rect x="1631.5" y="52" width="7" height="28.5" fill="#000"/>
<rect x="1736.8" y="1156" width="6" height="13" fill="#000"/>
<rect x="1736.8" y="52" width="6" height="13" fill="#000"/>
<rect x="1841" y="1156" width="7" height="29" fill="#000"/>
<rect x="165" y="2458.5" width="7" height="29" fill="#000"/>
<rect x="270.2" y="2458.5" width="6" height="13" fill="#000"/>
<rect x="270.2" y="1354.5" width="6" height="13" fill="#000"/>
<rect x="374.5" y="2458.5" width="7" height="29" fill="#000"/>
<rect x="374.5" y="1354.5" width="7" height="28.5" fill="#000"/>
<rect x="479.8" y="2458.5" width="6" height="13" fill="#000"/>
<rect x="479.8" y="1354.5" width="6" height="13" fill="#000"/>
<rect x="584" y="2458.5" width="7" height="29" fill="#000"/>
<rect x="584" y="1354.5" width="7" height="28.5" fill="#000"/>
<rect x="689.2" y="2458.5" width="6" height="13" fill="#000"/>
<rect x="689.2" y="1354.5" width="6" height="13" fill="#000"/>
<rect x="793.5" y="2458.5" width="7" height="29" fill="#000"/>
<rect x="793.5" y="1354.5" width="7" height="28.5" fill="#000"/>
<rect x="898.8" y="2458.5" width="6" height="13" fill="#000"/>
<rect x="898.8" y="1354.5" width="6" height="13" fill="#000"/>
<rect x="1003" y="2458.5" width="7" height="29" fill="#000"/>
<rect x="1003" y="1354.5" width="7" height="28.5" fill="#000"/>
<rect x="1108.2" y="2458.5" width="6" height="13" fill="#000"/>
<rect x="1108.2" y="1354.5" width="6" height="13" fill="#000"/>
<rect x="1212.5" y="2458.5" width="7" height="29" fill="#000"/>
<rect x="1212.5" y="1354.5" width="7" height="28.5" fill="#000"/>
<rect x="1317.8" y="2458.5" width="6" height="13" fill="#000"/>
<rect x="1317.8" y="1354.5" width="6" height="13" fill="#000"/>
<rect x="1422" y="2458.5" width="7" height="29" fill="#000"/>
<rect x="1422" y="1354.5" width="7" height="28.5" fill="#000"/>
<rect x="1527.2" y="2458.5" width="6" height="13" fill="#000"/>
<rect x="1527.2" y="1354.5" width="6" height="13" fill="#000"/>
<rect x="1631.5" y="2458.5" width="7" height="29" fill="#000"/>
<rect x="1631.5" y="1354.5" width="7" height="28.5" fill="#000"/>
<rect x="1736.8" y="2458.5" width="6" height="13" fill="#000"/>
<rect x="1736.8" y="1354.5" width="6" height="13" fill="#000"/>
<rect x="1841" y="2458.5" width="7" height="29" fill="#000"/>
<rect x="138" y="83" width="28" height="7" fill="#000"/>
<rect x="1814" y="83" width="28" height="7" fill="#000"/>
<rect x="153" y="157.1" width="13" height="6" fill="#000"/>
<rect x="1829" y="157.1" width="13" height="6" fill="#000"/>
<rect x="138" y="230.1" width="28" height="7" fill="#000"/>
<rect x="1814" y="230.1" width="28" height="7" fill="#000"/>
<rect x="153" y="304.2" width="13" height="6" fill="#000"/>
<rect x="1829" y="304.2" width="13" height="6" fill="#000"/>
<rect x="138" y="377.3" width="28" height="7" fill="#000"/>
<rect x="1814" y="377.3" width="28" height="7" fill="#000"/>
<rect x="153" y="451.4" width="13" height="6" fill="#000"/>
<rect x="1829" y="451.4" width="13" height="6" fill="#000"/>
<rect x="138" y="524.4" width="28" height="7" fill="#000"/>
<rect x="1814" y="524.4" width="28" height="7" fill="#000"/>
<rect x="153" y="598.5" width="13" height="6" fill="#000"/>
<rect x="1829" y="598.5" width="13" height="6" fill="#000"/>
<rect x="138" y="671.6" width="28" height="7" fill="#000"/>
<rect x="1814" y="671.6" width="28" height="7" fill="#000"/>
<rect x="153" y="745.6" width="13" height="6" fill="#000"/>
<rect x="1829" y="745.6" width="13" height="6" fill="#000"/>
<rect x="138" y="818.7" width="28" height="7" fill="#000"/>
<rect x="1814" y="818.7" width="28" height="7" fill="#000"/>
<rect x="153" y="892.8" width="13" height="6" fill="#000"/>
<rect x="1829" y="892.8" width="13" height="6" fill="#000"/>
<rect x="138" y="965.9" width="28" height="7" fill="#000"/>
<rect x="1814" y="965.9" width="28" height="7" fill="#000"/>
<rect x="153" y="1039.9" width="13" height="6" fill="#000"/>
<rect x="1829" y="1039.9" width="13" height="6" fill="#000"/>
<rect x="138" y="1113" width="28" height="7" fill="#000"/>
<rect x="1814" y="1113" width="28" height="7" fill="#000"/>
<rect x="138" y="1413" width="28" height="7" fill="#000"/>
<rect x="1814" y="1413" width="28" height="7" fill="#000"/>
<rect x="153" y="1494.8" width="13" height="6" fill="#000"/>
<rect x="1829" y="1494.8" width="13" height="6" fill="#000"/>
<rect x="138" y="1575.5" width="28" height="7" fill="#000"/>
<rect x="1814" y="1575.5" width="28" height="7" fill="#000"/>
<rect x="153" y="1657.2" width="13" height="6" fill="#000"/>
<rect x="1829" y="1657.2" width="13" height="6" fill="#000"/>
<rect x="138" y="1738" width="28" height="7" fill="#000"/>
<rect x="1814" y="1738" width="28" height="7" fill="#000"/>
<rect x="153" y="1819.8" width="13" height="6" fill="#000"/>
<rect x="1829" y="1819.8" width="13" height="6" fill="#000"/>
<rect x="138" y="1900.5" width="28" height="7" fill="#000"/>
<rect x="1814" y="1900.5" width="28" height="7" fill="#000"/>
<rect x="153" y="1982.2" width="13" height="6" fill="#000"/>
<rect x="1829" y="1982.2" width="13" height="6" fill="#000"/>
<rect x="138" y="2063" width="28" height="7" fill="#000"/>
<rect x="1814" y="2063" width="28" height="7" fill="#000"/>
<rect x="153" y="2144.8" width="13" height="6" fill="#000"/>
<rect x="1829" y="2144.8" width="13" height="6" fill="#000"/>
<rect x="138" y="2225.5" width="28" height="7" fill="#000"/>
<rect x="1814" y="2225.5" width="28" height="7" fill="#000"/>
<rect x="153" y="2307.2" width="13" height="6" fill="#000"/>
<rect x="1829" y="2307.2" width="13" height="6" fill="#000"/>
<rect x="138" y="2388" width="28" height="7" fill="#000"/>
<rect x="1814" y="2388" width="28" height="7" fill="#000"/>
<rect x="1782.3" y="80" width="8.5" height="157.7" fill="#000"/>
<rect x="1775.9" y="80" width="20" height="8.8" fill="#000"/>
<rect x="1775.9" y="228.8" width="20" height="8.9" fill="#000"/>
<rect x="1794" y="1412" width="9" height="336" fill="#000"/>
<rect x="1789" y="1412" width="19" height="9" fill="#000"/>
<rect x="1789" y="1739" width="19" height="9" fill="#000"/>
<rect x="670.6" y="487" width="3.5" height="94.5" fill="#000"/>
<rect x="670.6" y="676.7" width="3.5" height="335.1" fill="#000"/>
<rect x="794.2" y="487.5" width="3.5" height="40.1" fill="#000"/>
<rect x="1110.8" y="501" width="3.5" height="39.2" fill="#000"/>
<rect x="1675.2" y="507" width="3.5" height="155.7" fill="#000"/>
<rect x="1675.2" y="758.3" width="3.5" height="267.2" fill="#000"/>
<rect x="673.5" y="1781.5" width="3.5" height="66.5" fill="#000"/>
<rect x="673.5" y="1944" width="3.5" height="50.7" fill="#000"/>
<rect x="796.6" y="1846.7" width="3.5" height="87.6" fill="#000"/>
<rect x="796.6" y="2030.7" width="3.5" height="100.8" fill="#000"/>
<rect x="1110.7" y="1932" width="3.5" height="117.6" fill="#000"/>
<rect x="1110.7" y="2145.1" width="3.5" height="149.2" fill="#000"/>
<rect x="1677.8" y="2001.8" width="3.5" height="118" fill="#000"/>
<rect x="1677.8" y="2214.6" width="3.5" height="178.3" fill="#000"/>
<rect x="748" y="96" width="509" height="234" fill="#fff"/>
<g clip-path="url(#ci1)">
<polyline points="748.6,300.2 754.8,290.4 764.5,282.2 776.8,279 788.2,287.1 797.1,288 807.7,286.3 819.1,285.5 828.6,266 837.9,275.7 846,287.1 850.9,290.4 859,272.5 868.8,269.2 880.2,266 890,266 901.4,256.2 912.8,270.8 921.8,253.7 932.4,257.8 942.1,237.4 956.8,237.4 963.3,235 973.1,218.7 982.9,216.3 992.6,204 1000,186 1014.9,164.7 1023.2,124.9 1027.4,123.2 1035.7,124.9 1046.5,137.3 1053.1,164.7 1058.9,193 1066.4,184.6 1076.4,202.9 1088,211.2 1097.9,227.8 1111.2,237.8 1121.2,244.4 1132.8,251 1144.4,259.4 1152.7,262.7 1161,263.5 1171,256 1190.9,262.7 1200.9,269.3 1210.8,258.5 1217.5,257.7 1227.4,222.8 1234.1,173 1239,156.4 1249,161.4 1254,181.3 1258,250" fill="none" stroke="#000" stroke-width="10" stroke-linejoin="round" />
<polyline points="748.6,293.7 755.6,296.9 764.5,290.4 776,287.1 787.4,295.3 798.8,289.6 807.7,293.7 819.1,289.6 828.9,295.3 839.5,285.5 850.9,292 865.6,293.7 878.6,291.2 891.6,287.9 903,280.6 917.7,279.8 922.6,283.1 932.4,279 943,288.8 952,282.2 961.7,281.4 969.8,275.7 983.7,264.3 993.5,273.3 1005,249.4 1014.9,244.4 1021.6,206.2 1032.4,156.4 1046.5,154.8 1053.1,206.2 1064.7,234.4 1078,261 1088,274.3 1097.9,268.5 1117.9,271.8 1129.5,285.9 1141.1,279.3 1149.4,269.3 1161,279.3 1177.6,280.9 1190.9,285.9 1202.5,279.3 1214.2,278.4 1225.8,269.3 1234.1,239.4 1244,189.6 1250.7,123.2 1254,80" fill="none" stroke="#f00" stroke-width="10" stroke-linejoin="round" />
</g>
<rect x="748" y="96" width="509" height="1" fill="#000"/>
<rect x="748" y="329" width="509" height="1" fill="#000"/>
<rect x="748" y="96" width="1" height="234" fill="#000"/>
<rect x="1256" y="96" width="1" height="234" fill="#000"/>
<rect x="748" y="329" width="1" height="7" fill="#000"/>
<rect x="811" y="329" width="1" height="4" fill="#000"/>
<rect x="811" y="96" width="1" height="4" fill="#000"/>
<rect x="875" y="329" width="1" height="7" fill="#000"/>
<rect x="875" y="96" width="1" height="7" fill="#000"/>
<rect x="938" y="329" width="1" height="4" fill="#000"/>
<rect x="938" y="96" width="1" height="4" fill="#000"/>
<rect x="1002" y="329" width="1" height="7" fill="#000"/>
<rect x="1002" y="96" width="1" height="7" fill="#000"/>
<rect x="1065" y="329" width="1" height="4" fill="#000"/>
<rect x="1065" y="96" width="1" height="4" fill="#000"/>
<rect x="1129" y="329" width="1" height="7" fill="#000"/>
<rect x="1129" y="96" width="1" height="7" fill="#000"/>
<rect x="1192" y="329" width="1" height="4" fill="#000"/>
<rect x="1192" y="96" width="1" height="4" fill="#000"/>
<rect x="1256" y="329" width="1" height="7" fill="#000"/>
<rect x="745" y="96" width="4" height="1" fill="#000"/>
<rect x="743" y="119" width="6" height="1" fill="#000"/>
<rect x="1252" y="119" width="5" height="1" fill="#000"/>
<rect x="745" y="143" width="4" height="1" fill="#000"/>
<rect x="1254" y="143" width="3" height="1" fill="#000"/>
<rect x="743" y="166" width="6" height="1" fill="#000"/>
<rect x="1252" y="166" width="5" height="1" fill="#000"/>
<rect x="745" y="189" width="4" height="1" fill="#000"/>
<rect x="1254" y="189" width="3" height="1" fill="#000"/>
<rect x="743" y="212" width="6" height="1" fill="#000"/>
<rect x="1252" y="212" width="5" height="1" fill="#000"/>
<rect x="745" y="236" width="4" height="1" fill="#000"/>
<rect x="1254" y="236" width="3" height="1" fill="#000"/>
<rect x="743" y="259" width="6" height="1" fill="#000"/>
<rect x="1252" y="259" width="5" height="1" fill="#000"/>
<rect x="745" y="282" width="4" height="1" fill="#000"/>
<rect x="1254" y="282" width="3" height="1" fill="#000"/>
<rect x="743" y="306" width="6" height="1" fill="#000"/>
<rect x="1252" y="306" width="5" height="1" fill="#000"/>
<rect x="745" y="329" width="4" height="1" fill="#000"/>
<rect x="755" y="638" width="501" height="239" fill="#fff"/>
<g clip-path="url(#ci2)">
<polyline points="755.7,794.5 762.2,791.3 771.2,806 779.3,823.9 787.5,836.9 794,840.2 802.1,832 811.9,836.9 821.7,832.8 829.8,836.9 842,823.9 851.8,828.8 862.4,825.5 875.4,833.7 883.6,832 893.4,827.9 901.5,832 911.3,807.6 919.4,809.2 929.2,801.1 935.7,765.2 942.2,755.4 947.1,756.3 956.9,748.9 963.4,801.1 973.2,817.4 983,836.9 994.4,838.5 1000,832 1016.3,833.7 1034.2,817.4 1045.6,827.1 1056.2,832 1066,819 1076.6,827.1 1088,822.2 1097.8,820.6 1107.5,810.8 1117.3,817.4 1127.1,819 1137.7,809.2 1146.6,812.5 1158,814.1 1167.8,832 1178.4,827.1 1189,833.7 1194.7,814.1 1205.3,830.4 1216.7,830.4 1239.5,830.4 1255.3,817.4 1262,812" fill="none" stroke="#000" stroke-width="10" stroke-linejoin="round" />
<polyline points="755.7,825.5 771.2,786.4 784.2,802.7 792.4,817.4 797.2,840.2 810.3,853.2 823.3,853.2 832.3,845 842.9,850.8 854.3,843.4 870.6,843.4 883.6,856.5 893.4,832.8 903.1,846.7 912.9,832 922.7,833.7 934.1,819 945.5,773.4 955.3,735.9 964.2,704.9 966.7,706.6 974.8,752.2 984.6,806 994.4,819 1000,823 1013,822.2 1029.3,804.3 1042.4,792.9 1055.4,775 1065.2,771.7 1078.2,757.1 1088,745.7 1094.5,721.2 1101,687 1105.9,666.7 1114,671.5 1120.6,673.2 1128.7,669.1 1138.5,687 1146.6,722.9 1156.4,718.8 1166.2,747.3 1177.6,778.3 1189,784 1198.8,806 1208.5,810.8 1220,823.9 1239.5,824.7 1255.3,833.7 1262,838" fill="none" stroke="#f00" stroke-width="10" stroke-linejoin="round" />
</g>
<rect x="755" y="638" width="501" height="1" fill="#000"/>
<rect x="755" y="876" width="501" height="1" fill="#000"/>
<rect x="755" y="638" width="1" height="239" fill="#000"/>
<rect x="1255" y="638" width="1" height="239" fill="#000"/>
<rect x="755" y="876" width="1" height="7" fill="#000"/>
<rect x="817" y="876" width="1" height="4" fill="#000"/>
<rect x="817" y="638" width="1" height="4" fill="#000"/>
<rect x="880" y="876" width="1" height="7" fill="#000"/>
<rect x="880" y="638" width="1" height="7" fill="#000"/>
<rect x="942" y="876" width="1" height="4" fill="#000"/>
<rect x="942" y="638" width="1" height="4" fill="#000"/>
<rect x="1005" y="876" width="1" height="7" fill="#000"/>
<rect x="1005" y="638" width="1" height="7" fill="#000"/>
<rect x="1067" y="876" width="1" height="4" fill="#000"/>
<rect x="1067" y="638" width="1" height="4" fill="#000"/>
<rect x="1130" y="876" width="1" height="7" fill="#000"/>
<rect x="1130" y="638" width="1" height="7" fill="#000"/>
<rect x="1192" y="876" width="1" height="4" fill="#000"/>
<rect x="1192" y="638" width="1" height="4" fill="#000"/>
<rect x="1255" y="876" width="1" height="7" fill="#000"/>
<rect x="752" y="638" width="4" height="1" fill="#000"/>
<rect x="750" y="664" width="6" height="1" fill="#000"/>
<rect x="1251" y="664" width="5" height="1" fill="#000"/>
<rect x="752" y="691" width="4" height="1" fill="#000"/>
<rect x="1253" y="691" width="3" height="1" fill="#000"/>
<rect x="750" y="717" width="6" height="1" fill="#000"/>
<rect x="1251" y="717" width="5" height="1" fill="#000"/>
<rect x="752" y="744" width="4" height="1" fill="#000"/>
<rect x="1253" y="744" width="3" height="1" fill="#000"/>
<rect x="750" y="770" width="6" height="1" fill="#000"/>
<rect x="1251" y="770" width="5" height="1" fill="#000"/>
<rect x="752" y="797" width="4" height="1" fill="#000"/>
<rect x="1253" y="797" width="3" height="1" fill="#000"/>
<rect x="750" y="823" width="6" height="1" fill="#000"/>
<rect x="1251" y="823" width="5" height="1" fill="#000"/>
<rect x="752" y="850" width="4" height="1" fill="#000"/>
<rect x="1253" y="850" width="3" height="1" fill="#000"/>
<rect x="750" y="876" width="6" height="1" fill="#000"/>
<rect x="794.2" y="624" width="3.5" height="392.5" fill="#000"/>
<rect x="1110.8" y="636" width="3.5" height="291.7" fill="#000"/>
<line x1="737" y1="173.5" x2="686.5" y2="343" stroke="#000" stroke-width="8.5"/>
<polygon points="673,337 702,345 671.3,397" fill="#000"/>
<rect x="1716" y="361" width="9" height="56" fill="#000"/>
<polygon points="1705,416 1735,416 1720.3,475.7" fill="#000"/>
<line x1="857.4" y1="938" x2="840" y2="971.5" stroke="#000" stroke-width="8.5"/>
<polygon points="827.3,963.9 853.9,976.7 814.1,1022.8" fill="#000"/>
<rect x="1518.3" y="927.3" width="8.5" height="45.7" fill="#f00"/>
<polygon points="1508,972.4 1537.7,972.4 1522.5,1031.6" fill="#f00"/>
<rect x="260.2" y="1678" width="8.1" height="159" fill="#000"/>
<polygon points="249,1836.6 279,1836.6 264,1899.3" fill="#000"/>
<rect x="265.3" y="2173" width="8.7" height="111" fill="#f00"/>
<polygon points="254.7,2283.3 284.8,2283.3 269.8,2341.7" fill="#f00"/>
<text x="168.5" y="1256" font-size="69" fill="#000" font-family="Liberation Serif, Times New Roman, serif" style="font-kerning:none" text-anchor="middle">10</text>
<text x="168.5" y="2558.5" font-size="69" fill="#000" font-family="Liberation Serif, Times New Roman, serif" style="font-kerning:none" text-anchor="middle">10</text>
<text x="378" y="1256" font-size="69" fill="#000" font-family="Liberation Serif, Times New Roman, serif" style="font-kerning:none" text-anchor="middle">20</text>
<text x="378" y="2558.5" font-size="69" fill="#000" font-family="Liberation Serif, Times New Roman, serif" style="font-kerning:none" text-anchor="middle">20</text>
<text x="587.5" y="1256" font-size="69" fill="#000" font-family="Liberation Serif, Times New Roman, serif" style="font-kerning:none" text-anchor="middle">30</text>
<text x="587.5" y="2558.5" font-size="69" fill="#000" font-family="Liberation Serif, Times New Roman, serif" style="font-kerning:none" text-anchor="middle">30</text>
<text x="797" y="1256" font-size="69" fill="#000" font-family="Liberation Serif, Times New Roman, serif" style="font-kerning:none" text-anchor="middle">40</text>
<text x="797" y="2558.5" font-size="69" fill="#000" font-family="Liberation Serif, Times New Roman, serif" style="font-kerning:none" text-anchor="middle">40</text>
<text x="1006.5" y="1256" font-size="69" fill="#000" font-family="Liberation Serif, Times New Roman, serif" style="font-kerning:none" text-anchor="middle">50</text>
<text x="1006.5" y="2558.5" font-size="69" fill="#000" font-family="Liberation Serif, Times New Roman, serif" style="font-kerning:none" text-anchor="middle">50</text>
<text x="1216" y="1256" font-size="69" fill="#000" font-family="Liberation Serif, Times New Roman, serif" style="font-kerning:none" text-anchor="middle">60</text>
<text x="1216" y="2558.5" font-size="69" fill="#000" font-family="Liberation Serif, Times New Roman, serif" style="font-kerning:none" text-anchor="middle">60</text>
<text x="1425.5" y="1256" font-size="69" fill="#000" font-family="Liberation Serif, Times New Roman, serif" style="font-kerning:none" text-anchor="middle">70</text>
<text x="1425.5" y="2558.5" font-size="69" fill="#000" font-family="Liberation Serif, Times New Roman, serif" style="font-kerning:none" text-anchor="middle">70</text>
<text x="1635" y="1256" font-size="69" fill="#000" font-family="Liberation Serif, Times New Roman, serif" style="font-kerning:none" text-anchor="middle">80</text>
<text x="1635" y="2558.5" font-size="69" fill="#000" font-family="Liberation Serif, Times New Roman, serif" style="font-kerning:none" text-anchor="middle">80</text>
<text x="1844.5" y="1256" font-size="69" fill="#000" font-family="Liberation Serif, Times New Roman, serif" style="font-kerning:none" text-anchor="middle">90</text>
<text x="1844.5" y="2558.5" font-size="69" fill="#000" font-family="Liberation Serif, Times New Roman, serif" style="font-kerning:none" text-anchor="middle">90</text>
<text x="748.5" y="379.5" font-size="53" fill="#000" font-family="Liberation Serif, Times New Roman, serif" style="font-kerning:none" text-anchor="middle">33.0</text>
<text x="875.5" y="379.5" font-size="53" fill="#000" font-family="Liberation Serif, Times New Roman, serif" style="font-kerning:none" text-anchor="middle">33.5</text>
<text x="1002.5" y="379.5" font-size="53" fill="#000" font-family="Liberation Serif, Times New Roman, serif" style="font-kerning:none" text-anchor="middle">34.0</text>
<text x="1129.5" y="379.5" font-size="53" fill="#000" font-family="Liberation Serif, Times New Roman, serif" style="font-kerning:none" text-anchor="middle">34.5</text>
<text x="1256.5" y="379.5" font-size="53" fill="#000" font-family="Liberation Serif, Times New Roman, serif" style="font-kerning:none" text-anchor="middle">35.0</text>
<text x="755.5" y="927" font-size="53" fill="#000" font-family="Liberation Serif, Times New Roman, serif" style="font-kerning:none" text-anchor="middle">39.0</text>
<text x="880.5" y="927" font-size="53" fill="#000" font-family="Liberation Serif, Times New Roman, serif" style="font-kerning:none" text-anchor="middle">39.5</text>
<text x="1005.5" y="927" font-size="53" fill="#000" font-family="Liberation Serif, Times New Roman, serif" style="font-kerning:none" text-anchor="middle">40.0</text>
<text x="1130.5" y="927" font-size="53" fill="#000" font-family="Liberation Serif, Times New Roman, serif" style="font-kerning:none" text-anchor="middle">40.5</text>
<text x="1255.5" y="927" font-size="53" fill="#000" font-family="Liberation Serif, Times New Roman, serif" style="font-kerning:none" text-anchor="middle">41.0</text>
<text x="265.2" y="149" font-size="96" fill="#000" font-family="Liberation Serif, Times New Roman, serif" style="font-kerning:none">a)</text>
<text x="190" y="1446" font-size="96" fill="#000" font-family="Liberation Serif, Times New Roman, serif" style="font-kerning:none">b)</text>
<text x="1279.8" y="246.9" font-size="67" fill="#000" font-family="Liberation Serif, Times New Roman, serif" style="font-kerning:none">PdLTA</text>
<text x="1280" y="337" font-size="67" fill="#000" font-family="Liberation Serif, Times New Roman, serif" style="font-kerning:none">(degreened, 600°C)</text>
<text x="616" y="652.2" font-size="67" fill="#000" font-family="Liberation Serif, Times New Roman, serif" style="font-kerning:none">PdO</text>
<text x="762" y="599.4" font-size="67" fill="#000" font-family="Liberation Serif, Times New Roman, serif" style="font-kerning:none">Pd</text>
<text x="1054.2" y="610" font-size="67" fill="#000" font-family="Liberation Serif, Times New Roman, serif" style="font-kerning:none">PdO</text>
<text x="1640.5" y="732.8" font-size="67" fill="#000" font-family="Liberation Serif, Times New Roman, serif" style="font-kerning:none">Pd</text>
<text x="1284.4" y="806.2" font-size="67" fill="#f00" font-family="Liberation Serif, Times New Roman, serif" style="font-kerning:none">PdLTA</text>
<text x="1283.4" y="897" font-size="67" fill="#f00" font-family="Liberation Serif, Times New Roman, serif" style="font-kerning:none">(aged, 900°C)</text>
<text x="178.5" y="1564.2" font-size="67" fill="#000" font-family="Liberation Serif, Times New Roman, serif" style="font-kerning:none">PdAl</text>
<text x="177.5" y="1655.4" font-size="67" fill="#000" font-family="Liberation Serif, Times New Roman, serif" style="font-kerning:none">(degreened, 600°C)</text>
<text x="618" y="1918.8" font-size="67" fill="#000" font-family="Liberation Serif, Times New Roman, serif" style="font-kerning:none">PdO</text>
<text x="767.3" y="2004" font-size="67" fill="#000" font-family="Liberation Serif, Times New Roman, serif" style="font-kerning:none">Pd</text>
<text x="1055.1" y="2118.8" font-size="67" fill="#000" font-family="Liberation Serif, Times New Roman, serif" style="font-kerning:none">PdO</text>
<text x="1644.9" y="2189.8" font-size="67" fill="#000" font-family="Liberation Serif, Times New Roman, serif" style="font-kerning:none">Pd</text>
<text x="185.5" y="2063.5" font-size="67" fill="#f00" font-family="Liberation Serif, Times New Roman, serif" style="font-kerning:none">PdAl</text>
<text x="184.5" y="2153.7" font-size="67" fill="#f00" font-family="Liberation Serif, Times New Roman, serif" style="font-kerning:none">(aged, 900°C)</text>
<text transform="translate(90.2,887) rotate(-90)" font-size="82" fill="#000" font-family="Liberation Serif, Times New Roman, serif" style="font-kerning:none">Intensity (counts)</text>
<text transform="translate(82.1,2188.8) rotate(-90)" font-size="82" fill="#000" font-family="Liberation Serif, Times New Roman, serif" style="font-kerning:none">Intensity (counts)</text>
<text x="818.7" y="2693.5" font-size="82" fill="#000" font-family="Liberation Serif, Times New Roman, serif" style="font-kerning:none">2θ angle</text>
<text x="1117.4" y="2693.5" font-size="69" fill="#000" font-family="Liberation Serif, Times New Roman, serif" style="font-kerning:none">(°)</text>
<text transform="translate(1753.5,244.6) rotate(-90)" font-size="69" fill="#000" font-family="Liberation Serif, Times New Roman, serif" style="font-kerning:none" letter-spacing="-1.4">2000</text>
<text transform="translate(1769,1641) rotate(-90)" font-size="69" fill="#000" font-family="Liberation Serif, Times New Roman, serif" style="font-kerning:none" letter-spacing="-2.2">1000</text>
</svg>
</body></html>
